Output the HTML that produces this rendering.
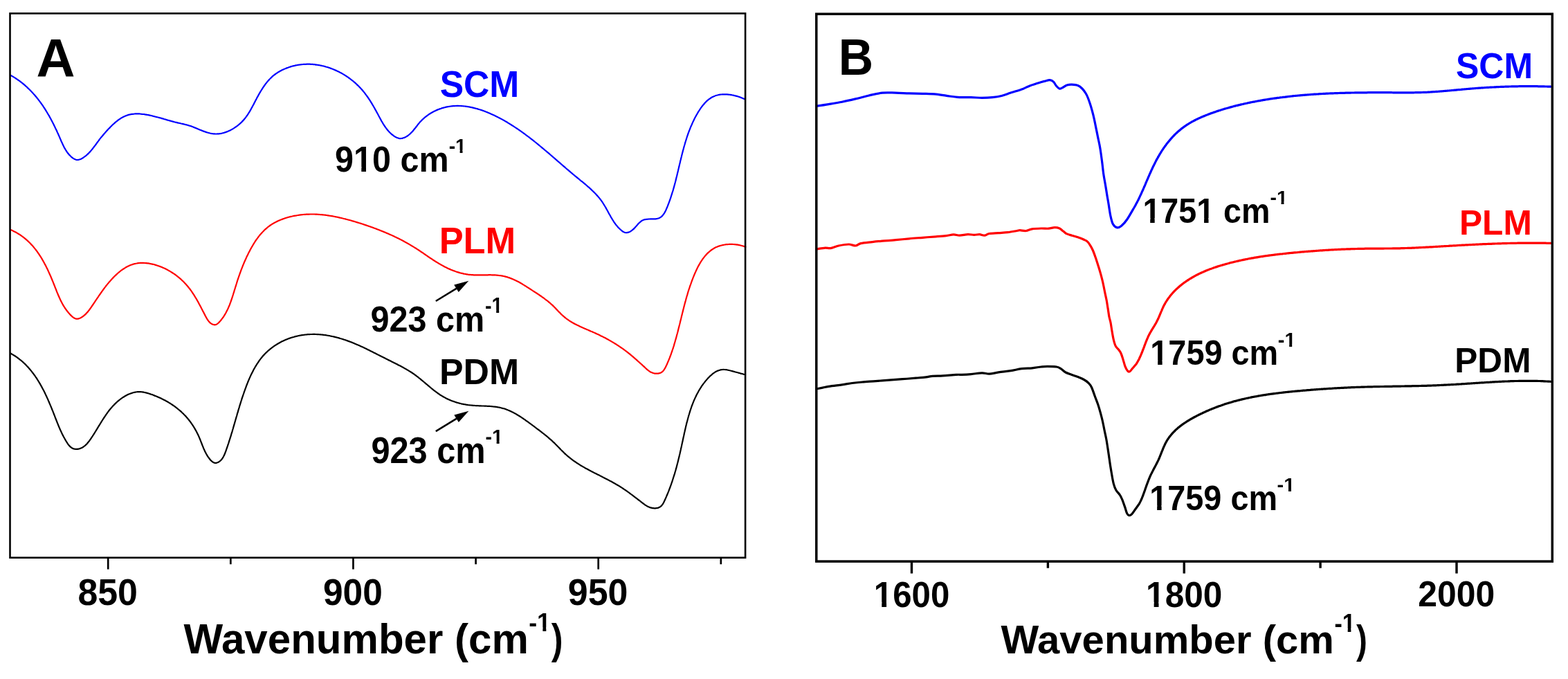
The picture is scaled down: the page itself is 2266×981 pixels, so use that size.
<!DOCTYPE html>
<html><head><meta charset="utf-8"><title>FTIR spectra</title>
<style>html,body{margin:0;padding:0;background:#fff;}svg{display:block;}</style>
</head><body>
<svg width="2266" height="981" viewBox="0 0 2266 981" font-family="Liberation Sans, Arial, sans-serif" font-weight="bold">
<rect width="2266" height="981" fill="#fff"/>
<defs><clipPath id="k2" clipPathUnits="userSpaceOnUse"><path clip-rule="evenodd" d="M11.00 262.00H1530.00V409.00H11.00ZM88.97 353.38H98.64V360.98H88.97ZM105.40 353.38H114.69V360.98H105.40Z"/></clipPath><clipPath id="k3" clipPathUnits="userSpaceOnUse"><path clip-rule="evenodd" d="M32.00 434.00H900.00V518.00H32.00ZM70.29 486.22H75.82V490.56H70.29ZM79.69 486.22H84.99V490.56H79.69Z"/></clipPath><clipPath id="k6" clipPathUnits="userSpaceOnUse"><path clip-rule="evenodd" d="M32.00 824.00H900.00V908.00H32.00ZM70.29 876.22H75.82V880.56H70.29ZM79.69 876.22H84.99V880.56H79.69Z"/></clipPath><clipPath id="k9" clipPathUnits="userSpaceOnUse"><path clip-rule="evenodd" d="M32.00 1214.00H900.00V1298.00H32.00ZM70.29 1266.22H75.82V1270.56H70.29ZM79.69 1266.22H84.99V1270.56H79.69Z"/></clipPath><clipPath id="k12" clipPathUnits="userSpaceOnUse"><path clip-rule="evenodd" d="M12.00 1564.00H1500.00V1708.00H12.00ZM61.68 1653.52H71.16V1660.96H61.68ZM77.78 1653.52H86.88V1660.96H77.78ZM141.76 1653.52H151.24V1660.96H141.76ZM157.86 1653.52H166.96V1660.96H157.86Z"/></clipPath><clipPath id="k13" clipPathUnits="userSpaceOnUse"><path clip-rule="evenodd" d="M33.00 1736.00H870.00V1817.00H33.00ZM69.93 1786.36H75.26V1790.54H69.93ZM78.99 1786.36H84.10V1790.54H78.99Z"/></clipPath><clipPath id="k15" clipPathUnits="userSpaceOnUse"><path clip-rule="evenodd" d="M12.00 1954.00H1500.00V2098.00H12.00ZM61.68 2043.52H71.16V2050.96H61.68ZM77.78 2043.52H86.88V2050.96H77.78Z"/></clipPath><clipPath id="k16" clipPathUnits="userSpaceOnUse"><path clip-rule="evenodd" d="M33.00 2126.00H870.00V2207.00H33.00ZM69.93 2176.36H75.26V2180.54H69.93ZM78.99 2176.36H84.10V2180.54H78.99Z"/></clipPath><clipPath id="k18" clipPathUnits="userSpaceOnUse"><path clip-rule="evenodd" d="M12.00 2344.00H1500.00V2488.00H12.00ZM61.68 2433.52H71.16V2440.96H61.68ZM77.78 2433.52H86.88V2440.96H77.78Z"/></clipPath><clipPath id="k19" clipPathUnits="userSpaceOnUse"><path clip-rule="evenodd" d="M33.00 2516.00H870.00V2597.00H33.00ZM69.93 2566.36H75.26V2570.54H69.93ZM78.99 2566.36H84.10V2570.54H78.99Z"/></clipPath><clipPath id="k23" clipPathUnits="userSpaceOnUse"><path clip-rule="evenodd" d="M10.00 2990.00H1560.00V3140.00H10.00ZM61.75 3083.25H71.62V3091.00H61.75ZM78.53 3083.25H88.00V3091.00H78.53Z"/></clipPath><clipPath id="k24" clipPathUnits="userSpaceOnUse"><path clip-rule="evenodd" d="M10.00 3120.00H1560.00V3270.00H10.00ZM61.75 3213.25H71.62V3221.00H61.75ZM78.53 3213.25H88.00V3221.00H78.53Z"/></clipPath><clipPath id="k27" clipPathUnits="userSpaceOnUse"><path clip-rule="evenodd" d="M25.00 3540.00H1110.00V3645.00H25.00ZM72.87 3605.28H79.78V3610.70H72.87ZM84.61 3605.28H91.24V3610.70H84.61Z"/></clipPath><clipPath id="k30" clipPathUnits="userSpaceOnUse"><path clip-rule="evenodd" d="M26.00 3932.00H1080.00V4034.00H26.00ZM72.50 3995.41H79.22V4000.68H72.50ZM83.91 3995.41H90.35V4000.68H83.91Z"/></clipPath></defs>
<path d="M15.0 108.6 C15.3 108.8 16.2 109.3 16.7 109.6 C17.3 109.9 17.9 110.3 18.5 110.6 C19.1 110.9 19.6 111.3 20.2 111.6 C20.8 112.0 21.3 112.3 21.9 112.7 C22.5 113.1 23.0 113.4 23.6 113.8 C24.1 114.2 24.7 114.5 25.2 114.9 C25.8 115.3 26.3 115.7 26.9 116.1 C27.4 116.4 27.9 116.8 28.5 117.2 C29.0 117.6 29.6 118.0 30.1 118.4 C30.6 118.8 31.1 119.3 31.7 119.7 C32.2 120.1 32.7 120.5 33.2 120.9 C33.7 121.4 34.2 121.8 34.8 122.2 C35.3 122.6 35.8 123.1 36.3 123.5 C36.8 124.0 37.3 124.4 37.8 124.9 C38.3 125.3 38.8 125.8 39.3 126.2 C39.7 126.7 40.2 127.1 40.7 127.6 C41.2 128.0 41.7 128.5 42.1 129.0 C42.6 129.4 43.1 129.9 43.6 130.4 C44.0 130.9 44.5 131.4 45.0 131.8 C45.4 132.3 45.9 132.8 46.3 133.3 C46.8 133.8 47.3 134.3 47.7 134.8 C48.2 135.3 48.6 135.8 49.0 136.3 C49.5 136.8 49.9 137.3 50.4 137.8 C50.8 138.3 51.2 138.8 51.7 139.3 C52.1 139.8 52.5 140.3 52.9 140.8 C53.4 141.4 53.8 141.9 54.2 142.4 C54.6 142.9 55.0 143.5 55.4 144.0 C55.9 144.5 56.3 145.0 56.7 145.6 C57.1 146.1 57.5 146.6 57.9 147.2 C58.3 147.7 58.7 148.2 59.0 148.8 C59.4 149.3 59.8 149.9 60.2 150.4 C60.6 151.0 61.0 151.5 61.4 152.0 C61.7 152.6 62.1 153.1 62.5 153.7 C62.8 154.2 63.2 154.8 63.6 155.4 C63.9 155.9 64.3 156.5 64.7 157.0 C65.0 157.6 65.4 158.1 65.7 158.7 C66.1 159.3 66.4 159.8 66.8 160.4 C67.1 161.0 67.5 161.5 67.8 162.1 C68.2 162.7 68.5 163.2 68.8 163.8 C69.2 164.4 69.5 164.9 69.8 165.5 C70.2 166.1 70.5 166.7 70.8 167.2 C71.2 167.8 71.5 168.4 71.8 169.0 C72.1 169.6 72.4 170.1 72.8 170.7 C73.1 171.3 73.4 171.9 73.7 172.5 C74.0 173.1 74.3 173.7 74.7 174.3 C75.0 174.8 75.3 175.4 75.6 176.0 C75.9 176.6 76.2 177.2 76.5 177.8 C76.8 178.4 77.1 179.0 77.4 179.6 C77.7 180.2 78.0 180.8 78.3 181.4 C78.6 182.0 78.9 182.6 79.2 183.2 C79.4 183.8 79.7 184.4 80.0 185.0 C80.3 185.6 80.6 186.2 80.9 186.8 C81.2 187.4 81.5 188.0 81.7 188.6 C82.0 189.2 82.3 189.8 82.6 190.5 C82.9 191.1 83.1 191.7 83.4 192.3 C83.7 192.9 84.0 193.5 84.3 194.1 C84.5 194.7 84.8 195.4 85.1 196.0 C85.4 196.6 85.6 197.2 85.9 197.8 C86.2 198.4 86.4 199.1 86.7 199.7 C87.0 200.3 87.2 200.9 87.5 201.5 C87.8 202.2 88.1 202.8 88.3 203.4 C88.6 204.0 88.9 204.6 89.1 205.3 C89.4 205.9 89.7 206.5 90.0 207.1 C90.3 207.7 90.5 208.3 90.8 208.9 C91.1 209.6 91.4 210.2 91.7 210.8 C92.0 211.4 92.3 212.0 92.6 212.6 C92.9 213.1 93.2 213.7 93.6 214.3 C93.9 214.9 94.2 215.5 94.6 216.1 C94.9 216.6 95.3 217.2 95.6 217.8 C96.0 218.3 96.4 218.9 96.7 219.4 C97.1 220.0 97.5 220.5 97.9 221.0 C98.3 221.5 98.7 222.1 99.2 222.6 C99.6 223.1 100.0 223.6 100.5 224.1 C101.0 224.6 101.4 225.0 101.9 225.5 C102.4 226.0 102.9 226.4 103.4 226.9 C103.9 227.3 104.5 227.8 105.0 228.2 C105.6 228.6 106.1 229.0 106.7 229.3 C107.3 229.6 107.9 230.0 108.5 230.2 C109.0 230.4 109.6 230.6 110.2 230.8 C110.8 230.9 111.5 231.0 112.1 231.0 C112.7 231.0 113.3 230.9 113.9 230.7 C114.5 230.6 115.1 230.4 115.7 230.2 C116.4 230.0 117.0 229.7 117.6 229.4 C118.2 229.1 118.7 228.7 119.3 228.4 C119.9 228.0 120.5 227.7 121.0 227.3 C121.6 226.9 122.1 226.5 122.7 226.1 C123.2 225.7 123.7 225.3 124.3 224.9 C124.8 224.4 125.3 224.0 125.8 223.5 C126.3 223.1 126.8 222.6 127.3 222.1 C127.8 221.7 128.3 221.2 128.7 220.7 C129.2 220.2 129.7 219.7 130.1 219.2 C130.6 218.7 131.0 218.2 131.5 217.7 C131.9 217.1 132.4 216.6 132.8 216.1 C133.3 215.5 133.7 215.0 134.1 214.5 C134.5 213.9 135.0 213.4 135.4 212.8 C135.8 212.3 136.2 211.8 136.6 211.2 C137.0 210.7 137.5 210.1 137.9 209.6 C138.3 209.0 138.7 208.5 139.1 207.9 C139.5 207.4 139.9 206.8 140.3 206.3 C140.7 205.7 141.1 205.2 141.5 204.6 C141.9 204.1 142.3 203.6 142.7 203.0 C143.1 202.5 143.4 202.0 143.8 201.5 C144.2 200.9 144.6 200.4 145.0 199.9 C145.4 199.4 145.8 198.9 146.2 198.4 C146.6 197.9 147.0 197.5 147.5 197.0 C147.9 196.5 148.3 196.0 148.7 195.5 C149.1 195.0 149.5 194.5 149.9 194.1 C150.3 193.6 150.8 193.1 151.2 192.6 C151.6 192.1 152.1 191.6 152.5 191.1 C152.9 190.6 153.4 190.1 153.8 189.6 C154.3 189.1 154.7 188.6 155.2 188.1 C155.6 187.6 156.1 187.1 156.5 186.6 C157.0 186.1 157.5 185.6 157.9 185.2 C158.4 184.7 158.9 184.2 159.3 183.7 C159.8 183.2 160.3 182.7 160.8 182.2 C161.3 181.7 161.8 181.3 162.3 180.8 C162.8 180.3 163.3 179.8 163.8 179.4 C164.3 178.9 164.8 178.5 165.3 178.0 C165.8 177.6 166.3 177.1 166.8 176.7 C167.4 176.2 167.9 175.8 168.4 175.4 C169.0 175.0 169.5 174.5 170.0 174.1 C170.6 173.7 171.1 173.3 171.7 172.9 C172.2 172.5 172.8 172.2 173.3 171.8 C173.9 171.4 174.4 171.1 175.0 170.7 C175.6 170.4 176.1 170.1 176.7 169.7 C177.3 169.4 177.9 169.1 178.5 168.8 C179.1 168.5 179.6 168.2 180.2 168.0 C180.8 167.7 181.4 167.4 182.0 167.2 C182.6 167.0 183.3 166.7 183.9 166.5 C184.5 166.3 185.1 166.1 185.7 165.9 C186.4 165.8 187.0 165.6 187.6 165.5 C188.2 165.3 188.9 165.2 189.5 165.1 C190.2 165.0 190.8 164.9 191.5 164.8 C192.1 164.7 192.8 164.6 193.4 164.6 C194.1 164.5 194.7 164.5 195.4 164.4 C196.1 164.4 196.7 164.4 197.4 164.4 C198.0 164.4 198.7 164.4 199.4 164.4 C200.1 164.4 200.7 164.4 201.4 164.4 C202.1 164.5 202.7 164.5 203.4 164.6 C204.1 164.6 204.8 164.7 205.4 164.8 C206.1 164.8 206.8 164.9 207.5 165.0 C208.2 165.1 208.8 165.2 209.5 165.3 C210.2 165.4 210.9 165.5 211.5 165.6 C212.2 165.8 212.9 165.9 213.6 166.0 C214.2 166.1 214.9 166.3 215.6 166.4 C216.3 166.6 216.9 166.7 217.6 166.8 C218.3 167.0 218.9 167.1 219.6 167.3 C220.2 167.5 220.9 167.6 221.6 167.8 C222.2 167.9 222.9 168.1 223.5 168.3 C224.2 168.4 224.8 168.6 225.5 168.8 C226.1 168.9 226.8 169.1 227.4 169.3 C228.1 169.5 228.7 169.6 229.3 169.8 C230.0 170.0 230.6 170.2 231.3 170.3 C231.9 170.5 232.5 170.7 233.2 170.9 C233.8 171.1 234.4 171.2 235.1 171.4 C235.7 171.6 236.3 171.8 237.0 172.0 C237.6 172.1 238.2 172.3 238.9 172.5 C239.5 172.7 240.1 172.9 240.8 173.1 C241.4 173.2 242.0 173.4 242.6 173.6 C243.3 173.8 243.9 174.0 244.5 174.1 C245.2 174.3 245.8 174.5 246.4 174.7 C247.1 174.8 247.7 175.0 248.3 175.2 C249.0 175.4 249.6 175.5 250.2 175.7 C250.9 175.9 251.5 176.0 252.1 176.2 C252.8 176.4 253.4 176.5 254.1 176.7 C254.7 176.8 255.3 177.0 256.0 177.1 C256.6 177.3 257.3 177.4 257.9 177.6 C258.6 177.7 259.2 177.9 259.9 178.0 C260.5 178.2 261.2 178.3 261.8 178.5 C262.5 178.6 263.1 178.8 263.8 178.9 C264.4 179.1 265.1 179.2 265.7 179.4 C266.4 179.5 267.0 179.7 267.7 179.9 C268.3 180.0 269.0 180.2 269.6 180.4 C270.3 180.5 270.9 180.7 271.6 180.9 C272.2 181.1 272.9 181.3 273.5 181.5 C274.1 181.7 274.8 181.9 275.4 182.1 C276.1 182.4 276.7 182.6 277.3 182.8 C278.0 183.1 278.6 183.3 279.2 183.5 C279.8 183.8 280.5 184.0 281.1 184.3 C281.7 184.5 282.4 184.8 283.0 185.0 C283.6 185.3 284.2 185.6 284.9 185.8 C285.5 186.1 286.1 186.3 286.7 186.6 C287.4 186.9 288.0 187.1 288.6 187.4 C289.2 187.6 289.8 187.9 290.5 188.1 C291.1 188.4 291.7 188.6 292.3 188.9 C292.9 189.1 293.6 189.4 294.2 189.6 C294.8 189.8 295.4 190.1 296.1 190.3 C296.7 190.5 297.3 190.7 297.9 190.9 C298.5 191.1 299.2 191.3 299.8 191.5 C300.4 191.7 301.0 191.9 301.7 192.0 C302.3 192.2 302.9 192.3 303.6 192.5 C304.2 192.6 304.8 192.7 305.4 192.9 C306.1 193.0 306.7 193.1 307.3 193.2 C308.0 193.2 308.6 193.3 309.3 193.4 C309.9 193.4 310.5 193.5 311.2 193.5 C311.8 193.5 312.5 193.5 313.1 193.5 C313.8 193.5 314.4 193.4 315.1 193.4 C315.7 193.3 316.3 193.3 317.0 193.2 C317.6 193.1 318.3 193.0 319.0 192.9 C319.6 192.8 320.3 192.6 320.9 192.5 C321.5 192.3 322.2 192.2 322.8 192.0 C323.5 191.8 324.1 191.6 324.8 191.4 C325.4 191.2 326.1 191.0 326.7 190.8 C327.4 190.6 328.0 190.3 328.6 190.1 C329.3 189.8 329.9 189.5 330.5 189.3 C331.1 189.0 331.8 188.7 332.4 188.4 C333.0 188.1 333.6 187.8 334.2 187.4 C334.9 187.1 335.5 186.8 336.1 186.4 C336.7 186.1 337.3 185.7 337.8 185.4 C338.4 185.0 339.0 184.6 339.6 184.2 C340.2 183.8 340.7 183.4 341.3 183.0 C341.9 182.6 342.4 182.2 343.0 181.8 C343.5 181.4 344.1 180.9 344.6 180.5 C345.1 180.1 345.7 179.6 346.2 179.2 C346.7 178.7 347.2 178.3 347.7 177.8 C348.2 177.3 348.7 176.9 349.2 176.4 C349.7 175.9 350.1 175.4 350.6 174.9 C351.0 174.5 351.5 174.0 351.9 173.5 C352.4 173.0 352.8 172.5 353.2 172.0 C353.7 171.5 354.1 170.9 354.5 170.4 C354.9 169.9 355.3 169.4 355.7 168.9 C356.1 168.3 356.4 167.8 356.8 167.3 C357.2 166.8 357.6 166.2 357.9 165.7 C358.3 165.1 358.6 164.6 359.0 164.0 C359.3 163.5 359.7 162.9 360.0 162.4 C360.4 161.8 360.7 161.3 361.0 160.7 C361.4 160.2 361.7 159.6 362.0 159.0 C362.3 158.5 362.7 157.9 363.0 157.3 C363.3 156.8 363.6 156.2 363.9 155.6 C364.2 155.0 364.5 154.5 364.8 153.9 C365.2 153.3 365.5 152.7 365.8 152.1 C366.1 151.6 366.4 151.0 366.7 150.4 C367.0 149.8 367.3 149.2 367.6 148.6 C367.9 148.0 368.2 147.4 368.5 146.9 C368.8 146.3 369.1 145.7 369.4 145.1 C369.7 144.5 370.0 143.9 370.4 143.3 C370.7 142.7 371.0 142.1 371.3 141.5 C371.6 140.9 371.9 140.3 372.3 139.8 C372.6 139.2 372.9 138.6 373.2 138.0 C373.5 137.4 373.9 136.8 374.2 136.2 C374.5 135.6 374.9 135.0 375.2 134.5 C375.5 133.9 375.9 133.3 376.2 132.7 C376.6 132.1 376.9 131.6 377.3 131.0 C377.6 130.4 378.0 129.8 378.3 129.3 C378.7 128.7 379.1 128.1 379.4 127.6 C379.8 127.0 380.2 126.4 380.5 125.9 C380.9 125.3 381.3 124.8 381.7 124.2 C382.1 123.7 382.5 123.1 382.8 122.6 C383.2 122.1 383.6 121.5 384.0 121.0 C384.5 120.5 384.9 119.9 385.3 119.4 C385.7 118.9 386.1 118.4 386.5 117.9 C387.0 117.4 387.4 116.9 387.8 116.4 C388.3 115.9 388.7 115.4 389.2 114.9 C389.6 114.4 390.1 113.9 390.6 113.5 C391.0 113.0 391.5 112.5 392.0 112.1 C392.5 111.6 392.9 111.2 393.4 110.7 C393.9 110.3 394.4 109.9 394.9 109.4 C395.5 109.0 396.0 108.6 396.5 108.2 C397.0 107.8 397.5 107.4 398.1 107.0 C398.6 106.6 399.2 106.2 399.7 105.8 C400.3 105.5 400.8 105.1 401.4 104.7 C401.9 104.4 402.5 104.0 403.1 103.7 C403.7 103.4 404.2 103.0 404.8 102.7 C405.4 102.4 406.0 102.0 406.6 101.7 C407.2 101.4 407.8 101.1 408.4 100.8 C409.0 100.5 409.6 100.3 410.2 100.0 C410.8 99.7 411.5 99.4 412.1 99.2 C412.7 98.9 413.3 98.7 414.0 98.4 C414.6 98.2 415.2 97.9 415.9 97.7 C416.5 97.5 417.1 97.2 417.8 97.0 C418.4 96.8 419.1 96.6 419.7 96.4 C420.4 96.2 421.0 96.0 421.7 95.8 C422.3 95.7 423.0 95.5 423.6 95.3 C424.3 95.2 424.9 95.0 425.6 94.9 C426.3 94.7 426.9 94.6 427.6 94.4 C428.2 94.3 428.9 94.2 429.6 94.0 C430.2 93.9 430.9 93.8 431.6 93.7 C432.2 93.6 432.9 93.5 433.6 93.4 C434.2 93.3 434.9 93.3 435.6 93.2 C436.2 93.1 436.9 93.1 437.6 93.0 C438.2 93.0 438.9 92.9 439.6 92.9 C440.2 92.8 440.9 92.8 441.6 92.8 C442.2 92.7 442.9 92.7 443.6 92.7 C444.2 92.7 444.9 92.7 445.5 92.7 C446.2 92.7 446.9 92.7 447.5 92.7 C448.2 92.8 448.9 92.8 449.5 92.8 C450.2 92.9 450.9 92.9 451.5 92.9 C452.2 93.0 452.8 93.1 453.5 93.1 C454.2 93.2 454.8 93.2 455.5 93.3 C456.1 93.4 456.8 93.5 457.5 93.6 C458.1 93.7 458.8 93.8 459.4 93.9 C460.1 94.0 460.7 94.1 461.4 94.2 C462.0 94.3 462.7 94.4 463.4 94.6 C464.0 94.7 464.7 94.8 465.3 95.0 C465.9 95.1 466.6 95.3 467.2 95.4 C467.9 95.6 468.5 95.8 469.2 95.9 C469.8 96.1 470.5 96.3 471.1 96.5 C471.7 96.6 472.4 96.8 473.0 97.0 C473.6 97.2 474.3 97.4 474.9 97.6 C475.5 97.8 476.2 98.0 476.8 98.3 C477.4 98.5 478.1 98.7 478.7 98.9 C479.3 99.2 479.9 99.4 480.5 99.7 C481.2 99.9 481.8 100.1 482.4 100.4 C483.0 100.7 483.6 100.9 484.2 101.2 C484.8 101.5 485.5 101.7 486.1 102.0 C486.7 102.3 487.3 102.6 487.9 102.9 C488.5 103.2 489.1 103.4 489.7 103.7 C490.3 104.0 490.9 104.4 491.4 104.7 C492.0 105.0 492.6 105.3 493.2 105.6 C493.8 105.9 494.4 106.3 495.0 106.6 C495.5 106.9 496.1 107.3 496.7 107.6 C497.3 108.0 497.8 108.3 498.4 108.7 C499.0 109.0 499.5 109.4 500.1 109.8 C500.6 110.1 501.2 110.5 501.8 110.9 C502.3 111.2 502.9 111.6 503.4 112.0 C504.0 112.4 504.5 112.8 505.0 113.2 C505.6 113.6 506.1 114.0 506.6 114.4 C507.2 114.8 507.7 115.2 508.2 115.6 C508.8 116.0 509.3 116.4 509.8 116.8 C510.3 117.3 510.8 117.7 511.3 118.1 C511.9 118.6 512.4 119.0 512.9 119.4 C513.4 119.9 513.9 120.3 514.4 120.8 C514.8 121.2 515.3 121.7 515.8 122.1 C516.3 122.6 516.8 123.1 517.3 123.5 C517.7 124.0 518.2 124.5 518.7 124.9 C519.1 125.4 519.6 125.9 520.1 126.4 C520.5 126.9 521.0 127.3 521.4 127.8 C521.9 128.3 522.3 128.8 522.8 129.3 C523.2 129.8 523.6 130.3 524.1 130.8 C524.5 131.3 524.9 131.8 525.4 132.4 C525.8 132.9 526.2 133.4 526.6 133.9 C527.0 134.4 527.4 135.0 527.8 135.5 C528.2 136.0 528.6 136.5 529.0 137.1 C529.4 137.6 529.8 138.2 530.2 138.7 C530.6 139.2 531.0 139.8 531.4 140.3 C531.7 140.9 532.1 141.4 532.5 142.0 C532.9 142.5 533.2 143.1 533.6 143.6 C534.0 144.2 534.3 144.7 534.7 145.3 C535.0 145.9 535.4 146.4 535.8 147.0 C536.1 147.6 536.5 148.1 536.8 148.7 C537.2 149.3 537.5 149.8 537.9 150.4 C538.2 151.0 538.5 151.6 538.9 152.1 C539.2 152.7 539.6 153.3 539.9 153.9 C540.2 154.5 540.6 155.0 540.9 155.6 C541.2 156.2 541.6 156.8 541.9 157.4 C542.2 158.0 542.5 158.5 542.9 159.1 C543.2 159.7 543.5 160.3 543.8 160.9 C544.2 161.5 544.5 162.1 544.8 162.7 C545.1 163.3 545.4 163.9 545.8 164.4 C546.1 165.0 546.4 165.6 546.7 166.2 C547.0 166.8 547.3 167.4 547.6 168.0 C548.0 168.6 548.3 169.2 548.6 169.8 C548.9 170.4 549.2 171.0 549.6 171.6 C549.9 172.1 550.2 172.7 550.5 173.3 C550.8 173.9 551.2 174.5 551.5 175.1 C551.8 175.6 552.2 176.2 552.5 176.8 C552.8 177.4 553.2 178.0 553.5 178.5 C553.9 179.1 554.2 179.7 554.6 180.2 C554.9 180.8 555.3 181.3 555.7 181.9 C556.0 182.4 556.4 183.0 556.8 183.5 C557.2 184.1 557.6 184.6 558.0 185.1 C558.4 185.7 558.8 186.2 559.2 186.7 C559.6 187.2 560.0 187.7 560.4 188.2 C560.9 188.8 561.3 189.3 561.7 189.7 C562.2 190.2 562.6 190.7 563.1 191.2 C563.6 191.7 564.1 192.1 564.5 192.6 C565.0 193.1 565.5 193.5 566.0 194.0 C566.6 194.4 567.1 194.8 567.6 195.2 C568.2 195.7 568.7 196.1 569.3 196.5 C569.8 196.9 570.4 197.3 571.0 197.6 C571.6 198.0 572.1 198.3 572.7 198.6 C573.3 198.9 574.0 199.1 574.6 199.3 C575.2 199.5 575.8 199.7 576.5 199.9 C577.1 200.0 577.7 200.1 578.4 200.1 C579.0 200.1 579.7 200.1 580.3 200.0 C581.0 199.9 581.6 199.7 582.3 199.5 C582.9 199.4 583.6 199.1 584.2 198.9 C584.8 198.6 585.5 198.3 586.1 198.0 C586.7 197.7 587.3 197.3 587.9 196.9 C588.5 196.6 589.1 196.2 589.6 195.8 C590.2 195.4 590.7 195.0 591.3 194.5 C591.8 194.1 592.3 193.7 592.8 193.2 C593.3 192.7 593.8 192.3 594.2 191.8 C594.7 191.3 595.2 190.9 595.6 190.4 C596.1 189.9 596.5 189.4 597.0 188.9 C597.4 188.4 597.8 187.8 598.2 187.3 C598.7 186.8 599.1 186.3 599.5 185.8 C599.9 185.2 600.3 184.7 600.7 184.2 C601.1 183.7 601.5 183.1 602.0 182.6 C602.4 182.1 602.8 181.5 603.2 181.0 C603.6 180.5 604.0 179.9 604.4 179.4 C604.9 178.9 605.3 178.4 605.7 177.9 C606.1 177.4 606.6 176.8 607.0 176.3 C607.5 175.8 607.9 175.3 608.4 174.9 C608.9 174.4 609.3 173.9 609.8 173.4 C610.3 172.9 610.8 172.5 611.3 172.0 C611.8 171.6 612.3 171.1 612.8 170.7 C613.3 170.2 613.8 169.8 614.3 169.3 C614.9 168.9 615.4 168.5 615.9 168.1 C616.5 167.7 617.0 167.3 617.6 166.9 C618.1 166.5 618.7 166.1 619.2 165.7 C619.8 165.3 620.3 164.9 620.9 164.6 C621.5 164.2 622.1 163.8 622.6 163.5 C623.2 163.1 623.8 162.8 624.4 162.5 C625.0 162.1 625.6 161.8 626.2 161.5 C626.8 161.2 627.4 160.9 628.0 160.6 C628.6 160.3 629.2 160.0 629.8 159.7 C630.4 159.4 631.0 159.1 631.7 158.9 C632.3 158.6 632.9 158.3 633.5 158.1 C634.1 157.9 634.8 157.6 635.4 157.4 C636.0 157.2 636.6 156.9 637.3 156.7 C637.9 156.5 638.5 156.3 639.1 156.1 C639.8 155.9 640.4 155.8 641.0 155.6 C641.7 155.4 642.3 155.2 642.9 155.1 C643.6 154.9 644.2 154.8 644.8 154.6 C645.5 154.5 646.1 154.4 646.8 154.3 C647.4 154.1 648.0 154.0 648.7 153.9 C649.3 153.8 649.9 153.7 650.6 153.6 C651.2 153.5 651.9 153.5 652.5 153.4 C653.2 153.3 653.8 153.3 654.4 153.2 C655.1 153.1 655.7 153.1 656.4 153.1 C657.0 153.0 657.7 153.0 658.3 153.0 C658.9 152.9 659.6 152.9 660.2 152.9 C660.9 152.9 661.5 152.9 662.2 152.9 C662.8 152.9 663.5 152.9 664.1 153.0 C664.8 153.0 665.4 153.0 666.1 153.0 C666.7 153.1 667.4 153.1 668.0 153.2 C668.7 153.2 669.3 153.3 670.0 153.3 C670.6 153.4 671.3 153.5 671.9 153.5 C672.5 153.6 673.2 153.7 673.8 153.8 C674.5 153.9 675.1 154.0 675.8 154.1 C676.4 154.2 677.1 154.3 677.7 154.4 C678.4 154.5 679.0 154.6 679.7 154.8 C680.3 154.9 681.0 155.0 681.6 155.2 C682.3 155.3 682.9 155.5 683.6 155.6 C684.2 155.8 684.9 155.9 685.5 156.1 C686.1 156.2 686.8 156.4 687.4 156.6 C688.1 156.7 688.7 156.9 689.4 157.1 C690.0 157.3 690.7 157.5 691.3 157.7 C691.9 157.9 692.6 158.1 693.2 158.3 C693.9 158.5 694.5 158.7 695.1 158.9 C695.8 159.1 696.4 159.3 697.1 159.6 C697.7 159.8 698.3 160.0 699.0 160.2 C699.6 160.5 700.3 160.7 700.9 160.9 C701.5 161.2 702.2 161.4 702.8 161.7 C703.4 161.9 704.1 162.2 704.7 162.4 C705.3 162.7 706.0 163.0 706.6 163.2 C707.2 163.5 707.8 163.8 708.5 164.0 C709.1 164.3 709.7 164.6 710.3 164.9 C711.0 165.2 711.6 165.4 712.2 165.7 C712.8 166.0 713.5 166.3 714.1 166.6 C714.7 166.9 715.3 167.2 715.9 167.5 C716.5 167.8 717.2 168.1 717.8 168.4 C718.4 168.7 719.0 169.0 719.6 169.3 C720.2 169.7 720.8 170.0 721.4 170.3 C722.0 170.6 722.7 170.9 723.3 171.3 C723.9 171.6 724.5 171.9 725.1 172.2 C725.7 172.6 726.3 172.9 726.9 173.2 C727.5 173.6 728.1 173.9 728.7 174.2 C729.2 174.6 729.8 174.9 730.4 175.3 C731.0 175.6 731.6 175.9 732.2 176.3 C732.8 176.6 733.4 177.0 733.9 177.3 C734.5 177.7 735.1 178.0 735.7 178.4 C736.3 178.7 736.8 179.1 737.4 179.5 C738.0 179.8 738.6 180.2 739.1 180.5 C739.7 180.9 740.3 181.3 740.8 181.6 C741.4 182.0 742.0 182.3 742.5 182.7 C743.1 183.1 743.7 183.4 744.2 183.8 C744.8 184.2 745.3 184.6 745.9 184.9 C746.5 185.3 747.0 185.7 747.6 186.0 C748.1 186.4 748.7 186.8 749.2 187.2 C749.8 187.6 750.3 187.9 750.9 188.3 C751.4 188.7 752.0 189.1 752.5 189.5 C753.1 189.8 753.6 190.2 754.1 190.6 C754.7 191.0 755.2 191.4 755.8 191.8 C756.3 192.2 756.8 192.6 757.4 192.9 C757.9 193.3 758.4 193.7 759.0 194.1 C759.5 194.5 760.0 194.9 760.6 195.3 C761.1 195.7 761.6 196.1 762.2 196.5 C762.7 196.9 763.2 197.3 763.8 197.7 C764.3 198.1 764.8 198.5 765.3 198.9 C765.9 199.3 766.4 199.7 766.9 200.1 C767.4 200.5 767.9 200.9 768.5 201.3 C769.0 201.7 769.5 202.1 770.0 202.5 C770.5 203.0 771.1 203.4 771.6 203.8 C772.1 204.2 772.6 204.6 773.1 205.0 C773.6 205.4 774.1 205.8 774.7 206.2 C775.2 206.7 775.7 207.1 776.2 207.5 C776.7 207.9 777.2 208.3 777.7 208.7 C778.2 209.2 778.7 209.6 779.3 210.0 C779.8 210.4 780.3 210.8 780.8 211.3 C781.3 211.7 781.8 212.1 782.3 212.5 C782.8 212.9 783.3 213.4 783.8 213.8 C784.3 214.2 784.8 214.6 785.3 215.0 C785.8 215.5 786.3 215.9 786.8 216.3 C787.3 216.7 787.8 217.2 788.4 217.6 C788.9 218.0 789.4 218.5 789.9 218.9 C790.4 219.3 790.9 219.7 791.4 220.2 C791.9 220.6 792.4 221.0 792.9 221.4 C793.4 221.9 793.9 222.3 794.4 222.7 C794.9 223.2 795.4 223.6 795.9 224.0 C796.4 224.5 796.9 224.9 797.4 225.3 C797.9 225.8 798.4 226.2 798.9 226.6 C799.4 227.0 799.9 227.5 800.4 227.9 C800.9 228.3 801.4 228.8 801.9 229.2 C802.4 229.6 802.9 230.1 803.4 230.5 C803.9 230.9 804.4 231.4 804.9 231.8 C805.4 232.2 805.9 232.7 806.4 233.1 C806.9 233.5 807.4 234.0 807.9 234.4 C808.4 234.8 808.9 235.3 809.4 235.7 C809.9 236.1 810.4 236.6 810.9 237.0 C811.4 237.5 811.9 237.9 812.4 238.3 C812.9 238.8 813.4 239.2 813.9 239.6 C814.4 240.1 814.9 240.5 815.4 240.9 C815.9 241.4 816.4 241.8 816.9 242.2 C817.4 242.7 817.9 243.1 818.4 243.5 C818.9 244.0 819.4 244.4 819.9 244.8 C820.4 245.3 821.0 245.7 821.5 246.1 C822.0 246.6 822.5 247.0 823.0 247.4 C823.5 247.9 824.0 248.3 824.5 248.7 C825.0 249.1 825.6 249.6 826.1 250.0 C826.6 250.4 827.1 250.9 827.6 251.3 C828.1 251.7 828.6 252.2 829.2 252.6 C829.7 253.0 830.2 253.4 830.7 253.9 C831.2 254.3 831.7 254.7 832.3 255.2 C832.8 255.6 833.3 256.0 833.8 256.4 C834.3 256.9 834.9 257.3 835.4 257.7 C835.9 258.1 836.4 258.6 837.0 259.0 C837.5 259.4 838.0 259.9 838.5 260.3 C839.1 260.7 839.6 261.1 840.1 261.6 C840.6 262.0 841.2 262.4 841.7 262.8 C842.2 263.3 842.7 263.7 843.2 264.1 C843.8 264.6 844.3 265.0 844.8 265.4 C845.3 265.9 845.8 266.3 846.4 266.7 C846.9 267.2 847.4 267.6 847.9 268.0 C848.4 268.5 848.9 268.9 849.4 269.4 C849.9 269.8 850.4 270.3 851.0 270.7 C851.5 271.1 852.0 271.6 852.5 272.0 C853.0 272.5 853.5 272.9 853.9 273.4 C854.4 273.9 854.9 274.3 855.4 274.8 C855.9 275.2 856.4 275.7 856.9 276.2 C857.3 276.6 857.8 277.1 858.3 277.6 C858.8 278.0 859.2 278.5 859.7 279.0 C860.2 279.5 860.6 280.0 861.1 280.4 C861.5 280.9 862.0 281.4 862.4 281.9 C862.9 282.4 863.3 282.9 863.8 283.4 C864.2 283.9 864.6 284.4 865.1 284.9 C865.5 285.4 865.9 285.9 866.3 286.4 C866.7 287.0 867.2 287.5 867.6 288.0 C868.0 288.5 868.4 289.1 868.8 289.6 C869.2 290.1 869.5 290.7 869.9 291.2 C870.3 291.8 870.7 292.3 871.0 292.9 C871.4 293.4 871.8 294.0 872.1 294.6 C872.5 295.1 872.8 295.7 873.2 296.3 C873.5 296.8 873.9 297.4 874.2 298.0 C874.6 298.6 874.9 299.1 875.2 299.7 C875.6 300.3 875.9 300.9 876.2 301.5 C876.5 302.1 876.9 302.7 877.2 303.2 C877.5 303.8 877.8 304.4 878.2 305.0 C878.5 305.6 878.8 306.2 879.1 306.8 C879.5 307.4 879.8 308.0 880.1 308.6 C880.4 309.1 880.7 309.7 881.1 310.3 C881.4 310.9 881.7 311.5 882.1 312.1 C882.4 312.7 882.7 313.2 883.0 313.8 C883.4 314.4 883.7 315.0 884.1 315.5 C884.4 316.1 884.7 316.7 885.1 317.3 C885.4 317.8 885.8 318.4 886.2 318.9 C886.5 319.5 886.9 320.1 887.2 320.6 C887.6 321.2 888.0 321.7 888.4 322.2 C888.7 322.8 889.1 323.3 889.5 323.8 C889.9 324.4 890.3 324.9 890.7 325.4 C891.2 325.9 891.6 326.4 892.0 326.9 C892.4 327.4 892.9 327.9 893.3 328.4 C893.8 328.9 894.2 329.4 894.7 329.8 C895.1 330.3 895.6 330.8 896.1 331.2 C896.6 331.7 897.1 332.1 897.6 332.5 C898.1 333.0 898.6 333.4 899.2 333.8 C899.7 334.2 900.2 334.6 900.8 334.9 C901.4 335.2 901.9 335.5 902.5 335.7 C903.1 335.9 903.7 336.0 904.3 336.1 C904.9 336.2 905.5 336.1 906.2 336.1 C906.8 336.0 907.4 335.8 908.1 335.7 C908.7 335.5 909.3 335.2 910.0 334.9 C910.6 334.6 911.2 334.3 911.8 333.9 C912.4 333.5 912.9 333.1 913.5 332.7 C914.0 332.3 914.6 331.8 915.1 331.3 C915.6 330.9 916.1 330.4 916.6 329.9 C917.1 329.4 917.6 328.9 918.1 328.3 C918.5 327.8 919.0 327.3 919.5 326.8 C919.9 326.2 920.4 325.7 920.8 325.2 C921.3 324.7 921.7 324.1 922.2 323.6 C922.7 323.1 923.1 322.6 923.6 322.2 C924.1 321.7 924.6 321.2 925.1 320.8 C925.6 320.4 926.1 320.0 926.6 319.6 C927.1 319.2 927.6 318.9 928.2 318.6 C928.8 318.3 929.3 318.0 929.9 317.7 C930.5 317.5 931.2 317.3 931.8 317.2 C932.5 317.0 933.1 316.9 933.8 316.8 C934.5 316.7 935.2 316.6 935.9 316.6 C936.6 316.5 937.3 316.5 938.0 316.5 C938.7 316.4 939.4 316.4 940.1 316.4 C940.9 316.4 941.6 316.4 942.3 316.4 C943.0 316.4 943.7 316.4 944.4 316.4 C945.1 316.4 945.8 316.4 946.5 316.3 C947.2 316.3 947.9 316.2 948.5 316.1 C949.2 316.0 949.8 315.9 950.5 315.7 C951.1 315.6 951.7 315.4 952.3 315.2 C952.8 314.9 953.4 314.7 953.9 314.4 C954.4 314.1 954.9 313.7 955.4 313.4 C955.9 313.0 956.3 312.6 956.8 312.1 C957.2 311.7 957.6 311.2 958.0 310.8 C958.4 310.3 958.8 309.8 959.2 309.2 C959.6 308.7 959.9 308.1 960.3 307.6 C960.6 307.0 960.9 306.4 961.2 305.8 C961.6 305.2 961.9 304.6 962.2 304.0 C962.5 303.4 962.7 302.7 963.0 302.1 C963.3 301.5 963.6 300.8 963.8 300.2 C964.1 299.5 964.4 298.9 964.6 298.2 C964.9 297.6 965.1 297.0 965.4 296.3 C965.6 295.7 965.9 295.0 966.1 294.4 C966.4 293.8 966.6 293.1 966.8 292.5 C967.1 291.9 967.3 291.2 967.5 290.6 C967.8 290.0 968.0 289.3 968.2 288.7 C968.4 288.1 968.6 287.4 968.9 286.8 C969.1 286.2 969.3 285.5 969.5 284.9 C969.7 284.3 969.9 283.7 970.1 283.0 C970.3 282.4 970.5 281.8 970.7 281.1 C970.9 280.5 971.1 279.9 971.3 279.2 C971.5 278.6 971.7 278.0 971.9 277.3 C972.1 276.7 972.3 276.1 972.5 275.5 C972.7 274.8 972.8 274.2 973.0 273.6 C973.2 272.9 973.4 272.3 973.6 271.6 C973.8 271.0 973.9 270.4 974.1 269.7 C974.3 269.1 974.5 268.5 974.6 267.8 C974.8 267.2 975.0 266.5 975.2 265.9 C975.3 265.3 975.5 264.6 975.7 264.0 C975.8 263.3 976.0 262.7 976.2 262.0 C976.3 261.4 976.5 260.8 976.7 260.1 C976.8 259.5 977.0 258.8 977.1 258.2 C977.3 257.5 977.5 256.9 977.6 256.2 C977.8 255.6 977.9 254.9 978.1 254.3 C978.3 253.6 978.4 253.0 978.6 252.4 C978.7 251.7 978.9 251.1 979.0 250.4 C979.2 249.8 979.4 249.1 979.5 248.5 C979.7 247.8 979.8 247.2 980.0 246.5 C980.1 245.9 980.3 245.2 980.4 244.6 C980.6 243.9 980.8 243.2 980.9 242.6 C981.1 241.9 981.2 241.3 981.4 240.6 C981.5 240.0 981.7 239.3 981.8 238.7 C982.0 238.0 982.1 237.4 982.3 236.7 C982.5 236.1 982.6 235.4 982.8 234.8 C982.9 234.1 983.1 233.5 983.2 232.8 C983.4 232.2 983.5 231.5 983.7 230.9 C983.9 230.2 984.0 229.6 984.2 228.9 C984.3 228.3 984.5 227.6 984.7 227.0 C984.8 226.3 985.0 225.7 985.1 225.0 C985.3 224.4 985.5 223.7 985.6 223.1 C985.8 222.4 986.0 221.8 986.1 221.1 C986.3 220.5 986.5 219.8 986.6 219.2 C986.8 218.5 987.0 217.9 987.1 217.2 C987.3 216.6 987.5 215.9 987.7 215.3 C987.8 214.6 988.0 214.0 988.2 213.3 C988.4 212.7 988.5 212.1 988.7 211.4 C988.9 210.8 989.1 210.1 989.3 209.5 C989.5 208.8 989.6 208.2 989.8 207.6 C990.0 206.9 990.2 206.3 990.4 205.6 C990.6 205.0 990.8 204.4 991.0 203.7 C991.2 203.1 991.4 202.4 991.6 201.8 C991.8 201.2 992.0 200.5 992.2 199.9 C992.4 199.3 992.6 198.6 992.8 198.0 C993.0 197.4 993.2 196.7 993.4 196.1 C993.7 195.5 993.9 194.8 994.1 194.2 C994.3 193.6 994.5 193.0 994.8 192.3 C995.0 191.7 995.2 191.1 995.4 190.5 C995.7 189.8 995.9 189.2 996.2 188.6 C996.4 188.0 996.6 187.3 996.9 186.7 C997.1 186.1 997.4 185.5 997.6 184.9 C997.9 184.3 998.1 183.6 998.4 183.0 C998.6 182.4 998.9 181.8 999.2 181.2 C999.4 180.6 999.7 180.0 1000.0 179.4 C1000.2 178.7 1000.5 178.1 1000.8 177.5 C1001.1 176.9 1001.3 176.3 1001.6 175.7 C1001.9 175.1 1002.2 174.5 1002.5 173.9 C1002.8 173.3 1003.1 172.7 1003.4 172.1 C1003.7 171.5 1004.0 170.9 1004.3 170.3 C1004.6 169.8 1004.9 169.2 1005.2 168.6 C1005.5 168.0 1005.9 167.4 1006.2 166.8 C1006.5 166.2 1006.8 165.6 1007.2 165.1 C1007.5 164.5 1007.8 163.9 1008.2 163.3 C1008.5 162.7 1008.9 162.2 1009.2 161.6 C1009.6 161.0 1009.9 160.4 1010.3 159.9 C1010.7 159.3 1011.0 158.7 1011.4 158.2 C1011.8 157.6 1012.2 157.1 1012.5 156.5 C1012.9 156.0 1013.3 155.4 1013.7 154.9 C1014.1 154.3 1014.5 153.8 1014.9 153.3 C1015.3 152.7 1015.7 152.2 1016.1 151.7 C1016.6 151.2 1017.0 150.7 1017.4 150.2 C1017.9 149.7 1018.3 149.2 1018.7 148.7 C1019.2 148.2 1019.7 147.7 1020.1 147.3 C1020.6 146.8 1021.0 146.4 1021.5 145.9 C1022.0 145.5 1022.5 145.1 1023.0 144.6 C1023.5 144.2 1024.0 143.8 1024.5 143.4 C1025.0 143.0 1025.5 142.7 1026.1 142.3 C1026.6 141.9 1027.1 141.6 1027.7 141.2 C1028.2 140.9 1028.8 140.6 1029.3 140.3 C1029.9 140.0 1030.5 139.7 1031.1 139.4 C1031.6 139.2 1032.2 138.9 1032.8 138.7 C1033.5 138.4 1034.1 138.2 1034.7 138.0 C1035.3 137.8 1036.0 137.6 1036.6 137.5 C1037.2 137.3 1037.9 137.2 1038.6 137.0 C1039.2 136.9 1039.9 136.8 1040.6 136.7 C1041.3 136.6 1041.9 136.5 1042.6 136.5 C1043.3 136.4 1044.0 136.4 1044.7 136.3 C1045.4 136.3 1046.1 136.3 1046.8 136.3 C1047.5 136.3 1048.2 136.3 1048.9 136.3 C1049.7 136.3 1050.4 136.4 1051.1 136.4 C1051.8 136.5 1052.5 136.6 1053.2 136.6 C1053.9 136.7 1054.6 136.8 1055.3 136.9 C1056.1 137.0 1056.8 137.1 1057.5 137.2 C1058.2 137.4 1058.9 137.5 1059.6 137.6 C1060.3 137.8 1060.9 137.9 1061.6 138.1 C1062.3 138.2 1063.0 138.4 1063.7 138.6 C1064.3 138.8 1065.0 139.0 1065.6 139.2 C1066.3 139.3 1066.9 139.6 1067.6 139.8 C1068.2 140.0 1068.8 140.2 1069.4 140.4 C1070.0 140.6 1070.6 140.9 1071.2 141.1 C1071.8 141.3 1072.4 141.6 1072.9 141.8 C1073.5 142.0 1074.0 142.3 1074.6 142.5 C1075.1 142.8 1075.9 143.2 1076.1 143.3" fill="none" stroke="#0000ff" stroke-width="2.20" stroke-linejoin="round" stroke-linecap="round"/>
<path d="M15.3 332.0 C15.6 332.1 16.6 332.6 17.2 332.8 C17.9 333.1 18.5 333.4 19.1 333.7 C19.7 334.0 20.4 334.3 21.0 334.7 C21.6 335.0 22.2 335.3 22.8 335.6 C23.4 335.9 24.0 336.3 24.6 336.6 C25.2 337.0 25.8 337.3 26.3 337.7 C26.9 338.0 27.5 338.4 28.1 338.7 C28.6 339.1 29.2 339.5 29.7 339.8 C30.3 340.2 30.8 340.6 31.4 341.0 C31.9 341.4 32.5 341.8 33.0 342.2 C33.5 342.6 34.1 343.0 34.6 343.4 C35.1 343.8 35.6 344.2 36.1 344.6 C36.6 345.0 37.1 345.4 37.6 345.9 C38.1 346.3 38.6 346.7 39.1 347.2 C39.6 347.6 40.1 348.1 40.6 348.5 C41.1 349.0 41.5 349.4 42.0 349.9 C42.5 350.3 42.9 350.8 43.4 351.3 C43.8 351.7 44.3 352.2 44.8 352.7 C45.2 353.2 45.6 353.6 46.1 354.1 C46.5 354.6 47.0 355.1 47.4 355.6 C47.8 356.1 48.3 356.6 48.7 357.1 C49.1 357.6 49.5 358.1 49.9 358.6 C50.3 359.1 50.8 359.6 51.2 360.2 C51.6 360.7 52.0 361.2 52.4 361.7 C52.8 362.2 53.1 362.8 53.5 363.3 C53.9 363.8 54.3 364.4 54.7 364.9 C55.1 365.5 55.4 366.0 55.8 366.5 C56.2 367.1 56.6 367.6 56.9 368.2 C57.3 368.7 57.7 369.3 58.0 369.9 C58.4 370.4 58.7 371.0 59.1 371.5 C59.4 372.1 59.8 372.7 60.1 373.2 C60.5 373.8 60.8 374.4 61.1 375.0 C61.5 375.5 61.8 376.1 62.1 376.7 C62.5 377.3 62.8 377.9 63.1 378.5 C63.4 379.0 63.8 379.6 64.1 380.2 C64.4 380.8 64.7 381.4 65.0 382.0 C65.3 382.6 65.7 383.2 66.0 383.8 C66.3 384.4 66.6 385.0 66.9 385.6 C67.2 386.2 67.5 386.8 67.8 387.4 C68.1 388.0 68.4 388.6 68.7 389.2 C68.9 389.8 69.2 390.4 69.5 391.0 C69.8 391.7 70.1 392.3 70.4 392.9 C70.7 393.5 70.9 394.1 71.2 394.7 C71.5 395.3 71.8 396.0 72.0 396.6 C72.3 397.2 72.6 397.8 72.9 398.4 C73.1 399.1 73.4 399.7 73.7 400.3 C73.9 400.9 74.2 401.5 74.4 402.2 C74.7 402.8 75.0 403.4 75.2 404.0 C75.5 404.7 75.7 405.3 76.0 405.9 C76.3 406.5 76.5 407.2 76.8 407.8 C77.0 408.4 77.3 409.0 77.5 409.7 C77.8 410.3 78.0 410.9 78.3 411.6 C78.5 412.2 78.8 412.8 79.0 413.4 C79.2 414.1 79.5 414.7 79.7 415.3 C80.0 415.9 80.2 416.6 80.5 417.2 C80.7 417.8 81.0 418.4 81.2 419.1 C81.5 419.7 81.7 420.3 81.9 420.9 C82.2 421.5 82.4 422.2 82.7 422.8 C82.9 423.4 83.2 424.0 83.5 424.6 C83.7 425.2 84.0 425.9 84.2 426.5 C84.5 427.1 84.8 427.7 85.0 428.3 C85.3 428.9 85.6 429.5 85.8 430.1 C86.1 430.7 86.4 431.3 86.7 431.9 C86.9 432.5 87.2 433.1 87.5 433.7 C87.8 434.3 88.1 434.9 88.4 435.5 C88.7 436.1 89.0 436.7 89.3 437.2 C89.6 437.8 89.9 438.4 90.2 439.0 C90.5 439.5 90.9 440.1 91.2 440.7 C91.5 441.3 91.9 441.8 92.2 442.4 C92.6 443.0 92.9 443.5 93.3 444.1 C93.6 444.6 94.0 445.2 94.4 445.7 C94.7 446.3 95.1 446.8 95.5 447.3 C95.9 447.9 96.3 448.4 96.7 449.0 C97.1 449.5 97.5 450.0 97.9 450.5 C98.3 451.0 98.8 451.6 99.2 452.1 C99.6 452.6 100.1 453.1 100.5 453.6 C101.0 454.1 101.5 454.6 101.9 455.1 C102.4 455.6 102.9 456.1 103.4 456.5 C103.9 457.0 104.4 457.5 104.9 457.9 C105.5 458.3 106.0 458.7 106.5 459.1 C107.1 459.4 107.6 459.7 108.2 460.0 C108.8 460.2 109.3 460.4 109.9 460.6 C110.5 460.7 111.1 460.7 111.7 460.7 C112.3 460.7 113.0 460.6 113.6 460.4 C114.2 460.2 114.9 460.0 115.5 459.7 C116.1 459.5 116.7 459.1 117.3 458.8 C118.0 458.4 118.6 458.0 119.1 457.6 C119.7 457.2 120.3 456.8 120.9 456.4 C121.4 455.9 121.9 455.5 122.5 455.0 C123.0 454.6 123.5 454.1 124.0 453.6 C124.5 453.1 124.9 452.6 125.4 452.1 C125.9 451.6 126.3 451.1 126.8 450.6 C127.2 450.0 127.6 449.5 128.1 449.0 C128.5 448.4 128.9 447.9 129.3 447.3 C129.7 446.8 130.1 446.2 130.5 445.7 C130.9 445.1 131.3 444.6 131.7 444.0 C132.1 443.5 132.4 442.9 132.8 442.3 C133.2 441.8 133.6 441.2 134.0 440.7 C134.3 440.1 134.7 439.6 135.1 439.0 C135.5 438.5 135.8 437.9 136.2 437.3 C136.6 436.8 137.0 436.2 137.3 435.7 C137.7 435.1 138.1 434.6 138.4 434.0 C138.8 433.5 139.2 432.9 139.6 432.4 C139.9 431.8 140.3 431.3 140.7 430.7 C141.0 430.2 141.4 429.6 141.8 429.1 C142.2 428.5 142.5 428.0 142.9 427.4 C143.3 426.9 143.7 426.3 144.0 425.8 C144.4 425.3 144.8 424.7 145.2 424.2 C145.5 423.6 145.9 423.1 146.3 422.5 C146.7 422.0 147.0 421.5 147.4 420.9 C147.8 420.4 148.2 419.9 148.6 419.3 C149.0 418.8 149.4 418.3 149.7 417.7 C150.1 417.2 150.5 416.7 150.9 416.2 C151.3 415.6 151.7 415.1 152.1 414.6 C152.5 414.1 152.9 413.5 153.3 413.0 C153.7 412.5 154.1 412.0 154.6 411.5 C155.0 410.9 155.4 410.4 155.8 409.9 C156.2 409.4 156.7 408.9 157.1 408.4 C157.5 407.9 157.9 407.4 158.4 406.9 C158.8 406.4 159.3 405.9 159.7 405.4 C160.1 404.9 160.6 404.4 161.0 403.9 C161.5 403.4 162.0 402.9 162.4 402.4 C162.9 401.9 163.3 401.4 163.8 400.9 C164.3 400.4 164.8 399.9 165.2 399.5 C165.7 399.0 166.2 398.5 166.7 398.0 C167.2 397.6 167.7 397.1 168.2 396.6 C168.7 396.2 169.2 395.7 169.7 395.2 C170.2 394.8 170.7 394.3 171.3 393.9 C171.8 393.5 172.3 393.0 172.8 392.6 C173.4 392.2 173.9 391.7 174.4 391.3 C175.0 390.9 175.5 390.5 176.1 390.1 C176.6 389.7 177.2 389.3 177.7 388.9 C178.3 388.6 178.9 388.2 179.4 387.8 C180.0 387.5 180.6 387.1 181.1 386.8 C181.7 386.4 182.3 386.1 182.9 385.8 C183.4 385.5 184.0 385.1 184.6 384.8 C185.2 384.5 185.8 384.3 186.4 384.0 C187.0 383.7 187.6 383.5 188.2 383.2 C188.8 383.0 189.4 382.7 190.0 382.5 C190.6 382.3 191.3 382.1 191.9 381.9 C192.5 381.7 193.1 381.5 193.8 381.3 C194.4 381.2 195.0 381.0 195.7 380.9 C196.3 380.8 196.9 380.6 197.6 380.5 C198.2 380.4 198.8 380.3 199.5 380.2 C200.1 380.2 200.8 380.1 201.4 380.0 C202.1 380.0 202.7 379.9 203.4 379.9 C204.1 379.9 204.7 379.9 205.4 379.9 C206.0 379.9 206.7 379.9 207.3 379.9 C208.0 379.9 208.7 379.9 209.3 380.0 C210.0 380.0 210.6 380.1 211.3 380.1 C212.0 380.2 212.6 380.3 213.3 380.3 C214.0 380.4 214.6 380.5 215.3 380.6 C216.0 380.7 216.6 380.8 217.3 381.0 C217.9 381.1 218.6 381.2 219.3 381.4 C219.9 381.5 220.6 381.7 221.2 381.8 C221.9 382.0 222.6 382.2 223.2 382.3 C223.9 382.5 224.5 382.7 225.2 382.9 C225.8 383.1 226.5 383.3 227.1 383.5 C227.8 383.7 228.4 384.0 229.1 384.2 C229.7 384.4 230.4 384.7 231.0 384.9 C231.6 385.1 232.3 385.4 232.9 385.6 C233.5 385.9 234.2 386.2 234.8 386.4 C235.4 386.7 236.0 387.0 236.6 387.3 C237.3 387.5 237.9 387.8 238.5 388.1 C239.1 388.4 239.7 388.7 240.3 389.0 C240.9 389.3 241.5 389.6 242.1 389.9 C242.7 390.3 243.3 390.6 243.9 390.9 C244.5 391.2 245.0 391.6 245.6 391.9 C246.2 392.3 246.8 392.6 247.3 393.0 C247.9 393.3 248.5 393.7 249.0 394.0 C249.6 394.4 250.2 394.8 250.7 395.1 C251.3 395.5 251.8 395.9 252.4 396.3 C252.9 396.6 253.4 397.0 254.0 397.4 C254.5 397.8 255.0 398.2 255.6 398.6 C256.1 399.0 256.6 399.4 257.1 399.9 C257.7 400.3 258.2 400.7 258.7 401.1 C259.2 401.5 259.7 402.0 260.2 402.4 C260.7 402.8 261.2 403.3 261.7 403.7 C262.2 404.2 262.7 404.6 263.1 405.1 C263.6 405.5 264.1 406.0 264.6 406.4 C265.0 406.9 265.5 407.4 266.0 407.8 C266.4 408.3 266.9 408.8 267.3 409.3 C267.8 409.7 268.2 410.2 268.7 410.7 C269.1 411.2 269.6 411.7 270.0 412.2 C270.4 412.7 270.9 413.2 271.3 413.7 C271.7 414.2 272.1 414.7 272.5 415.2 C272.9 415.7 273.3 416.2 273.7 416.8 C274.1 417.3 274.5 417.8 274.9 418.3 C275.3 418.8 275.7 419.4 276.1 419.9 C276.5 420.4 276.9 421.0 277.2 421.5 C277.6 422.1 278.0 422.6 278.3 423.2 C278.7 423.7 279.1 424.3 279.4 424.8 C279.8 425.4 280.1 425.9 280.5 426.5 C280.9 427.0 281.2 427.6 281.5 428.2 C281.9 428.7 282.2 429.3 282.6 429.9 C282.9 430.5 283.3 431.0 283.6 431.6 C283.9 432.2 284.3 432.8 284.6 433.3 C284.9 433.9 285.3 434.5 285.6 435.1 C285.9 435.7 286.2 436.3 286.6 436.9 C286.9 437.4 287.2 438.0 287.5 438.6 C287.9 439.2 288.2 439.8 288.5 440.4 C288.8 441.0 289.1 441.6 289.4 442.2 C289.8 442.8 290.1 443.4 290.4 444.0 C290.7 444.6 291.0 445.2 291.3 445.8 C291.7 446.5 292.0 447.1 292.3 447.7 C292.6 448.3 292.9 448.9 293.2 449.5 C293.5 450.1 293.9 450.7 294.2 451.3 C294.5 452.0 294.8 452.6 295.1 453.2 C295.5 453.8 295.8 454.4 296.1 455.0 C296.4 455.7 296.7 456.3 297.1 456.9 C297.4 457.5 297.7 458.1 298.0 458.7 C298.4 459.3 298.7 460.0 299.1 460.5 C299.4 461.1 299.8 461.7 300.2 462.3 C300.6 462.8 301.0 463.4 301.4 463.9 C301.8 464.4 302.3 464.9 302.7 465.4 C303.2 465.9 303.7 466.3 304.2 466.8 C304.8 467.2 305.3 467.6 305.9 467.9 C306.5 468.2 307.1 468.5 307.7 468.7 C308.3 469.0 308.9 469.1 309.5 469.2 C310.0 469.3 310.6 469.3 311.2 469.2 C311.8 469.1 312.3 468.9 312.8 468.7 C313.4 468.4 313.9 468.1 314.4 467.7 C314.9 467.3 315.4 466.9 315.8 466.5 C316.3 466.0 316.8 465.5 317.2 465.0 C317.7 464.5 318.1 464.0 318.6 463.5 C319.0 463.0 319.4 462.5 319.8 462.0 C320.2 461.5 320.6 460.9 321.0 460.4 C321.4 459.9 321.8 459.3 322.2 458.8 C322.6 458.3 323.0 457.7 323.3 457.2 C323.7 456.6 324.0 456.0 324.4 455.5 C324.7 454.9 325.1 454.4 325.4 453.8 C325.7 453.2 326.1 452.6 326.4 452.1 C326.7 451.5 327.0 450.9 327.3 450.3 C327.6 449.7 327.9 449.1 328.2 448.5 C328.5 447.9 328.8 447.3 329.1 446.7 C329.4 446.1 329.6 445.5 329.9 444.9 C330.2 444.3 330.4 443.7 330.7 443.1 C331.0 442.5 331.2 441.9 331.5 441.2 C331.7 440.6 332.0 440.0 332.2 439.4 C332.4 438.7 332.7 438.1 332.9 437.5 C333.2 436.9 333.4 436.2 333.6 435.6 C333.8 435.0 334.1 434.3 334.3 433.7 C334.5 433.0 334.7 432.4 334.9 431.8 C335.2 431.1 335.4 430.5 335.6 429.8 C335.8 429.2 336.0 428.6 336.2 427.9 C336.4 427.3 336.6 426.6 336.8 426.0 C337.0 425.3 337.2 424.7 337.4 424.0 C337.6 423.4 337.8 422.7 338.0 422.1 C338.2 421.4 338.4 420.8 338.6 420.1 C338.8 419.5 339.0 418.8 339.2 418.2 C339.4 417.5 339.6 416.9 339.8 416.3 C340.0 415.6 340.2 415.0 340.4 414.3 C340.6 413.7 340.8 413.0 341.0 412.4 C341.2 411.7 341.4 411.1 341.6 410.5 C341.8 409.8 342.0 409.2 342.2 408.5 C342.4 407.9 342.6 407.3 342.8 406.6 C343.0 406.0 343.2 405.3 343.4 404.7 C343.6 404.1 343.8 403.4 344.0 402.8 C344.3 402.2 344.5 401.5 344.7 400.9 C344.9 400.3 345.1 399.7 345.3 399.0 C345.6 398.4 345.8 397.8 346.0 397.1 C346.2 396.5 346.4 395.9 346.7 395.3 C346.9 394.6 347.1 394.0 347.3 393.4 C347.6 392.8 347.8 392.2 348.0 391.5 C348.3 390.9 348.5 390.3 348.7 389.7 C349.0 389.0 349.2 388.4 349.4 387.8 C349.7 387.2 349.9 386.6 350.2 386.0 C350.4 385.3 350.6 384.7 350.9 384.1 C351.1 383.5 351.4 382.9 351.6 382.3 C351.9 381.7 352.1 381.1 352.4 380.4 C352.7 379.8 352.9 379.2 353.2 378.6 C353.4 378.0 353.7 377.4 354.0 376.8 C354.2 376.2 354.5 375.6 354.8 375.0 C355.0 374.4 355.3 373.8 355.6 373.2 C355.9 372.6 356.2 372.0 356.4 371.3 C356.7 370.7 357.0 370.1 357.3 369.5 C357.6 368.9 357.9 368.3 358.2 367.7 C358.5 367.1 358.7 366.5 359.0 365.9 C359.3 365.4 359.6 364.8 359.9 364.2 C360.3 363.6 360.6 363.0 360.9 362.4 C361.2 361.8 361.5 361.2 361.8 360.6 C362.1 360.0 362.5 359.4 362.8 358.8 C363.1 358.2 363.4 357.6 363.8 357.1 C364.1 356.5 364.4 355.9 364.8 355.3 C365.1 354.7 365.4 354.2 365.8 353.6 C366.1 353.0 366.5 352.4 366.8 351.9 C367.2 351.3 367.5 350.7 367.9 350.2 C368.3 349.6 368.6 349.0 369.0 348.5 C369.4 347.9 369.8 347.4 370.1 346.8 C370.5 346.3 370.9 345.7 371.3 345.2 C371.7 344.6 372.1 344.1 372.5 343.6 C372.9 343.0 373.3 342.5 373.7 342.0 C374.1 341.4 374.5 340.9 374.9 340.4 C375.3 339.9 375.7 339.4 376.2 338.9 C376.6 338.4 377.0 337.9 377.5 337.4 C377.9 336.9 378.4 336.4 378.8 335.9 C379.3 335.4 379.7 334.9 380.2 334.5 C380.6 334.0 381.1 333.5 381.6 333.1 C382.0 332.6 382.5 332.1 383.0 331.7 C383.5 331.2 384.0 330.8 384.5 330.4 C385.0 329.9 385.5 329.5 386.0 329.1 C386.5 328.7 387.0 328.3 387.5 327.8 C388.0 327.4 388.5 327.0 389.1 326.7 C389.6 326.3 390.1 325.9 390.7 325.5 C391.2 325.1 391.8 324.8 392.3 324.4 C392.9 324.0 393.5 323.7 394.0 323.3 C394.6 323.0 395.2 322.7 395.7 322.3 C396.3 322.0 396.9 321.7 397.5 321.4 C398.1 321.1 398.7 320.7 399.3 320.4 C399.9 320.1 400.5 319.8 401.1 319.6 C401.7 319.3 402.3 319.0 402.9 318.7 C403.5 318.4 404.1 318.2 404.8 317.9 C405.4 317.7 406.0 317.4 406.6 317.2 C407.3 316.9 407.9 316.7 408.5 316.4 C409.2 316.2 409.8 316.0 410.5 315.8 C411.1 315.5 411.7 315.3 412.4 315.1 C413.0 314.9 413.7 314.7 414.3 314.5 C415.0 314.3 415.6 314.1 416.3 313.9 C417.0 313.8 417.6 313.6 418.3 313.4 C418.9 313.2 419.6 313.1 420.3 312.9 C420.9 312.8 421.6 312.6 422.2 312.5 C422.9 312.3 423.6 312.2 424.2 312.0 C424.9 311.9 425.6 311.8 426.2 311.7 C426.9 311.5 427.6 311.4 428.3 311.3 C428.9 311.2 429.6 311.1 430.3 311.0 C430.9 310.9 431.6 310.8 432.3 310.7 C432.9 310.6 433.6 310.5 434.3 310.4 C434.9 310.4 435.6 310.3 436.3 310.2 C436.9 310.1 437.6 310.1 438.3 310.0 C438.9 310.0 439.6 309.9 440.3 309.9 C440.9 309.8 441.6 309.8 442.3 309.7 C442.9 309.7 443.6 309.7 444.3 309.6 C444.9 309.6 445.6 309.6 446.3 309.6 C446.9 309.5 447.6 309.5 448.3 309.5 C448.9 309.5 449.6 309.5 450.2 309.5 C450.9 309.5 451.6 309.5 452.2 309.5 C452.9 309.5 453.6 309.5 454.2 309.5 C454.9 309.6 455.5 309.6 456.2 309.6 C456.9 309.6 457.5 309.7 458.2 309.7 C458.8 309.7 459.5 309.8 460.2 309.8 C460.8 309.9 461.5 309.9 462.1 310.0 C462.8 310.0 463.4 310.1 464.1 310.1 C464.8 310.2 465.4 310.2 466.1 310.3 C466.7 310.4 467.4 310.4 468.0 310.5 C468.7 310.6 469.4 310.7 470.0 310.7 C470.7 310.8 471.3 310.9 472.0 311.0 C472.6 311.1 473.3 311.2 473.9 311.3 C474.6 311.4 475.3 311.4 475.9 311.6 C476.6 311.7 477.2 311.8 477.9 311.9 C478.5 312.0 479.2 312.1 479.8 312.2 C480.5 312.3 481.1 312.4 481.8 312.5 C482.4 312.7 483.1 312.8 483.7 312.9 C484.4 313.0 485.0 313.2 485.7 313.3 C486.3 313.4 487.0 313.6 487.6 313.7 C488.3 313.8 488.9 314.0 489.6 314.1 C490.2 314.3 490.9 314.4 491.5 314.6 C492.2 314.7 492.8 314.9 493.5 315.0 C494.1 315.2 494.8 315.3 495.4 315.5 C496.1 315.6 496.7 315.8 497.3 316.0 C498.0 316.1 498.6 316.3 499.3 316.4 C499.9 316.6 500.6 316.8 501.2 317.0 C501.9 317.1 502.5 317.3 503.2 317.5 C503.8 317.6 504.4 317.8 505.1 318.0 C505.7 318.2 506.4 318.4 507.0 318.5 C507.7 318.7 508.3 318.9 508.9 319.1 C509.6 319.3 510.2 319.5 510.9 319.7 C511.5 319.8 512.1 320.0 512.8 320.2 C513.4 320.4 514.1 320.6 514.7 320.8 C515.3 321.0 516.0 321.2 516.6 321.4 C517.3 321.6 517.9 321.8 518.5 322.0 C519.2 322.2 519.8 322.4 520.5 322.6 C521.1 322.8 521.7 323.0 522.4 323.2 C523.0 323.4 523.6 323.6 524.3 323.8 C524.9 324.0 525.6 324.3 526.2 324.5 C526.8 324.7 527.5 324.9 528.1 325.1 C528.7 325.3 529.4 325.5 530.0 325.7 C530.6 326.0 531.3 326.2 531.9 326.4 C532.5 326.6 533.2 326.8 533.8 327.0 C534.4 327.3 535.1 327.5 535.7 327.7 C536.3 327.9 536.9 328.2 537.6 328.4 C538.2 328.6 538.8 328.8 539.5 329.1 C540.1 329.3 540.7 329.5 541.3 329.8 C542.0 330.0 542.6 330.2 543.2 330.5 C543.8 330.7 544.5 330.9 545.1 331.2 C545.7 331.4 546.3 331.7 547.0 331.9 C547.6 332.1 548.2 332.4 548.8 332.6 C549.5 332.9 550.1 333.1 550.7 333.4 C551.3 333.6 551.9 333.9 552.6 334.1 C553.2 334.4 553.8 334.6 554.4 334.9 C555.0 335.1 555.7 335.4 556.3 335.6 C556.9 335.9 557.5 336.1 558.1 336.4 C558.7 336.7 559.3 336.9 560.0 337.2 C560.6 337.5 561.2 337.7 561.8 338.0 C562.4 338.3 563.0 338.5 563.6 338.8 C564.2 339.1 564.8 339.3 565.4 339.6 C566.1 339.9 566.7 340.2 567.3 340.5 C567.9 340.7 568.5 341.0 569.1 341.3 C569.7 341.6 570.3 341.9 570.9 342.2 C571.5 342.4 572.1 342.7 572.7 343.0 C573.3 343.3 573.9 343.6 574.5 343.9 C575.1 344.2 575.7 344.5 576.3 344.8 C576.9 345.1 577.5 345.4 578.1 345.7 C578.7 346.0 579.2 346.3 579.8 346.6 C580.4 346.9 581.0 347.2 581.6 347.5 C582.2 347.8 582.8 348.1 583.4 348.5 C584.0 348.8 584.6 349.1 585.1 349.4 C585.7 349.7 586.3 350.0 586.9 350.4 C587.5 350.7 588.1 351.0 588.6 351.3 C589.2 351.7 589.8 352.0 590.4 352.3 C590.9 352.7 591.5 353.0 592.1 353.3 C592.7 353.7 593.2 354.0 593.8 354.4 C594.4 354.7 595.0 355.0 595.5 355.4 C596.1 355.7 596.7 356.1 597.2 356.4 C597.8 356.8 598.4 357.1 598.9 357.5 C599.5 357.8 600.1 358.2 600.6 358.6 C601.2 358.9 601.8 359.3 602.3 359.6 C602.9 360.0 603.4 360.4 604.0 360.7 C604.5 361.1 605.1 361.5 605.7 361.8 C606.2 362.2 606.8 362.6 607.3 363.0 C607.9 363.3 608.4 363.7 609.0 364.1 C609.5 364.5 610.1 364.8 610.7 365.2 C611.2 365.6 611.8 366.0 612.3 366.3 C612.9 366.7 613.4 367.1 614.0 367.5 C614.5 367.8 615.1 368.2 615.6 368.6 C616.2 369.0 616.7 369.4 617.3 369.7 C617.8 370.1 618.4 370.5 618.9 370.9 C619.5 371.2 620.0 371.6 620.6 372.0 C621.1 372.3 621.7 372.7 622.3 373.1 C622.8 373.5 623.4 373.8 623.9 374.2 C624.5 374.6 625.0 374.9 625.6 375.3 C626.1 375.7 626.7 376.0 627.3 376.4 C627.8 376.8 628.4 377.1 628.9 377.5 C629.5 377.8 630.1 378.2 630.6 378.5 C631.2 378.9 631.8 379.2 632.3 379.6 C632.9 379.9 633.5 380.3 634.0 380.6 C634.6 380.9 635.2 381.3 635.8 381.6 C636.3 382.0 636.9 382.3 637.5 382.6 C638.1 382.9 638.6 383.3 639.2 383.6 C639.8 383.9 640.4 384.2 641.0 384.5 C641.6 384.8 642.1 385.1 642.7 385.5 C643.3 385.8 643.9 386.1 644.5 386.3 C645.1 386.6 645.7 386.9 646.3 387.2 C646.9 387.5 647.5 387.8 648.1 388.1 C648.7 388.3 649.3 388.6 649.9 388.9 C650.5 389.1 651.1 389.4 651.7 389.7 C652.3 389.9 652.9 390.2 653.6 390.4 C654.2 390.6 654.8 390.9 655.4 391.1 C656.0 391.4 656.6 391.6 657.3 391.8 C657.9 392.0 658.5 392.2 659.1 392.5 C659.8 392.7 660.4 392.9 661.0 393.1 C661.6 393.3 662.3 393.5 662.9 393.6 C663.5 393.8 664.2 394.0 664.8 394.2 C665.4 394.4 666.1 394.5 666.7 394.7 C667.4 394.8 668.0 395.0 668.6 395.1 C669.3 395.3 669.9 395.4 670.6 395.6 C671.2 395.7 671.9 395.8 672.5 395.9 C673.2 396.1 673.8 396.2 674.5 396.3 C675.1 396.4 675.8 396.5 676.4 396.6 C677.1 396.6 677.8 396.7 678.4 396.8 C679.1 396.9 679.8 396.9 680.4 397.0 C681.1 397.0 681.7 397.1 682.4 397.1 C683.1 397.2 683.7 397.2 684.4 397.3 C685.1 397.3 685.8 397.3 686.4 397.3 C687.1 397.4 687.8 397.4 688.5 397.4 C689.1 397.4 689.8 397.4 690.5 397.4 C691.2 397.4 691.8 397.4 692.5 397.4 C693.2 397.4 693.9 397.4 694.5 397.4 C695.2 397.4 695.9 397.4 696.6 397.4 C697.3 397.4 697.9 397.3 698.6 397.3 C699.3 397.3 700.0 397.3 700.7 397.3 C701.3 397.3 702.0 397.3 702.7 397.3 C703.4 397.3 704.0 397.3 704.7 397.3 C705.4 397.2 706.1 397.2 706.8 397.2 C707.4 397.2 708.1 397.2 708.8 397.2 C709.5 397.2 710.1 397.3 710.8 397.3 C711.5 397.3 712.1 397.3 712.8 397.3 C713.5 397.3 714.2 397.4 714.8 397.4 C715.5 397.4 716.2 397.5 716.8 397.5 C717.5 397.6 718.2 397.6 718.8 397.7 C719.5 397.7 720.1 397.8 720.8 397.9 C721.5 397.9 722.1 398.0 722.8 398.1 C723.4 398.2 724.1 398.3 724.7 398.4 C725.4 398.5 726.0 398.6 726.7 398.7 C727.3 398.9 727.9 399.0 728.6 399.2 C729.2 399.3 729.9 399.5 730.5 399.6 C731.1 399.8 731.8 400.0 732.4 400.2 C733.0 400.3 733.7 400.5 734.3 400.7 C734.9 401.0 735.5 401.2 736.2 401.4 C736.8 401.6 737.4 401.8 738.0 402.1 C738.6 402.3 739.2 402.6 739.9 402.8 C740.5 403.1 741.1 403.3 741.7 403.6 C742.3 403.9 742.9 404.1 743.5 404.4 C744.1 404.7 744.7 405.0 745.3 405.3 C745.9 405.6 746.5 405.9 747.1 406.2 C747.7 406.5 748.3 406.8 748.9 407.1 C749.5 407.4 750.1 407.7 750.7 408.1 C751.3 408.4 751.9 408.7 752.4 409.1 C753.0 409.4 753.6 409.7 754.2 410.1 C754.8 410.4 755.4 410.8 755.9 411.1 C756.5 411.5 757.1 411.8 757.7 412.2 C758.3 412.5 758.8 412.9 759.4 413.2 C760.0 413.6 760.6 413.9 761.1 414.3 C761.7 414.7 762.3 415.0 762.8 415.4 C763.4 415.8 764.0 416.1 764.6 416.5 C765.1 416.9 765.7 417.2 766.2 417.6 C766.8 418.0 767.4 418.3 767.9 418.7 C768.5 419.1 769.1 419.4 769.6 419.8 C770.2 420.2 770.7 420.5 771.3 420.9 C771.9 421.3 772.4 421.6 773.0 422.0 C773.5 422.4 774.1 422.7 774.6 423.1 C775.2 423.4 775.8 423.8 776.3 424.2 C776.9 424.5 777.4 424.9 778.0 425.3 C778.5 425.6 779.1 426.0 779.6 426.4 C780.1 426.8 780.7 427.1 781.2 427.5 C781.8 427.9 782.3 428.2 782.9 428.6 C783.4 429.0 783.9 429.4 784.5 429.8 C785.0 430.1 785.5 430.5 786.1 430.9 C786.6 431.3 787.1 431.7 787.6 432.1 C788.2 432.5 788.7 432.9 789.2 433.3 C789.7 433.7 790.3 434.1 790.8 434.5 C791.3 434.9 791.8 435.3 792.3 435.7 C792.8 436.1 793.3 436.6 793.8 437.0 C794.4 437.4 794.9 437.8 795.4 438.3 C795.9 438.7 796.4 439.1 796.9 439.6 C797.4 440.0 797.8 440.5 798.3 440.9 C798.8 441.4 799.3 441.9 799.8 442.3 C800.3 442.8 800.8 443.3 801.2 443.8 C801.7 444.2 802.2 444.7 802.7 445.2 C803.1 445.7 803.6 446.2 804.1 446.7 C804.5 447.2 805.0 447.7 805.5 448.2 C806.0 448.7 806.4 449.2 806.9 449.7 C807.4 450.2 807.8 450.7 808.3 451.2 C808.8 451.6 809.3 452.1 809.8 452.6 C810.2 453.1 810.7 453.6 811.2 454.1 C811.7 454.5 812.2 455.0 812.7 455.5 C813.2 455.9 813.7 456.4 814.2 456.8 C814.7 457.3 815.2 457.7 815.7 458.1 C816.2 458.6 816.7 459.0 817.3 459.4 C817.8 459.8 818.3 460.2 818.8 460.6 C819.4 461.0 819.9 461.4 820.5 461.8 C821.0 462.1 821.5 462.5 822.1 462.9 C822.6 463.2 823.2 463.6 823.8 464.0 C824.3 464.3 824.9 464.7 825.4 465.0 C826.0 465.3 826.6 465.7 827.1 466.0 C827.7 466.3 828.3 466.7 828.9 467.0 C829.4 467.3 830.0 467.6 830.6 467.9 C831.2 468.2 831.8 468.5 832.4 468.8 C833.0 469.1 833.6 469.4 834.1 469.7 C834.7 470.0 835.3 470.3 835.9 470.6 C836.5 470.9 837.1 471.2 837.7 471.4 C838.3 471.7 838.9 472.0 839.6 472.3 C840.2 472.6 840.8 472.8 841.4 473.1 C842.0 473.4 842.6 473.6 843.2 473.9 C843.8 474.2 844.4 474.4 845.0 474.7 C845.7 475.0 846.3 475.2 846.9 475.5 C847.5 475.8 848.1 476.0 848.7 476.3 C849.3 476.5 850.0 476.8 850.6 477.1 C851.2 477.3 851.8 477.6 852.4 477.9 C853.0 478.1 853.6 478.4 854.3 478.7 C854.9 478.9 855.5 479.2 856.1 479.4 C856.7 479.7 857.3 480.0 857.9 480.3 C858.5 480.5 859.2 480.8 859.8 481.1 C860.4 481.3 861.0 481.6 861.6 481.9 C862.2 482.2 862.8 482.5 863.4 482.7 C864.0 483.0 864.6 483.3 865.2 483.6 C865.8 483.9 866.4 484.2 867.0 484.5 C867.6 484.8 868.2 485.1 868.8 485.4 C869.4 485.7 870.0 485.9 870.6 486.2 C871.2 486.6 871.8 486.9 872.4 487.2 C873.0 487.5 873.6 487.8 874.2 488.1 C874.8 488.4 875.4 488.7 875.9 489.0 C876.5 489.3 877.1 489.7 877.7 490.0 C878.3 490.3 878.9 490.6 879.4 490.9 C880.0 491.3 880.6 491.6 881.2 491.9 C881.8 492.2 882.3 492.6 882.9 492.9 C883.5 493.2 884.1 493.6 884.6 493.9 C885.2 494.3 885.8 494.6 886.4 494.9 C886.9 495.3 887.5 495.6 888.1 496.0 C888.6 496.3 889.2 496.7 889.8 497.0 C890.3 497.4 890.9 497.7 891.4 498.1 C892.0 498.5 892.6 498.8 893.1 499.2 C893.7 499.6 894.2 499.9 894.8 500.3 C895.3 500.7 895.9 501.0 896.4 501.4 C897.0 501.8 897.5 502.2 898.1 502.5 C898.6 502.9 899.2 503.3 899.7 503.7 C900.2 504.1 900.8 504.5 901.3 504.8 C901.8 505.2 902.4 505.6 902.9 506.0 C903.4 506.4 904.0 506.8 904.5 507.2 C905.0 507.6 905.6 508.0 906.1 508.4 C906.6 508.8 907.1 509.2 907.7 509.7 C908.2 510.1 908.7 510.5 909.2 510.9 C909.7 511.3 910.3 511.7 910.8 512.1 C911.3 512.6 911.8 513.0 912.3 513.4 C912.8 513.8 913.3 514.3 913.9 514.7 C914.4 515.1 914.9 515.6 915.4 516.0 C915.9 516.4 916.4 516.9 916.9 517.3 C917.4 517.7 917.9 518.2 918.4 518.6 C918.9 519.0 919.4 519.5 919.9 519.9 C920.4 520.4 920.9 520.8 921.4 521.3 C921.9 521.7 922.4 522.2 922.9 522.6 C923.4 523.1 923.9 523.5 924.4 524.0 C924.9 524.4 925.4 524.9 925.9 525.3 C926.4 525.8 926.9 526.2 927.4 526.7 C927.9 527.1 928.4 527.6 928.9 528.1 C929.4 528.5 929.9 529.0 930.4 529.4 C930.9 529.9 931.4 530.4 931.9 530.8 C932.4 531.3 932.9 531.7 933.4 532.2 C933.9 532.7 934.4 533.1 934.9 533.6 C935.4 534.0 935.9 534.5 936.5 534.9 C937.0 535.3 937.5 535.7 938.1 536.1 C938.6 536.5 939.2 536.9 939.7 537.2 C940.3 537.5 940.9 537.8 941.5 538.1 C942.1 538.4 942.8 538.6 943.4 538.8 C944.0 539.1 944.7 539.2 945.4 539.4 C946.0 539.5 946.7 539.6 947.4 539.7 C948.0 539.7 948.7 539.7 949.4 539.7 C950.0 539.7 950.7 539.7 951.3 539.6 C952.0 539.5 952.6 539.3 953.2 539.1 C953.8 539.0 954.4 538.7 955.0 538.5 C955.5 538.2 956.1 537.9 956.6 537.5 C957.1 537.2 957.5 536.7 958.0 536.3 C958.4 535.9 958.8 535.4 959.2 534.9 C959.6 534.3 960.0 533.8 960.3 533.2 C960.7 532.7 961.0 532.1 961.3 531.5 C961.7 530.9 962.0 530.2 962.3 529.6 C962.6 529.0 962.9 528.4 963.2 527.8 C963.4 527.1 963.7 526.5 964.0 525.9 C964.3 525.3 964.6 524.6 964.8 524.0 C965.1 523.4 965.4 522.7 965.7 522.1 C965.9 521.5 966.2 520.9 966.4 520.2 C966.7 519.6 967.0 519.0 967.2 518.3 C967.5 517.7 967.7 517.1 968.0 516.4 C968.2 515.8 968.4 515.2 968.7 514.5 C968.9 513.9 969.2 513.3 969.4 512.6 C969.6 512.0 969.8 511.4 970.1 510.7 C970.3 510.1 970.5 509.5 970.7 508.8 C971.0 508.2 971.2 507.6 971.4 506.9 C971.6 506.3 971.8 505.7 972.0 505.0 C972.2 504.4 972.5 503.7 972.7 503.1 C972.9 502.5 973.1 501.8 973.3 501.2 C973.5 500.6 973.7 499.9 973.9 499.3 C974.1 498.6 974.3 498.0 974.4 497.4 C974.6 496.7 974.8 496.1 975.0 495.4 C975.2 494.8 975.4 494.2 975.6 493.5 C975.8 492.9 975.9 492.2 976.1 491.6 C976.3 491.0 976.5 490.3 976.7 489.7 C976.9 489.0 977.0 488.4 977.2 487.7 C977.4 487.1 977.6 486.5 977.7 485.8 C977.9 485.2 978.1 484.5 978.2 483.9 C978.4 483.3 978.6 482.6 978.8 482.0 C978.9 481.3 979.1 480.7 979.3 480.0 C979.4 479.4 979.6 478.8 979.8 478.1 C979.9 477.5 980.1 476.8 980.3 476.2 C980.4 475.5 980.6 474.9 980.7 474.3 C980.9 473.6 981.1 473.0 981.2 472.3 C981.4 471.7 981.6 471.0 981.7 470.4 C981.9 469.8 982.0 469.1 982.2 468.5 C982.4 467.8 982.5 467.2 982.7 466.5 C982.8 465.9 983.0 465.2 983.1 464.6 C983.3 464.0 983.5 463.3 983.6 462.7 C983.8 462.0 983.9 461.4 984.1 460.7 C984.2 460.1 984.4 459.5 984.6 458.8 C984.7 458.2 984.9 457.5 985.0 456.9 C985.2 456.2 985.4 455.6 985.5 455.0 C985.7 454.3 985.8 453.7 986.0 453.0 C986.2 452.4 986.3 451.7 986.5 451.1 C986.6 450.5 986.8 449.8 987.0 449.2 C987.1 448.5 987.3 447.9 987.4 447.2 C987.6 446.6 987.8 446.0 987.9 445.3 C988.1 444.7 988.3 444.0 988.4 443.4 C988.6 442.7 988.8 442.1 988.9 441.5 C989.1 440.8 989.3 440.2 989.4 439.5 C989.6 438.9 989.8 438.2 989.9 437.6 C990.1 437.0 990.3 436.3 990.5 435.7 C990.6 435.0 990.8 434.4 991.0 433.8 C991.2 433.1 991.3 432.5 991.5 431.8 C991.7 431.2 991.9 430.6 992.1 429.9 C992.2 429.3 992.4 428.6 992.6 428.0 C992.8 427.4 993.0 426.7 993.2 426.1 C993.4 425.4 993.6 424.8 993.7 424.2 C993.9 423.5 994.1 422.9 994.3 422.2 C994.5 421.6 994.7 421.0 994.9 420.3 C995.1 419.7 995.3 419.1 995.5 418.4 C995.7 417.8 995.9 417.1 996.2 416.5 C996.4 415.9 996.6 415.2 996.8 414.6 C997.0 414.0 997.2 413.3 997.4 412.7 C997.7 412.1 997.9 411.4 998.1 410.8 C998.3 410.1 998.5 409.5 998.8 408.9 C999.0 408.2 999.2 407.6 999.5 407.0 C999.7 406.3 999.9 405.7 1000.2 405.1 C1000.4 404.4 1000.6 403.8 1000.9 403.2 C1001.1 402.5 1001.4 401.9 1001.6 401.3 C1001.9 400.7 1002.1 400.0 1002.4 399.4 C1002.7 398.8 1002.9 398.1 1003.2 397.5 C1003.4 396.9 1003.7 396.2 1004.0 395.6 C1004.2 395.0 1004.5 394.4 1004.8 393.7 C1005.1 393.1 1005.3 392.5 1005.6 391.9 C1005.9 391.2 1006.2 390.6 1006.5 390.0 C1006.8 389.4 1007.1 388.8 1007.4 388.1 C1007.7 387.5 1008.0 386.9 1008.3 386.3 C1008.6 385.7 1008.9 385.1 1009.2 384.5 C1009.5 383.9 1009.9 383.3 1010.2 382.7 C1010.5 382.1 1010.9 381.5 1011.2 381.0 C1011.5 380.4 1011.9 379.8 1012.2 379.2 C1012.6 378.7 1012.9 378.1 1013.3 377.5 C1013.6 377.0 1014.0 376.4 1014.4 375.9 C1014.8 375.3 1015.1 374.8 1015.5 374.2 C1015.9 373.7 1016.3 373.2 1016.7 372.6 C1017.1 372.1 1017.5 371.6 1017.9 371.1 C1018.3 370.6 1018.7 370.1 1019.1 369.6 C1019.6 369.1 1020.0 368.6 1020.4 368.1 C1020.9 367.6 1021.3 367.2 1021.7 366.7 C1022.2 366.3 1022.7 365.8 1023.1 365.4 C1023.6 364.9 1024.0 364.5 1024.5 364.1 C1025.0 363.6 1025.5 363.2 1026.0 362.8 C1026.5 362.4 1027.0 362.0 1027.5 361.6 C1028.0 361.3 1028.5 360.9 1029.1 360.5 C1029.6 360.2 1030.1 359.8 1030.7 359.5 C1031.2 359.2 1031.8 358.8 1032.3 358.5 C1032.9 358.2 1033.4 357.9 1034.0 357.6 C1034.6 357.3 1035.2 357.0 1035.8 356.8 C1036.4 356.5 1037.0 356.3 1037.6 356.0 C1038.2 355.8 1038.8 355.6 1039.5 355.4 C1040.1 355.2 1040.8 355.0 1041.4 354.8 C1042.1 354.6 1042.7 354.4 1043.4 354.3 C1044.1 354.1 1044.7 354.0 1045.4 353.9 C1046.1 353.7 1046.8 353.6 1047.5 353.5 C1048.2 353.4 1048.8 353.3 1049.5 353.2 C1050.2 353.2 1050.9 353.1 1051.7 353.1 C1052.4 353.0 1053.1 353.0 1053.8 352.9 C1054.5 352.9 1055.2 352.9 1055.9 352.9 C1056.6 352.9 1057.3 352.9 1058.0 352.9 C1058.7 353.0 1059.4 353.0 1060.1 353.0 C1060.8 353.1 1061.5 353.1 1062.2 353.2 C1062.9 353.3 1063.6 353.3 1064.3 353.4 C1064.9 353.5 1065.6 353.6 1066.3 353.7 C1067.0 353.8 1067.6 354.0 1068.3 354.1 C1068.9 354.2 1069.6 354.4 1070.2 354.5 C1070.8 354.7 1071.5 354.8 1072.1 355.0 C1072.7 355.2 1073.3 355.3 1073.9 355.5 C1074.5 355.7 1075.1 355.9 1075.7 356.1 C1076.2 356.3 1077.0 356.7 1077.3 356.8" fill="none" stroke="#ff0000" stroke-width="2.20" stroke-linejoin="round" stroke-linecap="round"/>
<path d="M15.0 510.4 C15.3 510.5 16.2 511.0 16.8 511.4 C17.4 511.7 18.0 512.0 18.6 512.4 C19.2 512.7 19.7 513.1 20.3 513.5 C20.9 513.8 21.5 514.2 22.0 514.6 C22.6 514.9 23.1 515.3 23.7 515.7 C24.3 516.1 24.8 516.5 25.3 516.9 C25.9 517.3 26.4 517.7 27.0 518.1 C27.5 518.5 28.0 518.9 28.5 519.3 C29.1 519.7 29.6 520.1 30.1 520.5 C30.6 521.0 31.1 521.4 31.6 521.8 C32.1 522.3 32.6 522.7 33.1 523.1 C33.6 523.6 34.1 524.0 34.6 524.5 C35.1 524.9 35.5 525.4 36.0 525.8 C36.5 526.3 36.9 526.8 37.4 527.2 C37.9 527.7 38.3 528.2 38.8 528.7 C39.2 529.1 39.7 529.6 40.1 530.1 C40.6 530.6 41.0 531.1 41.5 531.6 C41.9 532.1 42.3 532.6 42.8 533.1 C43.2 533.6 43.6 534.1 44.1 534.6 C44.5 535.1 44.9 535.6 45.3 536.1 C45.7 536.6 46.1 537.1 46.5 537.7 C46.9 538.2 47.3 538.7 47.7 539.2 C48.1 539.8 48.5 540.3 48.9 540.8 C49.3 541.4 49.7 541.9 50.1 542.4 C50.5 543.0 50.8 543.5 51.2 544.1 C51.6 544.6 52.0 545.2 52.3 545.7 C52.7 546.3 53.1 546.8 53.4 547.4 C53.8 548.0 54.2 548.5 54.5 549.1 C54.9 549.6 55.2 550.2 55.6 550.8 C55.9 551.3 56.3 551.9 56.6 552.5 C56.9 553.1 57.3 553.6 57.6 554.2 C58.0 554.8 58.3 555.4 58.6 556.0 C59.0 556.5 59.3 557.1 59.6 557.7 C59.9 558.3 60.3 558.9 60.6 559.5 C60.9 560.1 61.2 560.7 61.5 561.3 C61.8 561.9 62.1 562.4 62.5 563.0 C62.8 563.6 63.1 564.2 63.4 564.8 C63.7 565.4 64.0 566.0 64.3 566.6 C64.6 567.2 64.9 567.9 65.2 568.5 C65.5 569.1 65.7 569.7 66.0 570.3 C66.3 570.9 66.6 571.5 66.9 572.1 C67.2 572.7 67.5 573.3 67.7 573.9 C68.0 574.6 68.3 575.2 68.6 575.8 C68.9 576.4 69.1 577.0 69.4 577.6 C69.7 578.2 69.9 578.9 70.2 579.5 C70.5 580.1 70.8 580.7 71.0 581.3 C71.3 582.0 71.5 582.6 71.8 583.2 C72.1 583.8 72.3 584.4 72.6 585.0 C72.8 585.7 73.1 586.3 73.4 586.9 C73.6 587.5 73.9 588.1 74.1 588.8 C74.4 589.4 74.6 590.0 74.9 590.6 C75.1 591.2 75.4 591.9 75.6 592.5 C75.9 593.1 76.1 593.7 76.4 594.3 C76.6 595.0 76.9 595.6 77.1 596.2 C77.3 596.8 77.6 597.4 77.8 598.1 C78.1 598.7 78.3 599.3 78.6 599.9 C78.8 600.5 79.0 601.1 79.3 601.7 C79.5 602.4 79.8 603.0 80.0 603.6 C80.2 604.2 80.5 604.8 80.7 605.4 C80.9 606.0 81.2 606.6 81.4 607.3 C81.7 607.9 81.9 608.5 82.1 609.1 C82.4 609.7 82.6 610.3 82.9 610.9 C83.1 611.5 83.3 612.1 83.6 612.7 C83.8 613.3 84.1 613.9 84.3 614.6 C84.6 615.2 84.8 615.8 85.1 616.4 C85.3 617.0 85.6 617.6 85.9 618.2 C86.1 618.8 86.4 619.4 86.6 620.0 C86.9 620.6 87.2 621.2 87.5 621.8 C87.7 622.4 88.0 623.0 88.3 623.6 C88.6 624.2 88.8 624.8 89.1 625.4 C89.4 626.0 89.7 626.6 90.0 627.2 C90.3 627.8 90.6 628.4 90.9 629.1 C91.2 629.7 91.6 630.3 91.9 630.9 C92.2 631.5 92.5 632.1 92.9 632.7 C93.2 633.3 93.5 633.9 93.9 634.5 C94.2 635.1 94.6 635.7 94.9 636.3 C95.3 636.9 95.6 637.5 96.0 638.1 C96.4 638.7 96.8 639.3 97.2 639.9 C97.5 640.5 97.9 641.1 98.3 641.7 C98.8 642.2 99.2 642.8 99.6 643.3 C100.0 643.9 100.5 644.4 101.0 644.9 C101.4 645.3 101.9 645.8 102.4 646.2 C102.9 646.6 103.4 647.0 104.0 647.3 C104.5 647.6 105.1 647.9 105.6 648.1 C106.2 648.3 106.8 648.5 107.4 648.6 C108.0 648.7 108.7 648.8 109.3 648.9 C109.9 648.9 110.5 648.9 111.2 648.9 C111.8 648.8 112.5 648.8 113.1 648.6 C113.7 648.5 114.4 648.4 115.0 648.2 C115.6 648.0 116.3 647.8 116.9 647.5 C117.5 647.3 118.1 647.0 118.7 646.7 C119.3 646.4 119.8 646.0 120.4 645.7 C120.9 645.3 121.5 644.9 122.0 644.5 C122.5 644.1 123.0 643.7 123.5 643.3 C124.0 642.8 124.5 642.3 125.0 641.9 C125.4 641.4 125.9 640.9 126.3 640.4 C126.8 639.9 127.2 639.3 127.6 638.8 C128.1 638.3 128.5 637.7 128.9 637.2 C129.3 636.6 129.7 636.1 130.1 635.5 C130.5 634.9 130.9 634.4 131.3 633.8 C131.7 633.2 132.1 632.7 132.4 632.1 C132.8 631.5 133.2 630.9 133.6 630.4 C134.0 629.8 134.3 629.2 134.7 628.6 C135.1 628.1 135.4 627.5 135.8 626.9 C136.2 626.3 136.5 625.7 136.9 625.2 C137.3 624.6 137.6 624.0 138.0 623.4 C138.3 622.9 138.7 622.3 139.0 621.7 C139.4 621.1 139.7 620.6 140.1 620.0 C140.4 619.4 140.8 618.8 141.1 618.2 C141.5 617.7 141.8 617.1 142.2 616.5 C142.5 615.9 142.9 615.4 143.2 614.8 C143.6 614.2 143.9 613.6 144.3 613.1 C144.6 612.5 145.0 611.9 145.3 611.4 C145.7 610.8 146.0 610.2 146.4 609.7 C146.7 609.1 147.1 608.5 147.4 608.0 C147.8 607.4 148.2 606.8 148.5 606.3 C148.9 605.7 149.2 605.2 149.6 604.6 C149.9 604.1 150.3 603.5 150.7 603.0 C151.0 602.4 151.4 601.9 151.8 601.3 C152.1 600.8 152.5 600.2 152.9 599.7 C153.2 599.1 153.6 598.6 154.0 598.1 C154.4 597.5 154.8 597.0 155.2 596.5 C155.5 595.9 155.9 595.4 156.3 594.9 C156.7 594.4 157.1 593.8 157.5 593.3 C157.9 592.8 158.3 592.3 158.7 591.8 C159.1 591.3 159.6 590.8 160.0 590.3 C160.4 589.8 160.8 589.3 161.3 588.8 C161.7 588.3 162.1 587.8 162.6 587.3 C163.0 586.8 163.4 586.3 163.9 585.8 C164.4 585.4 164.8 584.9 165.3 584.4 C165.7 584.0 166.2 583.5 166.7 583.0 C167.2 582.6 167.6 582.1 168.1 581.7 C168.6 581.2 169.1 580.8 169.6 580.3 C170.1 579.9 170.6 579.4 171.1 579.0 C171.7 578.6 172.2 578.2 172.7 577.7 C173.3 577.3 173.8 576.9 174.3 576.5 C174.9 576.1 175.4 575.7 176.0 575.3 C176.6 574.9 177.1 574.5 177.7 574.1 C178.3 573.8 178.9 573.4 179.5 573.0 C180.0 572.7 180.6 572.3 181.2 572.0 C181.8 571.7 182.4 571.3 183.0 571.0 C183.6 570.7 184.3 570.4 184.9 570.1 C185.5 569.8 186.1 569.5 186.7 569.3 C187.4 569.0 188.0 568.8 188.6 568.5 C189.2 568.3 189.9 568.1 190.5 567.9 C191.2 567.6 191.8 567.5 192.4 567.3 C193.1 567.1 193.7 567.0 194.4 566.8 C195.0 566.7 195.7 566.6 196.3 566.5 C197.0 566.3 197.6 566.3 198.3 566.2 C198.9 566.1 199.6 566.1 200.2 566.1 C200.9 566.0 201.5 566.0 202.2 566.1 C202.8 566.1 203.5 566.1 204.1 566.2 C204.8 566.2 205.4 566.3 206.1 566.4 C206.7 566.5 207.4 566.6 208.0 566.7 C208.7 566.9 209.3 567.0 210.0 567.2 C210.6 567.3 211.3 567.5 211.9 567.7 C212.6 567.8 213.2 568.0 213.9 568.2 C214.5 568.4 215.1 568.6 215.8 568.8 C216.4 569.0 217.1 569.3 217.7 569.5 C218.3 569.7 219.0 569.9 219.6 570.1 C220.3 570.4 220.9 570.6 221.5 570.8 C222.2 571.1 222.8 571.3 223.4 571.6 C224.0 571.8 224.7 572.1 225.3 572.3 C225.9 572.6 226.5 572.8 227.2 573.1 C227.8 573.3 228.4 573.6 229.0 573.9 C229.6 574.2 230.3 574.4 230.9 574.7 C231.5 575.0 232.1 575.3 232.7 575.6 C233.3 575.9 233.9 576.2 234.5 576.5 C235.1 576.7 235.7 577.1 236.3 577.4 C236.9 577.7 237.5 578.0 238.1 578.3 C238.7 578.6 239.3 578.9 239.9 579.3 C240.5 579.6 241.0 579.9 241.6 580.2 C242.2 580.6 242.8 580.9 243.4 581.3 C243.9 581.6 244.5 581.9 245.1 582.3 C245.6 582.6 246.2 583.0 246.8 583.4 C247.3 583.7 247.9 584.1 248.4 584.5 C249.0 584.8 249.5 585.2 250.1 585.6 C250.6 586.0 251.2 586.3 251.7 586.7 C252.3 587.1 252.8 587.5 253.3 587.9 C253.9 588.3 254.4 588.7 254.9 589.1 C255.5 589.5 256.0 589.9 256.5 590.3 C257.0 590.7 257.5 591.2 258.0 591.6 C258.6 592.0 259.1 592.4 259.6 592.9 C260.1 593.3 260.6 593.7 261.1 594.2 C261.6 594.6 262.0 595.1 262.5 595.5 C263.0 596.0 263.5 596.4 264.0 596.9 C264.5 597.3 264.9 597.8 265.4 598.3 C265.9 598.7 266.3 599.2 266.8 599.7 C267.2 600.1 267.7 600.6 268.1 601.1 C268.6 601.6 269.0 602.1 269.5 602.6 C269.9 603.1 270.3 603.6 270.8 604.1 C271.2 604.6 271.6 605.1 272.0 605.6 C272.5 606.1 272.9 606.6 273.3 607.2 C273.7 607.7 274.1 608.2 274.5 608.7 C274.9 609.3 275.3 609.8 275.7 610.3 C276.1 610.9 276.5 611.4 276.8 612.0 C277.2 612.5 277.6 613.1 278.0 613.6 C278.3 614.2 278.7 614.7 279.1 615.3 C279.4 615.8 279.8 616.4 280.1 617.0 C280.5 617.5 280.8 618.1 281.2 618.7 C281.5 619.3 281.8 619.8 282.2 620.4 C282.5 621.0 282.8 621.6 283.1 622.2 C283.5 622.8 283.8 623.4 284.1 623.9 C284.4 624.5 284.7 625.1 285.0 625.7 C285.3 626.3 285.6 626.9 285.9 627.6 C286.2 628.2 286.5 628.8 286.8 629.4 C287.0 630.0 287.3 630.6 287.6 631.2 C287.9 631.9 288.1 632.5 288.4 633.1 C288.6 633.7 288.9 634.4 289.2 635.0 C289.4 635.6 289.7 636.3 289.9 636.9 C290.2 637.5 290.4 638.2 290.7 638.8 C290.9 639.4 291.2 640.1 291.4 640.7 C291.6 641.3 291.9 642.0 292.1 642.6 C292.4 643.2 292.6 643.9 292.9 644.5 C293.1 645.1 293.4 645.7 293.7 646.4 C293.9 647.0 294.2 647.6 294.4 648.2 C294.7 648.9 295.0 649.5 295.3 650.1 C295.5 650.7 295.8 651.3 296.1 651.9 C296.4 652.5 296.7 653.1 297.0 653.7 C297.3 654.3 297.6 654.9 297.9 655.5 C298.3 656.1 298.6 656.7 298.9 657.3 C299.3 657.8 299.6 658.4 300.0 659.0 C300.3 659.5 300.7 660.1 301.1 660.6 C301.5 661.2 301.9 661.7 302.3 662.3 C302.7 662.8 303.1 663.3 303.5 663.8 C304.0 664.4 304.4 664.9 304.9 665.3 C305.4 665.8 305.8 666.3 306.3 666.7 C306.8 667.1 307.3 667.5 307.8 667.8 C308.3 668.1 308.9 668.3 309.4 668.5 C309.9 668.7 310.5 668.8 311.0 668.9 C311.6 668.9 312.2 668.9 312.7 668.8 C313.3 668.7 313.9 668.5 314.4 668.3 C315.0 668.1 315.5 667.8 316.1 667.4 C316.6 667.1 317.2 666.7 317.7 666.3 C318.2 665.9 318.7 665.5 319.2 665.0 C319.6 664.5 320.1 664.0 320.5 663.5 C320.9 663.0 321.3 662.4 321.7 661.8 C322.1 661.2 322.4 660.6 322.8 660.0 C323.1 659.4 323.4 658.8 323.7 658.2 C324.1 657.5 324.3 656.9 324.6 656.2 C324.9 655.5 325.2 654.9 325.4 654.2 C325.7 653.5 326.0 652.8 326.2 652.2 C326.5 651.5 326.7 650.8 326.9 650.1 C327.2 649.4 327.4 648.8 327.6 648.1 C327.9 647.4 328.1 646.8 328.3 646.1 C328.5 645.4 328.8 644.8 329.0 644.1 C329.2 643.5 329.4 642.8 329.6 642.2 C329.9 641.5 330.1 640.9 330.3 640.3 C330.5 639.6 330.7 639.0 330.9 638.3 C331.1 637.7 331.3 637.1 331.5 636.4 C331.7 635.8 331.9 635.2 332.1 634.5 C332.3 633.9 332.5 633.3 332.7 632.7 C332.9 632.0 333.1 631.4 333.3 630.8 C333.5 630.2 333.7 629.5 333.9 628.9 C334.1 628.3 334.2 627.6 334.4 627.0 C334.6 626.4 334.8 625.8 335.0 625.1 C335.2 624.5 335.4 623.9 335.6 623.3 C335.8 622.6 335.9 622.0 336.1 621.4 C336.3 620.7 336.5 620.1 336.7 619.5 C336.9 618.8 337.1 618.2 337.2 617.6 C337.4 617.0 337.6 616.3 337.8 615.7 C338.0 615.1 338.2 614.4 338.3 613.8 C338.5 613.2 338.7 612.5 338.9 611.9 C339.1 611.3 339.3 610.6 339.4 610.0 C339.6 609.4 339.8 608.7 340.0 608.1 C340.2 607.5 340.3 606.8 340.5 606.2 C340.7 605.6 340.9 604.9 341.1 604.3 C341.3 603.7 341.4 603.0 341.6 602.4 C341.8 601.8 342.0 601.1 342.2 600.5 C342.4 599.8 342.6 599.2 342.7 598.6 C342.9 597.9 343.1 597.3 343.3 596.7 C343.5 596.0 343.7 595.4 343.9 594.8 C344.0 594.1 344.2 593.5 344.4 592.8 C344.6 592.2 344.8 591.6 345.0 590.9 C345.2 590.3 345.4 589.7 345.6 589.0 C345.7 588.4 345.9 587.8 346.1 587.1 C346.3 586.5 346.5 585.8 346.7 585.2 C346.9 584.6 347.1 583.9 347.3 583.3 C347.5 582.7 347.7 582.0 347.9 581.4 C348.1 580.8 348.3 580.1 348.5 579.5 C348.7 578.9 348.9 578.2 349.1 577.6 C349.3 576.9 349.5 576.3 349.7 575.7 C349.9 575.0 350.1 574.4 350.3 573.8 C350.6 573.1 350.8 572.5 351.0 571.9 C351.2 571.2 351.4 570.6 351.6 570.0 C351.8 569.3 352.1 568.7 352.3 568.1 C352.5 567.4 352.7 566.8 352.9 566.2 C353.2 565.5 353.4 564.9 353.6 564.3 C353.8 563.6 354.1 563.0 354.3 562.4 C354.5 561.7 354.8 561.1 355.0 560.5 C355.2 559.9 355.5 559.2 355.7 558.6 C355.9 558.0 356.2 557.3 356.4 556.7 C356.7 556.1 356.9 555.4 357.1 554.8 C357.4 554.2 357.6 553.6 357.9 552.9 C358.1 552.3 358.4 551.7 358.7 551.1 C358.9 550.4 359.2 549.8 359.4 549.2 C359.7 548.6 360.0 548.0 360.2 547.3 C360.5 546.7 360.8 546.1 361.0 545.5 C361.3 544.9 361.6 544.3 361.9 543.6 C362.2 543.0 362.4 542.4 362.7 541.8 C363.0 541.2 363.3 540.6 363.6 540.0 C363.9 539.4 364.2 538.8 364.5 538.2 C364.8 537.6 365.1 537.0 365.4 536.4 C365.7 535.8 366.0 535.2 366.3 534.6 C366.7 534.0 367.0 533.4 367.3 532.8 C367.6 532.3 367.9 531.7 368.3 531.1 C368.6 530.5 368.9 529.9 369.3 529.4 C369.6 528.8 370.0 528.2 370.3 527.7 C370.7 527.1 371.0 526.5 371.4 526.0 C371.7 525.4 372.1 524.9 372.5 524.3 C372.8 523.8 373.2 523.2 373.6 522.7 C374.0 522.1 374.3 521.6 374.7 521.0 C375.1 520.5 375.5 520.0 375.9 519.4 C376.3 518.9 376.7 518.4 377.1 517.9 C377.5 517.4 377.9 516.8 378.4 516.3 C378.8 515.8 379.2 515.3 379.6 514.8 C380.1 514.3 380.5 513.8 380.9 513.3 C381.4 512.8 381.8 512.4 382.3 511.9 C382.7 511.4 383.2 510.9 383.6 510.5 C384.1 510.0 384.6 509.5 385.1 509.1 C385.5 508.6 386.0 508.2 386.5 507.7 C387.0 507.3 387.5 506.8 388.0 506.4 C388.5 505.9 389.0 505.5 389.5 505.1 C390.0 504.7 390.5 504.2 391.0 503.8 C391.6 503.4 392.1 503.0 392.6 502.6 C393.2 502.2 393.7 501.8 394.2 501.4 C394.8 501.0 395.3 500.6 395.9 500.3 C396.4 499.9 397.0 499.5 397.5 499.1 C398.1 498.8 398.6 498.4 399.2 498.0 C399.8 497.7 400.4 497.3 400.9 497.0 C401.5 496.6 402.1 496.3 402.7 496.0 C403.3 495.6 403.8 495.3 404.4 495.0 C405.0 494.7 405.6 494.4 406.2 494.1 C406.8 493.7 407.4 493.4 408.0 493.1 C408.6 492.8 409.2 492.6 409.8 492.3 C410.4 492.0 411.1 491.7 411.7 491.4 C412.3 491.2 412.9 490.9 413.5 490.6 C414.2 490.4 414.8 490.1 415.4 489.9 C416.0 489.6 416.7 489.4 417.3 489.2 C417.9 488.9 418.6 488.7 419.2 488.5 C419.8 488.3 420.5 488.1 421.1 487.8 C421.7 487.6 422.4 487.4 423.0 487.2 C423.7 487.0 424.3 486.9 425.0 486.7 C425.6 486.5 426.3 486.3 426.9 486.2 C427.6 486.0 428.2 485.8 428.9 485.7 C429.5 485.5 430.2 485.4 430.8 485.2 C431.5 485.1 432.1 485.0 432.8 484.8 C433.4 484.7 434.1 484.6 434.7 484.5 C435.4 484.3 436.1 484.2 436.7 484.1 C437.4 484.0 438.0 483.9 438.7 483.9 C439.4 483.8 440.0 483.7 440.7 483.6 C441.3 483.5 442.0 483.5 442.7 483.4 C443.3 483.3 444.0 483.3 444.6 483.2 C445.3 483.2 446.0 483.1 446.6 483.1 C447.3 483.1 448.0 483.0 448.6 483.0 C449.3 483.0 449.9 483.0 450.6 483.0 C451.3 482.9 451.9 482.9 452.6 482.9 C453.3 482.9 453.9 482.9 454.6 482.9 C455.2 483.0 455.9 483.0 456.6 483.0 C457.2 483.0 457.9 483.0 458.6 483.1 C459.2 483.1 459.9 483.1 460.5 483.2 C461.2 483.2 461.9 483.3 462.5 483.3 C463.2 483.4 463.9 483.4 464.5 483.5 C465.2 483.6 465.8 483.6 466.5 483.7 C467.2 483.8 467.8 483.9 468.5 484.0 C469.1 484.0 469.8 484.1 470.5 484.2 C471.1 484.3 471.8 484.4 472.4 484.5 C473.1 484.6 473.8 484.7 474.4 484.8 C475.1 485.0 475.7 485.1 476.4 485.2 C477.0 485.3 477.7 485.4 478.3 485.6 C479.0 485.7 479.6 485.8 480.3 486.0 C480.9 486.1 481.6 486.3 482.2 486.4 C482.9 486.6 483.5 486.7 484.2 486.9 C484.8 487.0 485.5 487.2 486.1 487.4 C486.8 487.5 487.4 487.7 488.1 487.9 C488.7 488.0 489.4 488.2 490.0 488.4 C490.6 488.6 491.3 488.8 491.9 489.0 C492.6 489.2 493.2 489.3 493.8 489.5 C494.5 489.7 495.1 489.9 495.7 490.1 C496.4 490.3 497.0 490.6 497.6 490.8 C498.3 491.0 498.9 491.2 499.5 491.4 C500.2 491.6 500.8 491.8 501.4 492.1 C502.0 492.3 502.7 492.5 503.3 492.7 C503.9 493.0 504.5 493.2 505.2 493.4 C505.8 493.7 506.4 493.9 507.0 494.2 C507.6 494.4 508.3 494.6 508.9 494.9 C509.5 495.1 510.1 495.4 510.7 495.6 C511.3 495.9 512.0 496.1 512.6 496.4 C513.2 496.7 513.8 496.9 514.4 497.2 C515.0 497.4 515.6 497.7 516.3 498.0 C516.9 498.2 517.5 498.5 518.1 498.8 C518.7 499.0 519.3 499.3 519.9 499.6 C520.5 499.9 521.1 500.1 521.7 500.4 C522.3 500.7 523.0 501.0 523.6 501.3 C524.2 501.5 524.8 501.8 525.4 502.1 C526.0 502.4 526.6 502.7 527.2 503.0 C527.8 503.2 528.4 503.5 529.0 503.8 C529.6 504.1 530.2 504.4 530.8 504.7 C531.4 505.0 532.0 505.3 532.6 505.6 C533.2 505.9 533.8 506.2 534.4 506.5 C535.0 506.8 535.6 507.1 536.2 507.4 C536.8 507.7 537.4 508.0 538.0 508.3 C538.6 508.6 539.2 508.9 539.8 509.2 C540.4 509.5 541.0 509.8 541.6 510.1 C542.2 510.4 542.8 510.7 543.4 511.0 C544.0 511.3 544.6 511.6 545.2 511.9 C545.8 512.2 546.3 512.5 546.9 512.8 C547.5 513.1 548.1 513.4 548.7 513.7 C549.3 514.0 549.9 514.3 550.5 514.6 C551.1 514.9 551.7 515.2 552.3 515.5 C552.9 515.8 553.5 516.1 554.1 516.4 C554.7 516.7 555.3 517.0 555.9 517.3 C556.5 517.6 557.1 517.9 557.7 518.2 C558.3 518.5 558.9 518.8 559.5 519.1 C560.1 519.4 560.7 519.7 561.3 520.0 C561.8 520.3 562.4 520.6 563.0 520.9 C563.6 521.2 564.2 521.5 564.8 521.8 C565.4 522.1 566.0 522.4 566.6 522.7 C567.2 523.0 567.8 523.3 568.4 523.6 C569.0 523.9 569.6 524.2 570.2 524.5 C570.8 524.8 571.4 525.1 572.0 525.4 C572.6 525.7 573.2 526.0 573.8 526.3 C574.3 526.6 574.9 526.9 575.5 527.2 C576.1 527.5 576.7 527.8 577.3 528.1 C577.9 528.4 578.5 528.7 579.1 529.0 C579.6 529.3 580.2 529.6 580.8 530.0 C581.4 530.3 582.0 530.6 582.6 530.9 C583.1 531.2 583.7 531.5 584.3 531.9 C584.9 532.2 585.4 532.5 586.0 532.8 C586.6 533.2 587.2 533.5 587.7 533.8 C588.3 534.2 588.9 534.5 589.5 534.8 C590.0 535.2 590.6 535.5 591.1 535.9 C591.7 536.2 592.3 536.6 592.8 536.9 C593.4 537.3 593.9 537.6 594.5 538.0 C595.1 538.4 595.6 538.7 596.2 539.1 C596.7 539.5 597.3 539.9 597.8 540.2 C598.4 540.6 598.9 541.0 599.4 541.4 C600.0 541.8 600.5 542.2 601.1 542.6 C601.6 543.0 602.1 543.4 602.7 543.8 C603.2 544.2 603.7 544.6 604.2 545.0 C604.8 545.4 605.3 545.8 605.8 546.3 C606.3 546.7 606.9 547.1 607.4 547.5 C607.9 547.9 608.4 548.4 608.9 548.8 C609.5 549.2 610.0 549.7 610.5 550.1 C611.0 550.5 611.5 551.0 612.0 551.4 C612.6 551.8 613.1 552.3 613.6 552.7 C614.1 553.1 614.6 553.6 615.1 554.0 C615.6 554.5 616.1 554.9 616.7 555.3 C617.2 555.8 617.7 556.2 618.2 556.6 C618.7 557.1 619.2 557.5 619.7 557.9 C620.3 558.4 620.8 558.8 621.3 559.2 C621.8 559.7 622.3 560.1 622.8 560.5 C623.4 561.0 623.9 561.4 624.4 561.8 C624.9 562.2 625.5 562.7 626.0 563.1 C626.5 563.5 627.0 563.9 627.6 564.3 C628.1 564.7 628.6 565.1 629.1 565.5 C629.7 565.9 630.2 566.3 630.8 566.7 C631.3 567.1 631.8 567.5 632.4 567.9 C632.9 568.3 633.5 568.7 634.0 569.1 C634.6 569.4 635.1 569.8 635.7 570.2 C636.2 570.5 636.8 570.9 637.3 571.2 C637.9 571.6 638.5 571.9 639.0 572.3 C639.6 572.6 640.2 573.0 640.7 573.3 C641.3 573.6 641.9 573.9 642.5 574.2 C643.1 574.6 643.6 574.9 644.2 575.2 C644.8 575.5 645.4 575.8 646.0 576.1 C646.6 576.3 647.2 576.6 647.8 576.9 C648.4 577.2 649.0 577.4 649.6 577.7 C650.2 578.0 650.8 578.2 651.4 578.5 C652.1 578.7 652.7 579.0 653.3 579.2 C653.9 579.4 654.5 579.7 655.2 579.9 C655.8 580.1 656.4 580.3 657.0 580.5 C657.7 580.8 658.3 581.0 658.9 581.2 C659.6 581.4 660.2 581.6 660.8 581.7 C661.5 581.9 662.1 582.1 662.8 582.3 C663.4 582.5 664.0 582.6 664.7 582.8 C665.3 583.0 666.0 583.1 666.6 583.3 C667.3 583.4 667.9 583.5 668.6 583.7 C669.2 583.8 669.9 584.0 670.6 584.1 C671.2 584.2 671.9 584.3 672.5 584.4 C673.2 584.6 673.9 584.7 674.5 584.8 C675.2 584.9 675.8 585.0 676.5 585.1 C677.2 585.1 677.8 585.2 678.5 585.3 C679.2 585.4 679.8 585.5 680.5 585.5 C681.2 585.6 681.8 585.7 682.5 585.7 C683.2 585.8 683.9 585.8 684.5 585.9 C685.2 585.9 685.9 586.0 686.5 586.0 C687.2 586.0 687.9 586.1 688.6 586.1 C689.2 586.1 689.9 586.2 690.6 586.2 C691.3 586.2 691.9 586.3 692.6 586.3 C693.3 586.3 694.0 586.4 694.6 586.4 C695.3 586.4 696.0 586.4 696.6 586.5 C697.3 586.5 698.0 586.5 698.7 586.5 C699.3 586.6 700.0 586.6 700.7 586.6 C701.4 586.6 702.0 586.7 702.7 586.7 C703.4 586.7 704.0 586.8 704.7 586.8 C705.4 586.8 706.0 586.9 706.7 586.9 C707.4 586.9 708.0 587.0 708.7 587.0 C709.4 587.1 710.0 587.1 710.7 587.2 C711.3 587.2 712.0 587.3 712.7 587.4 C713.3 587.4 714.0 587.5 714.6 587.6 C715.3 587.7 715.9 587.7 716.6 587.8 C717.2 587.9 717.9 588.0 718.5 588.1 C719.2 588.2 719.8 588.3 720.5 588.5 C721.1 588.6 721.8 588.7 722.4 588.8 C723.0 589.0 723.7 589.1 724.3 589.3 C724.9 589.4 725.6 589.6 726.2 589.8 C726.8 589.9 727.5 590.1 728.1 590.3 C728.7 590.5 729.3 590.7 730.0 590.9 C730.6 591.1 731.2 591.3 731.8 591.6 C732.4 591.8 733.0 592.0 733.6 592.3 C734.3 592.5 734.9 592.8 735.5 593.0 C736.1 593.3 736.7 593.5 737.3 593.8 C737.9 594.1 738.5 594.4 739.1 594.7 C739.7 595.0 740.3 595.2 740.9 595.6 C741.5 595.9 742.0 596.2 742.6 596.5 C743.2 596.8 743.8 597.1 744.4 597.4 C745.0 597.8 745.6 598.1 746.1 598.4 C746.7 598.8 747.3 599.1 747.9 599.5 C748.4 599.8 749.0 600.2 749.6 600.5 C750.2 600.9 750.7 601.2 751.3 601.6 C751.9 602.0 752.5 602.3 753.0 602.7 C753.6 603.1 754.2 603.5 754.7 603.8 C755.3 604.2 755.8 604.6 756.4 605.0 C757.0 605.4 757.5 605.8 758.1 606.1 C758.6 606.5 759.2 606.9 759.7 607.3 C760.3 607.7 760.9 608.1 761.4 608.5 C762.0 608.9 762.5 609.3 763.1 609.7 C763.6 610.1 764.2 610.5 764.7 610.9 C765.3 611.3 765.8 611.7 766.3 612.1 C766.9 612.5 767.4 612.9 768.0 613.3 C768.5 613.7 769.1 614.1 769.6 614.5 C770.1 614.9 770.7 615.3 771.2 615.7 C771.8 616.1 772.3 616.5 772.8 616.9 C773.4 617.3 773.9 617.7 774.4 618.1 C775.0 618.5 775.5 618.9 776.0 619.3 C776.6 619.7 777.1 620.1 777.6 620.5 C778.2 620.9 778.7 621.3 779.2 621.7 C779.7 622.1 780.3 622.5 780.8 622.9 C781.3 623.3 781.8 623.7 782.4 624.1 C782.9 624.5 783.4 624.9 783.9 625.3 C784.5 625.7 785.0 626.1 785.5 626.5 C786.0 626.9 786.5 627.4 787.0 627.8 C787.5 628.2 788.1 628.6 788.6 629.0 C789.1 629.4 789.6 629.8 790.1 630.2 C790.6 630.7 791.1 631.1 791.6 631.5 C792.1 631.9 792.6 632.4 793.1 632.8 C793.6 633.2 794.1 633.6 794.6 634.1 C795.1 634.5 795.6 634.9 796.1 635.4 C796.6 635.8 797.1 636.3 797.6 636.7 C798.1 637.2 798.5 637.6 799.0 638.1 C799.5 638.5 800.0 639.0 800.5 639.4 C801.0 639.9 801.4 640.3 801.9 640.8 C802.4 641.3 802.9 641.8 803.3 642.2 C803.8 642.7 804.3 643.2 804.8 643.7 C805.2 644.1 805.7 644.6 806.2 645.1 C806.6 645.6 807.1 646.1 807.6 646.5 C808.0 647.0 808.5 647.5 809.0 648.0 C809.4 648.5 809.9 649.0 810.4 649.5 C810.9 649.9 811.3 650.4 811.8 650.9 C812.3 651.4 812.8 651.9 813.2 652.3 C813.7 652.8 814.2 653.3 814.7 653.7 C815.2 654.2 815.6 654.7 816.1 655.1 C816.6 655.6 817.1 656.1 817.6 656.5 C818.1 657.0 818.6 657.4 819.1 657.8 C819.6 658.3 820.1 658.7 820.6 659.2 C821.1 659.6 821.6 660.0 822.1 660.4 C822.7 660.9 823.2 661.3 823.7 661.7 C824.2 662.1 824.7 662.5 825.3 662.9 C825.8 663.3 826.3 663.7 826.9 664.1 C827.4 664.5 827.9 664.9 828.5 665.3 C829.0 665.7 829.5 666.0 830.1 666.4 C830.6 666.8 831.2 667.2 831.7 667.6 C832.3 667.9 832.8 668.3 833.4 668.7 C833.9 669.0 834.5 669.4 835.0 669.7 C835.6 670.1 836.2 670.5 836.7 670.8 C837.3 671.2 837.8 671.5 838.4 671.9 C839.0 672.2 839.5 672.5 840.1 672.9 C840.7 673.2 841.3 673.6 841.8 673.9 C842.4 674.2 843.0 674.6 843.6 674.9 C844.1 675.2 844.7 675.6 845.3 675.9 C845.9 676.2 846.4 676.5 847.0 676.9 C847.6 677.2 848.2 677.5 848.8 677.8 C849.4 678.1 850.0 678.5 850.5 678.8 C851.1 679.1 851.7 679.4 852.3 679.7 C852.9 680.0 853.5 680.3 854.1 680.7 C854.7 681.0 855.3 681.3 855.9 681.6 C856.4 681.9 857.0 682.2 857.6 682.5 C858.2 682.8 858.8 683.1 859.4 683.4 C860.0 683.7 860.6 684.0 861.2 684.3 C861.8 684.6 862.4 684.9 863.0 685.2 C863.6 685.5 864.2 685.8 864.8 686.1 C865.4 686.4 866.0 686.7 866.6 687.0 C867.2 687.3 867.8 687.6 868.4 687.9 C869.0 688.2 869.6 688.5 870.2 688.8 C870.8 689.2 871.4 689.5 872.0 689.8 C872.6 690.1 873.1 690.4 873.7 690.7 C874.3 691.0 874.9 691.3 875.5 691.6 C876.1 691.9 876.7 692.2 877.3 692.5 C877.9 692.8 878.5 693.1 879.1 693.4 C879.7 693.7 880.3 694.1 880.9 694.4 C881.5 694.7 882.0 695.0 882.6 695.3 C883.2 695.6 883.8 695.9 884.4 696.3 C885.0 696.6 885.6 696.9 886.1 697.2 C886.7 697.5 887.3 697.9 887.9 698.2 C888.5 698.5 889.1 698.9 889.6 699.2 C890.2 699.5 890.8 699.9 891.4 700.2 C891.9 700.5 892.5 700.9 893.1 701.2 C893.6 701.6 894.2 701.9 894.8 702.2 C895.3 702.6 895.9 702.9 896.5 703.3 C897.0 703.6 897.6 704.0 898.2 704.4 C898.7 704.7 899.3 705.1 899.8 705.5 C900.4 705.8 900.9 706.2 901.5 706.6 C902.0 706.9 902.6 707.3 903.1 707.7 C903.7 708.0 904.2 708.4 904.8 708.8 C905.3 709.2 905.9 709.6 906.4 710.0 C907.0 710.3 907.5 710.7 908.0 711.1 C908.6 711.5 909.1 711.9 909.7 712.3 C910.2 712.7 910.7 713.1 911.3 713.5 C911.8 713.9 912.3 714.3 912.9 714.7 C913.4 715.1 913.9 715.5 914.5 715.9 C915.0 716.3 915.5 716.7 916.1 717.1 C916.6 717.5 917.1 717.9 917.7 718.3 C918.2 718.7 918.7 719.1 919.3 719.5 C919.8 719.9 920.3 720.3 920.8 720.7 C921.4 721.1 921.9 721.6 922.4 722.0 C923.0 722.4 923.5 722.8 924.0 723.2 C924.6 723.6 925.1 724.0 925.6 724.4 C926.1 724.8 926.7 725.3 927.2 725.7 C927.7 726.1 928.3 726.5 928.8 726.9 C929.3 727.3 929.9 727.7 930.4 728.1 C930.9 728.5 931.5 728.9 932.0 729.3 C932.6 729.7 933.1 730.0 933.7 730.4 C934.3 730.8 934.8 731.1 935.4 731.4 C936.0 731.7 936.6 732.0 937.2 732.3 C937.9 732.6 938.5 732.9 939.1 733.1 C939.8 733.3 940.5 733.5 941.1 733.7 C941.8 733.8 942.5 734.0 943.2 734.1 C943.9 734.2 944.6 734.2 945.3 734.3 C946.0 734.3 946.7 734.3 947.4 734.3 C948.0 734.2 948.7 734.2 949.4 734.0 C950.0 733.9 950.7 733.8 951.3 733.6 C951.9 733.4 952.5 733.1 953.0 732.8 C953.6 732.5 954.1 732.2 954.6 731.8 C955.1 731.5 955.6 731.0 956.0 730.6 C956.4 730.1 956.8 729.6 957.2 729.1 C957.6 728.6 958.0 728.0 958.3 727.4 C958.6 726.9 959.0 726.3 959.3 725.7 C959.6 725.1 959.9 724.4 960.2 723.8 C960.5 723.2 960.8 722.6 961.0 721.9 C961.3 721.3 961.6 720.7 961.9 720.1 C962.2 719.4 962.4 718.8 962.7 718.2 C963.0 717.5 963.3 716.9 963.5 716.3 C963.8 715.7 964.1 715.0 964.3 714.4 C964.6 713.8 964.8 713.2 965.1 712.5 C965.4 711.9 965.6 711.3 965.9 710.6 C966.1 710.0 966.4 709.4 966.6 708.8 C966.8 708.1 967.1 707.5 967.3 706.9 C967.6 706.3 967.8 705.6 968.0 705.0 C968.3 704.4 968.5 703.8 968.7 703.1 C969.0 702.5 969.2 701.9 969.4 701.2 C969.6 700.6 969.9 700.0 970.1 699.4 C970.3 698.7 970.5 698.1 970.7 697.5 C971.0 696.9 971.2 696.2 971.4 695.6 C971.6 695.0 971.8 694.3 972.0 693.7 C972.2 693.1 972.4 692.5 972.6 691.8 C972.8 691.2 973.0 690.6 973.2 689.9 C973.4 689.3 973.6 688.7 973.8 688.0 C974.0 687.4 974.2 686.8 974.4 686.2 C974.6 685.5 974.8 684.9 975.0 684.3 C975.2 683.6 975.4 683.0 975.5 682.4 C975.7 681.7 975.9 681.1 976.1 680.5 C976.3 679.8 976.4 679.2 976.6 678.6 C976.8 677.9 977.0 677.3 977.2 676.7 C977.3 676.0 977.5 675.4 977.7 674.8 C977.8 674.1 978.0 673.5 978.2 672.8 C978.4 672.2 978.5 671.6 978.7 670.9 C978.9 670.3 979.0 669.7 979.2 669.0 C979.3 668.4 979.5 667.7 979.7 667.1 C979.8 666.5 980.0 665.8 980.2 665.2 C980.3 664.5 980.5 663.9 980.6 663.3 C980.8 662.6 980.9 662.0 981.1 661.3 C981.3 660.7 981.4 660.1 981.6 659.4 C981.7 658.8 981.9 658.1 982.0 657.5 C982.2 656.8 982.3 656.2 982.5 655.5 C982.6 654.9 982.8 654.2 982.9 653.6 C983.1 652.9 983.2 652.3 983.4 651.7 C983.5 651.0 983.6 650.4 983.8 649.7 C983.9 649.1 984.1 648.4 984.2 647.7 C984.4 647.1 984.5 646.4 984.7 645.8 C984.8 645.1 984.9 644.5 985.1 643.8 C985.2 643.2 985.4 642.5 985.5 641.9 C985.7 641.2 985.8 640.5 985.9 639.9 C986.1 639.2 986.2 638.6 986.4 637.9 C986.5 637.2 986.7 636.6 986.8 635.9 C986.9 635.3 987.1 634.6 987.2 633.9 C987.4 633.3 987.5 632.6 987.6 632.0 C987.8 631.3 987.9 630.6 988.1 630.0 C988.2 629.3 988.4 628.7 988.5 628.0 C988.7 627.3 988.8 626.7 988.9 626.0 C989.1 625.3 989.2 624.7 989.4 624.0 C989.5 623.4 989.7 622.7 989.8 622.0 C990.0 621.4 990.1 620.7 990.3 620.1 C990.4 619.4 990.6 618.7 990.7 618.1 C990.9 617.4 991.1 616.8 991.2 616.1 C991.4 615.4 991.5 614.8 991.7 614.1 C991.9 613.5 992.0 612.8 992.2 612.1 C992.3 611.5 992.5 610.8 992.7 610.2 C992.8 609.5 993.0 608.9 993.2 608.2 C993.3 607.6 993.5 606.9 993.7 606.3 C993.9 605.6 994.0 604.9 994.2 604.3 C994.4 603.6 994.6 603.0 994.8 602.3 C994.9 601.7 995.1 601.1 995.3 600.4 C995.5 599.8 995.7 599.1 995.9 598.5 C996.1 597.8 996.3 597.2 996.5 596.5 C996.7 595.9 996.9 595.3 997.1 594.6 C997.3 594.0 997.5 593.3 997.7 592.7 C997.9 592.1 998.1 591.4 998.3 590.8 C998.5 590.2 998.7 589.5 999.0 588.9 C999.2 588.3 999.4 587.7 999.6 587.0 C999.9 586.4 1000.1 585.8 1000.3 585.2 C1000.6 584.5 1000.8 583.9 1001.0 583.3 C1001.3 582.7 1001.5 582.1 1001.8 581.5 C1002.0 580.8 1002.3 580.2 1002.5 579.6 C1002.8 579.0 1003.0 578.4 1003.3 577.8 C1003.6 577.2 1003.8 576.6 1004.1 576.0 C1004.4 575.4 1004.6 574.8 1004.9 574.2 C1005.2 573.6 1005.5 573.0 1005.8 572.4 C1006.1 571.8 1006.3 571.2 1006.6 570.6 C1006.9 570.1 1007.2 569.5 1007.5 568.9 C1007.8 568.3 1008.2 567.7 1008.5 567.2 C1008.8 566.6 1009.1 566.0 1009.4 565.4 C1009.7 564.9 1010.1 564.3 1010.4 563.7 C1010.7 563.2 1011.1 562.6 1011.4 562.1 C1011.8 561.5 1012.1 560.9 1012.5 560.4 C1012.8 559.8 1013.2 559.3 1013.5 558.7 C1013.9 558.2 1014.3 557.7 1014.6 557.1 C1015.0 556.6 1015.4 556.0 1015.8 555.5 C1016.2 555.0 1016.6 554.4 1017.0 553.9 C1017.3 553.4 1017.8 552.9 1018.2 552.4 C1018.6 551.8 1019.0 551.3 1019.4 550.8 C1019.8 550.3 1020.2 549.8 1020.7 549.3 C1021.1 548.8 1021.5 548.3 1022.0 547.8 C1022.4 547.3 1022.9 546.8 1023.3 546.3 C1023.8 545.8 1024.2 545.3 1024.7 544.9 C1025.2 544.4 1025.7 543.9 1026.1 543.4 C1026.6 543.0 1027.1 542.5 1027.6 542.1 C1028.1 541.6 1028.6 541.2 1029.1 540.8 C1029.6 540.3 1030.1 539.9 1030.7 539.5 C1031.2 539.1 1031.7 538.7 1032.3 538.4 C1032.8 538.0 1033.4 537.7 1033.9 537.3 C1034.5 537.0 1035.1 536.7 1035.6 536.4 C1036.2 536.1 1036.8 535.9 1037.4 535.6 C1038.0 535.4 1038.6 535.1 1039.2 535.0 C1039.8 534.8 1040.5 534.6 1041.1 534.4 C1041.8 534.3 1042.4 534.2 1043.1 534.1 C1043.7 534.0 1044.4 534.0 1045.1 533.9 C1045.7 533.9 1046.4 533.9 1047.1 534.0 C1047.8 534.0 1048.5 534.1 1049.3 534.2 C1050.0 534.3 1050.7 534.4 1051.4 534.5 C1052.1 534.7 1052.9 534.8 1053.6 535.0 C1054.3 535.1 1055.0 535.3 1055.7 535.5 C1056.5 535.7 1057.2 535.9 1057.9 536.1 C1058.6 536.3 1059.3 536.5 1060.0 536.7 C1060.7 536.8 1061.3 537.0 1062.0 537.2 C1062.7 537.4 1063.3 537.6 1064.0 537.8 C1064.6 538.0 1065.3 538.1 1065.9 538.3 C1066.5 538.5 1067.2 538.7 1067.8 538.8 C1068.4 539.0 1069.0 539.2 1069.7 539.4 C1070.3 539.5 1070.9 539.7 1071.5 539.8 C1072.1 540.0 1072.7 540.2 1073.3 540.3 C1073.9 540.5 1074.5 540.6 1075.1 540.8 C1075.8 540.9 1076.7 541.2 1077.0 541.2" fill="none" stroke="#000" stroke-width="2.20" stroke-linejoin="round" stroke-linecap="round"/>
<rect x="14.50" y="19.40" width="1062.60" height="786.30" fill="none" stroke="#000" stroke-width="2.60"/>
<path d="M156.20 805.70 V822.60 M333.32 805.70 V815.30 M510.45 805.70 V822.60 M687.58 805.70 V815.30 M864.70 805.70 V822.60 M1041.83 805.70 V815.30" stroke="#000" stroke-width="2.70" fill="none"/>
<path d="M1180.9 153.1 C1183.7 152.7 1191.4 151.6 1197.4 150.6 C1203.4 149.6 1210.3 148.5 1216.8 147.2 C1223.3 145.9 1229.8 144.4 1236.3 142.9 C1242.8 141.4 1249.2 139.5 1255.7 138.0 C1262.2 136.5 1268.6 134.8 1275.1 134.1 C1281.6 133.4 1288.0 134.0 1294.5 134.1 C1301.0 134.2 1307.4 134.7 1313.9 134.9 C1320.4 135.1 1326.8 135.1 1333.3 135.3 C1339.8 135.5 1346.3 135.5 1352.8 136.1 C1359.3 136.7 1366.5 138.2 1372.2 139.0 C1377.9 139.8 1381.5 140.3 1386.7 140.6 C1391.9 140.9 1397.8 140.5 1403.2 140.6 C1408.6 140.7 1413.9 141.4 1419.1 141.4 C1424.2 141.4 1429.4 141.2 1434.1 140.7 C1438.8 140.2 1443.0 139.6 1447.4 138.5 C1451.8 137.4 1455.4 135.8 1460.6 134.1 C1465.8 132.4 1473.9 130.0 1478.3 128.4 C1482.7 126.8 1483.4 125.8 1487.1 124.4 C1490.8 123.0 1496.6 121.2 1500.3 120.0 C1504.0 118.8 1506.4 118.1 1509.2 117.4 C1512.0 116.7 1514.9 115.5 1517.1 115.6 C1519.3 115.7 1520.8 116.7 1522.4 118.2 C1524.0 119.7 1525.3 122.8 1526.8 124.4 C1528.3 126.1 1529.7 127.7 1531.2 128.1 C1532.7 128.5 1533.8 127.4 1535.6 126.6 C1537.4 125.8 1539.6 123.8 1541.8 123.1 C1544.0 122.4 1546.2 122.1 1548.9 122.2 C1551.6 122.3 1555.2 122.5 1557.7 123.5 C1560.2 124.5 1562.0 126.1 1563.9 128.0 C1565.8 129.9 1567.8 132.7 1569.2 135.0 C1570.6 137.3 1571.5 139.4 1572.5 142.0 C1573.5 144.6 1574.5 147.5 1575.5 150.5 C1576.5 153.5 1577.3 156.4 1578.3 160.0 C1579.3 163.6 1580.4 168.0 1581.3 172.2 C1582.2 176.3 1583.1 180.8 1583.9 184.9 C1584.8 189.1 1585.6 193.0 1586.4 197.1 C1587.2 201.2 1588.2 205.3 1589.0 209.4 C1589.8 213.5 1590.4 217.3 1591.0 221.6 C1591.6 225.9 1592.2 230.2 1592.8 235.0 C1593.4 239.8 1593.9 245.2 1594.6 250.3 C1595.3 255.4 1596.3 260.5 1597.2 265.6 C1598.1 270.7 1598.9 275.8 1599.7 280.9 C1600.5 286.0 1601.5 291.1 1602.3 296.2 C1603.1 301.3 1603.8 306.9 1604.8 311.5 C1605.8 316.1 1606.8 320.9 1608.4 323.8 C1610.0 326.7 1612.5 328.5 1614.5 328.9 C1616.5 329.3 1618.3 328.3 1620.7 326.3 C1623.1 324.3 1626.0 321.1 1628.8 317.0 C1631.6 312.9 1636.1 304.7 1637.8 301.9 C1639.4 299.1 1638.5 300.8 1638.8 300.2 C1639.1 299.7 1639.5 299.1 1639.8 298.5 C1640.1 297.9 1640.4 297.4 1640.8 296.8 C1641.1 296.2 1641.4 295.6 1641.7 295.0 C1642.0 294.5 1642.3 293.9 1642.6 293.3 C1643.0 292.7 1643.3 292.1 1643.6 291.5 C1643.9 290.9 1644.2 290.3 1644.5 289.8 C1644.8 289.2 1645.1 288.6 1645.4 288.0 C1645.7 287.4 1645.9 286.8 1646.2 286.2 C1646.5 285.6 1646.8 285.0 1647.1 284.4 C1647.4 283.8 1647.7 283.2 1647.9 282.6 C1648.2 282.0 1648.5 281.4 1648.8 280.8 C1649.1 280.2 1649.3 279.6 1649.6 279.0 C1649.9 278.3 1650.2 277.7 1650.4 277.1 C1650.7 276.5 1651.0 275.9 1651.3 275.3 C1651.5 274.7 1651.8 274.1 1652.1 273.5 C1652.3 272.9 1652.6 272.2 1652.9 271.6 C1653.1 271.0 1653.4 270.4 1653.7 269.8 C1653.9 269.2 1654.2 268.6 1654.5 268.0 C1654.7 267.3 1655.0 266.7 1655.3 266.1 C1655.5 265.5 1655.8 264.9 1656.0 264.3 C1656.3 263.6 1656.6 263.0 1656.8 262.4 C1657.1 261.8 1657.4 261.2 1657.6 260.6 C1657.9 259.9 1658.2 259.3 1658.4 258.7 C1658.7 258.1 1659.0 257.5 1659.2 256.9 C1659.5 256.2 1659.8 255.6 1660.0 255.0 C1660.3 254.4 1660.6 253.8 1660.8 253.2 C1661.1 252.5 1661.4 251.9 1661.6 251.3 C1661.9 250.7 1662.2 250.1 1662.5 249.5 C1662.7 248.9 1663.0 248.3 1663.3 247.6 C1663.6 247.0 1663.8 246.4 1664.1 245.8 C1664.4 245.2 1664.7 244.6 1665.0 244.0 C1665.2 243.4 1665.5 242.8 1665.8 242.1 C1666.1 241.5 1666.4 240.9 1666.7 240.3 C1667.0 239.7 1667.3 239.1 1667.6 238.5 C1667.9 237.9 1668.2 237.3 1668.5 236.7 C1668.8 236.1 1669.1 235.5 1669.4 234.9 C1669.7 234.3 1670.0 233.7 1670.3 233.1 C1670.6 232.5 1670.9 231.9 1671.2 231.3 C1671.5 230.7 1671.9 230.1 1672.2 229.5 C1672.5 229.0 1672.8 228.4 1673.2 227.8 C1673.5 227.2 1673.8 226.6 1674.2 226.0 C1674.5 225.4 1674.8 224.9 1675.2 224.3 C1675.5 223.7 1675.9 223.1 1676.2 222.5 C1676.6 222.0 1676.9 221.4 1677.3 220.8 C1677.6 220.2 1678.0 219.7 1678.3 219.1 C1678.7 218.5 1679.1 218.0 1679.4 217.4 C1679.8 216.8 1680.2 216.3 1680.5 215.7 C1680.9 215.2 1681.3 214.6 1681.7 214.1 C1682.0 213.5 1682.4 213.0 1682.8 212.4 C1683.2 211.9 1683.6 211.3 1684.0 210.8 C1684.4 210.2 1684.8 209.7 1685.2 209.2 C1685.6 208.6 1686.0 208.1 1686.4 207.6 C1686.8 207.0 1687.2 206.5 1687.6 206.0 C1688.0 205.5 1688.5 204.9 1688.9 204.4 C1689.3 203.9 1689.7 203.4 1690.1 202.9 C1690.6 202.4 1691.0 201.9 1691.4 201.4 C1691.9 200.9 1692.3 200.4 1692.8 199.9 C1693.2 199.4 1693.6 198.9 1694.1 198.4 C1694.5 197.9 1695.0 197.4 1695.5 196.9 C1695.9 196.5 1696.4 196.0 1696.8 195.5 C1697.3 195.0 1697.8 194.6 1698.2 194.1 C1698.7 193.6 1699.2 193.2 1699.7 192.7 C1700.1 192.3 1700.6 191.8 1701.1 191.4 C1701.6 190.9 1702.1 190.5 1702.6 190.1 C1703.1 189.6 1703.6 189.2 1704.1 188.8 C1704.6 188.3 1705.1 187.9 1705.6 187.5 C1706.1 187.1 1706.6 186.6 1707.1 186.2 C1707.6 185.8 1708.2 185.4 1708.7 185.0 C1709.2 184.6 1709.7 184.2 1710.3 183.8 C1710.8 183.5 1711.3 183.1 1711.9 182.7 C1712.4 182.3 1713.0 181.9 1713.5 181.6 C1714.1 181.2 1714.6 180.8 1715.2 180.5 C1715.7 180.1 1716.3 179.8 1716.8 179.4 C1717.4 179.1 1718.0 178.7 1718.5 178.4 C1719.1 178.0 1719.7 177.7 1720.2 177.4 C1720.8 177.0 1721.4 176.7 1721.9 176.4 C1722.5 176.0 1723.1 175.7 1723.7 175.4 C1724.3 175.1 1724.9 174.8 1725.4 174.5 C1726.0 174.2 1726.6 173.8 1727.2 173.5 C1727.8 173.2 1728.4 172.9 1729.0 172.6 C1729.6 172.4 1730.2 172.1 1730.8 171.8 C1731.4 171.5 1732.0 171.2 1732.6 170.9 C1733.2 170.6 1733.8 170.4 1734.4 170.1 C1735.1 169.8 1735.7 169.5 1736.3 169.3 C1736.9 169.0 1737.5 168.7 1738.1 168.5 C1738.7 168.2 1739.4 168.0 1740.0 167.7 C1740.6 167.4 1741.2 167.2 1741.9 166.9 C1742.5 166.7 1743.1 166.4 1743.7 166.2 C1744.4 165.9 1745.0 165.7 1745.6 165.5 C1746.2 165.2 1746.9 165.0 1747.5 164.7 C1748.1 164.5 1748.8 164.3 1749.4 164.0 C1750.0 163.8 1750.7 163.6 1751.3 163.3 C1751.9 163.1 1752.6 162.9 1753.2 162.7 C1753.8 162.4 1754.5 162.2 1755.1 162.0 C1755.7 161.8 1756.4 161.6 1757.0 161.4 C1757.6 161.1 1758.3 160.9 1758.9 160.7 C1759.5 160.5 1760.2 160.3 1760.8 160.1 C1761.5 159.9 1762.1 159.7 1762.7 159.5 C1763.4 159.3 1764.0 159.0 1764.7 158.8 C1765.3 158.6 1765.9 158.4 1766.6 158.2 C1767.2 158.1 1767.9 157.9 1768.5 157.7 C1769.2 157.5 1769.8 157.3 1770.4 157.1 C1771.1 156.9 1771.7 156.7 1772.4 156.5 C1773.0 156.3 1773.7 156.1 1774.3 156.0 C1774.9 155.8 1775.6 155.6 1776.2 155.4 C1776.9 155.2 1777.5 155.1 1778.2 154.9 C1778.8 154.7 1779.5 154.5 1780.1 154.3 C1780.8 154.2 1781.4 154.0 1782.1 153.8 C1782.7 153.7 1783.4 153.5 1784.0 153.3 C1784.7 153.2 1785.3 153.0 1786.0 152.8 C1786.6 152.7 1787.3 152.5 1787.9 152.3 C1788.6 152.2 1789.2 152.0 1789.9 151.9 C1790.5 151.7 1791.2 151.5 1791.8 151.4 C1792.5 151.2 1793.1 151.1 1793.8 150.9 C1794.4 150.8 1795.1 150.6 1795.7 150.5 C1796.4 150.3 1797.0 150.2 1797.7 150.0 C1798.3 149.9 1799.0 149.7 1799.6 149.6 C1800.3 149.4 1801.0 149.3 1801.6 149.2 C1802.3 149.0 1802.9 148.9 1803.6 148.7 C1804.2 148.6 1804.9 148.5 1805.5 148.3 C1806.2 148.2 1806.8 148.1 1807.5 147.9 C1808.2 147.8 1808.8 147.7 1809.5 147.5 C1810.1 147.4 1810.8 147.3 1811.4 147.1 C1812.1 147.0 1812.8 146.9 1813.4 146.8 C1814.1 146.6 1814.7 146.5 1815.4 146.4 C1816.0 146.3 1816.7 146.1 1817.4 146.0 C1818.0 145.9 1818.7 145.8 1819.3 145.7 C1820.0 145.5 1820.6 145.4 1821.3 145.3 C1822.0 145.2 1822.6 145.1 1823.3 145.0 C1823.9 144.8 1824.6 144.7 1825.3 144.6 C1825.9 144.5 1826.6 144.4 1827.2 144.3 C1827.9 144.2 1828.5 144.1 1829.2 144.0 C1829.9 143.9 1830.5 143.7 1831.2 143.6 C1831.8 143.5 1832.5 143.4 1833.2 143.3 C1833.8 143.2 1834.5 143.1 1835.1 143.0 C1835.8 142.9 1836.5 142.8 1837.1 142.7 C1837.8 142.6 1838.4 142.5 1839.1 142.4 C1839.8 142.3 1840.4 142.2 1841.1 142.1 C1841.8 142.1 1842.4 142.0 1843.1 141.9 C1843.7 141.8 1844.4 141.7 1845.1 141.6 C1845.7 141.5 1846.4 141.4 1847.0 141.3 C1847.7 141.2 1848.4 141.1 1849.0 141.1 C1849.7 141.0 1850.3 140.9 1851.0 140.8 C1851.7 140.7 1852.3 140.6 1853.0 140.6 C1853.7 140.5 1854.3 140.4 1855.0 140.3 C1855.6 140.2 1856.3 140.1 1857.0 140.1 C1857.6 140.0 1858.3 139.9 1859.0 139.8 C1859.6 139.8 1860.3 139.7 1860.9 139.6 C1861.6 139.5 1862.3 139.5 1862.9 139.4 C1863.6 139.3 1864.3 139.2 1864.9 139.2 C1865.6 139.1 1866.3 139.0 1866.9 139.0 C1867.6 138.9 1868.2 138.8 1868.9 138.7 C1869.6 138.7 1870.2 138.6 1870.9 138.5 C1871.6 138.5 1872.2 138.4 1872.9 138.3 C1873.6 138.3 1874.2 138.2 1874.9 138.2 C1875.5 138.1 1876.2 138.0 1876.9 138.0 C1877.5 137.9 1878.2 137.9 1878.9 137.8 C1879.5 137.7 1880.2 137.7 1880.9 137.6 C1881.5 137.6 1882.2 137.5 1882.9 137.4 C1883.5 137.4 1884.2 137.3 1884.9 137.3 C1885.5 137.2 1886.2 137.2 1886.8 137.1 C1887.5 137.1 1888.2 137.0 1888.8 137.0 C1889.5 136.9 1890.2 136.9 1890.8 136.8 C1891.5 136.8 1892.2 136.7 1892.8 136.7 C1893.5 136.6 1894.2 136.6 1894.8 136.5 C1895.5 136.5 1896.2 136.4 1896.8 136.4 C1897.5 136.3 1898.2 136.3 1898.8 136.2 C1899.5 136.2 1900.2 136.2 1900.8 136.1 C1901.5 136.1 1902.2 136.0 1902.8 136.0 C1903.5 135.9 1904.2 135.9 1904.8 135.9 C1905.5 135.8 1906.2 135.8 1906.8 135.7 C1907.5 135.7 1908.2 135.7 1908.8 135.6 C1909.5 135.6 1910.2 135.6 1910.8 135.5 C1911.5 135.5 1912.2 135.5 1912.8 135.4 C1913.5 135.4 1914.2 135.4 1914.8 135.3 C1915.5 135.3 1916.2 135.3 1916.8 135.2 C1917.5 135.2 1918.2 135.2 1918.8 135.1 C1919.5 135.1 1920.2 135.1 1920.8 135.0 C1921.5 135.0 1922.2 135.0 1922.8 134.9 C1923.5 134.9 1924.2 134.9 1924.8 134.9 C1925.5 134.8 1926.2 134.8 1926.8 134.8 C1927.5 134.8 1928.2 134.7 1928.8 134.7 C1929.5 134.7 1930.2 134.7 1930.8 134.6 C1931.5 134.6 1932.2 134.6 1932.8 134.6 C1933.5 134.5 1934.2 134.5 1934.8 134.5 C1935.5 134.5 1936.2 134.5 1936.9 134.4 C1937.5 134.4 1938.2 134.4 1938.9 134.4 C1939.5 134.4 1940.2 134.3 1940.9 134.3 C1941.5 134.3 1942.2 134.3 1942.9 134.3 C1943.5 134.2 1944.2 134.2 1944.9 134.2 C1945.5 134.2 1946.2 134.2 1946.9 134.2 C1947.5 134.1 1948.2 134.1 1948.9 134.1 C1949.5 134.1 1950.2 134.1 1950.9 134.1 C1951.6 134.1 1952.2 134.0 1952.9 134.0 C1953.6 134.0 1954.2 134.0 1954.9 134.0 C1955.6 134.0 1956.2 134.0 1956.9 134.0 C1957.6 134.0 1958.2 133.9 1958.9 133.9 C1959.6 133.9 1960.2 133.9 1960.9 133.9 C1961.6 133.9 1962.3 133.9 1962.9 133.9 C1963.6 133.9 1964.3 133.9 1964.9 133.8 C1965.6 133.8 1966.3 133.8 1966.9 133.8 C1967.6 133.8 1968.3 133.8 1968.9 133.8 C1969.6 133.8 1970.3 133.8 1970.9 133.8 C1971.6 133.8 1972.3 133.8 1972.9 133.8 C1973.6 133.8 1974.3 133.8 1975.0 133.8 C1975.6 133.7 1976.3 133.7 1977.0 133.7 C1977.6 133.7 1978.3 133.7 1979.0 133.7 C1979.6 133.7 1980.3 133.7 1981.0 133.7 C1981.6 133.7 1982.3 133.7 1983.0 133.7 C1983.6 133.7 1984.3 133.7 1985.0 133.7 C1985.7 133.7 1986.3 133.7 1987.0 133.7 C1987.7 133.7 1988.3 133.7 1989.0 133.7 C1989.7 133.7 1990.3 133.7 1991.0 133.7 C1991.7 133.7 1992.3 133.7 1993.0 133.7 C1993.7 133.7 1994.3 133.7 1995.0 133.7 C1995.7 133.7 1996.4 133.7 1997.0 133.7 C1997.7 133.7 1998.4 133.7 1999.0 133.7 C1999.7 133.7 2000.4 133.7 2001.0 133.7 C2001.7 133.7 2002.4 133.7 2003.0 133.7 C2003.7 133.7 2004.4 133.7 2005.0 133.7 C2005.7 133.7 2006.4 133.7 2007.1 133.7 C2007.7 133.7 2008.4 133.7 2009.1 133.7 C2009.7 133.7 2010.4 133.7 2011.1 133.7 C2011.7 133.7 2012.4 133.8 2013.1 133.8 C2013.7 133.8 2014.4 133.8 2015.1 133.8 C2015.7 133.8 2016.4 133.8 2017.1 133.8 C2017.7 133.8 2018.4 133.8 2019.1 133.8 C2019.8 133.8 2020.4 133.8 2021.1 133.8 C2021.8 133.8 2022.4 133.8 2023.1 133.8 C2023.8 133.8 2024.4 133.8 2025.1 133.8 C2025.8 133.8 2026.4 133.8 2027.1 133.8 C2027.8 133.8 2028.4 133.8 2029.1 133.8 C2029.8 133.8 2030.4 133.8 2031.1 133.8 C2031.8 133.8 2032.4 133.8 2033.1 133.8 C2033.8 133.8 2034.4 133.8 2035.1 133.8 C2035.8 133.8 2036.4 133.8 2037.1 133.8 C2037.8 133.8 2038.5 133.8 2039.1 133.8 C2039.8 133.8 2040.5 133.8 2041.1 133.8 C2041.8 133.8 2042.5 133.8 2043.1 133.8 C2043.8 133.8 2044.5 133.7 2045.1 133.7 C2045.8 133.7 2046.5 133.7 2047.1 133.7 C2047.8 133.7 2048.5 133.7 2049.1 133.7 C2049.8 133.6 2050.5 133.6 2051.1 133.6 C2051.8 133.6 2052.5 133.6 2053.1 133.6 C2053.8 133.5 2054.5 133.5 2055.1 133.5 C2055.8 133.5 2056.5 133.5 2057.1 133.4 C2057.8 133.4 2058.5 133.4 2059.1 133.3 C2059.8 133.3 2060.5 133.3 2061.1 133.3 C2061.8 133.2 2062.5 133.2 2063.1 133.2 C2063.8 133.1 2064.5 133.1 2065.1 133.1 C2065.8 133.0 2066.5 133.0 2067.1 133.0 C2067.8 132.9 2068.5 132.9 2069.1 132.8 C2069.8 132.8 2070.5 132.8 2071.1 132.7 C2071.8 132.7 2072.5 132.6 2073.1 132.6 C2073.8 132.5 2074.5 132.5 2075.1 132.4 C2075.8 132.4 2076.5 132.4 2077.1 132.3 C2077.8 132.3 2078.5 132.2 2079.1 132.2 C2079.8 132.1 2080.5 132.1 2081.1 132.0 C2081.8 132.0 2082.5 131.9 2083.1 131.9 C2083.8 131.8 2084.5 131.7 2085.1 131.7 C2085.8 131.6 2086.5 131.6 2087.1 131.5 C2087.8 131.5 2088.5 131.4 2089.1 131.4 C2089.8 131.3 2090.5 131.2 2091.1 131.2 C2091.8 131.1 2092.5 131.1 2093.1 131.0 C2093.8 131.0 2094.5 130.9 2095.1 130.8 C2095.8 130.8 2096.5 130.7 2097.1 130.7 C2097.8 130.6 2098.5 130.5 2099.1 130.5 C2099.8 130.4 2100.5 130.4 2101.1 130.3 C2101.8 130.2 2102.5 130.2 2103.1 130.1 C2103.8 130.1 2104.5 130.0 2105.1 129.9 C2105.8 129.9 2106.4 129.8 2107.1 129.7 C2107.8 129.7 2108.4 129.6 2109.1 129.6 C2109.8 129.5 2110.4 129.4 2111.1 129.4 C2111.8 129.3 2112.4 129.3 2113.1 129.2 C2113.8 129.1 2114.4 129.1 2115.1 129.0 C2115.8 129.0 2116.4 128.9 2117.1 128.8 C2117.8 128.8 2118.4 128.7 2119.1 128.7 C2119.8 128.6 2120.4 128.5 2121.1 128.5 C2121.8 128.4 2122.4 128.4 2123.1 128.3 C2123.8 128.3 2124.4 128.2 2125.1 128.1 C2125.8 128.1 2126.4 128.0 2127.1 128.0 C2127.8 127.9 2128.4 127.9 2129.1 127.8 C2129.8 127.8 2130.4 127.7 2131.1 127.7 C2131.8 127.6 2132.4 127.6 2133.1 127.5 C2133.8 127.5 2134.4 127.4 2135.1 127.4 C2135.8 127.3 2136.4 127.3 2137.1 127.2 C2137.8 127.2 2138.4 127.1 2139.1 127.1 C2139.8 127.0 2140.4 127.0 2141.1 126.9 C2141.8 126.9 2142.4 126.8 2143.1 126.8 C2143.8 126.8 2144.4 126.7 2145.1 126.7 C2145.8 126.6 2146.4 126.6 2147.1 126.5 C2147.8 126.5 2148.5 126.5 2149.1 126.4 C2149.8 126.4 2150.5 126.3 2151.1 126.3 C2151.8 126.3 2152.5 126.2 2153.1 126.2 C2153.8 126.2 2154.5 126.1 2155.1 126.1 C2155.8 126.0 2156.5 126.0 2157.1 126.0 C2157.8 125.9 2158.5 125.9 2159.1 125.9 C2159.8 125.8 2160.5 125.8 2161.1 125.8 C2161.8 125.7 2162.5 125.7 2163.1 125.7 C2163.8 125.7 2164.5 125.6 2165.1 125.6 C2165.8 125.6 2166.5 125.5 2167.1 125.5 C2167.8 125.5 2168.5 125.5 2169.1 125.4 C2169.8 125.4 2170.5 125.4 2171.1 125.3 C2171.8 125.3 2172.5 125.3 2173.1 125.3 C2173.8 125.3 2174.5 125.2 2175.2 125.2 C2175.8 125.2 2176.5 125.2 2177.2 125.1 C2177.8 125.1 2178.5 125.1 2179.2 125.1 C2179.8 125.1 2180.5 125.0 2181.2 125.0 C2181.8 125.0 2182.5 125.0 2183.2 125.0 C2183.8 125.0 2184.5 124.9 2185.2 124.9 C2185.8 124.9 2186.5 124.9 2187.2 124.9 C2187.8 124.9 2188.5 124.8 2189.2 124.8 C2189.8 124.8 2190.5 124.8 2191.2 124.8 C2191.9 124.8 2192.5 124.8 2193.2 124.8 C2193.9 124.8 2194.5 124.7 2195.2 124.7 C2195.9 124.7 2196.5 124.7 2197.2 124.7 C2197.9 124.7 2198.5 124.7 2199.2 124.7 C2199.9 124.7 2200.5 124.7 2201.2 124.7 C2201.9 124.7 2202.5 124.7 2203.2 124.7 C2203.9 124.7 2204.5 124.7 2205.2 124.6 C2205.9 124.6 2206.5 124.6 2207.2 124.6 C2207.9 124.6 2208.6 124.6 2209.2 124.6 C2209.9 124.6 2210.6 124.6 2211.2 124.6 C2211.9 124.6 2212.6 124.7 2213.2 124.7 C2213.9 124.7 2214.6 124.7 2215.2 124.7 C2215.9 124.7 2216.6 124.7 2217.2 124.7 C2217.9 124.7 2218.6 124.7 2219.2 124.7 C2219.9 124.7 2220.6 124.7 2221.3 124.7 C2221.9 124.7 2222.6 124.7 2223.3 124.8 C2223.9 124.8 2224.6 124.8 2225.3 124.8 C2225.9 124.8 2226.6 124.8 2227.3 124.8 C2227.9 124.8 2228.6 124.9 2229.3 124.9 C2229.9 124.9 2230.6 124.9 2231.3 124.9 C2231.9 124.9 2232.6 124.9 2233.3 125.0 C2234.0 125.0 2234.6 125.0 2235.3 125.0 C2236.0 125.0 2236.6 125.1 2237.3 125.1 C2238.0 125.1 2238.6 125.1 2239.3 125.1 C2240.0 125.2 2241.0 125.2 2241.3 125.2" fill="none" stroke="#0000ff" stroke-width="3.20" stroke-linejoin="round" stroke-linecap="round"/>
<path d="M1180.9 359.8 C1182.9 359.5 1189.4 358.3 1192.6 358.1 C1195.8 357.9 1197.1 359.1 1200.3 358.6 C1203.5 358.1 1207.6 355.9 1212.0 355.0 C1216.4 354.1 1222.5 353.0 1226.5 353.0 C1230.5 353.0 1233.4 355.2 1236.3 355.0 C1239.2 354.8 1240.0 352.5 1244.0 351.6 C1248.0 350.7 1255.3 350.2 1260.5 349.6 C1265.7 349.0 1269.4 348.7 1275.1 348.2 C1280.8 347.7 1288.0 347.3 1294.5 346.7 C1301.0 346.1 1307.4 345.4 1313.9 344.8 C1320.4 344.2 1326.8 343.8 1333.3 343.3 C1339.8 342.8 1347.1 342.2 1352.8 341.8 C1358.5 341.4 1363.1 341.1 1367.3 340.6 C1371.5 340.1 1374.8 339.0 1378.0 338.9 C1381.2 338.8 1383.2 340.2 1386.7 340.2 C1390.2 340.2 1395.3 338.8 1398.8 338.7 C1402.3 338.6 1404.9 339.3 1407.7 339.3 C1410.5 339.3 1413.1 338.6 1415.6 338.7 C1418.1 338.8 1420.3 340.4 1422.7 340.2 C1425.1 340.0 1426.3 338.1 1429.7 337.5 C1433.1 336.9 1438.6 336.9 1443.0 336.6 C1447.4 336.3 1451.8 336.2 1456.2 335.7 C1460.6 335.2 1466.5 334.0 1469.4 333.5 C1472.3 333.0 1471.6 332.7 1473.8 332.7 C1476.0 332.7 1479.8 333.8 1482.7 333.5 C1485.7 333.2 1487.8 331.5 1491.5 330.9 C1495.2 330.3 1500.7 330.1 1504.7 330.0 C1508.7 329.9 1512.0 330.4 1515.3 330.2 C1518.5 330.0 1521.5 328.7 1524.2 328.7 C1526.9 328.7 1529.2 329.1 1531.2 330.0 C1533.2 330.9 1534.7 332.7 1536.5 334.0 C1538.3 335.3 1539.7 336.9 1541.8 337.9 C1543.9 338.9 1546.2 339.4 1548.9 340.2 C1551.6 341.0 1554.8 341.8 1557.7 342.8 C1560.6 343.8 1564.2 345.2 1566.5 346.3 C1568.8 347.4 1570.2 347.8 1571.8 349.4 C1573.4 350.9 1574.9 353.5 1576.2 355.6 C1577.5 357.7 1578.3 359.2 1579.5 362.0 C1580.7 364.8 1582.0 368.4 1583.3 372.2 C1584.6 375.9 1586.0 380.4 1587.3 384.5 C1588.6 388.6 1589.8 392.6 1590.9 396.7 C1592.0 400.8 1593.1 404.9 1594.0 409.0 C1594.9 413.1 1595.7 417.1 1596.5 421.2 C1597.3 425.3 1598.3 429.4 1599.1 433.5 C1599.9 437.6 1600.4 441.6 1601.1 445.7 C1601.8 449.8 1602.3 454.6 1603.0 458.0 C1603.7 461.4 1604.3 462.5 1605.0 466.0 C1605.7 469.5 1606.3 474.7 1607.1 479.0 C1607.8 483.3 1608.6 488.1 1609.5 491.6 C1610.4 495.2 1611.1 497.9 1612.4 500.3 C1613.7 502.7 1616.0 504.3 1617.3 506.1 C1618.6 507.9 1619.2 508.7 1620.2 511.0 C1621.2 513.3 1622.1 516.6 1623.1 519.7 C1624.1 522.8 1624.9 526.6 1626.0 529.4 C1627.1 532.1 1628.7 535.0 1629.8 536.2 C1630.9 537.4 1631.7 537.2 1632.8 536.6 C1633.9 536.0 1635.1 534.0 1636.6 532.3 C1638.1 530.6 1640.6 527.8 1641.6 526.6 C1642.7 525.3 1642.4 525.4 1642.7 524.9 C1643.1 524.3 1643.4 523.7 1643.7 523.2 C1644.1 522.6 1644.4 522.0 1644.7 521.4 C1645.0 520.8 1645.3 520.2 1645.7 519.6 C1646.0 519.1 1646.3 518.5 1646.5 517.9 C1646.8 517.3 1647.1 516.7 1647.4 516.0 C1647.7 515.4 1647.9 514.8 1648.2 514.2 C1648.5 513.6 1648.7 513.0 1649.0 512.4 C1649.3 511.8 1649.5 511.2 1649.8 510.5 C1650.0 509.9 1650.3 509.3 1650.5 508.7 C1650.8 508.1 1651.0 507.4 1651.2 506.8 C1651.5 506.2 1651.7 505.6 1652.0 504.9 C1652.2 504.3 1652.4 503.7 1652.7 503.1 C1652.9 502.4 1653.1 501.8 1653.4 501.2 C1653.6 500.5 1653.8 499.9 1654.1 499.3 C1654.3 498.7 1654.5 498.0 1654.8 497.4 C1655.0 496.8 1655.3 496.2 1655.5 495.6 C1655.7 494.9 1656.0 494.3 1656.2 493.7 C1656.5 493.1 1656.7 492.4 1657.0 491.8 C1657.2 491.2 1657.5 490.6 1657.7 490.0 C1658.0 489.4 1658.2 488.8 1658.5 488.2 C1658.8 487.5 1659.1 486.9 1659.3 486.3 C1659.6 485.7 1659.9 485.1 1660.2 484.5 C1660.5 484.0 1660.8 483.4 1661.1 482.8 C1661.4 482.2 1661.7 481.6 1662.0 481.0 C1662.3 480.4 1662.6 479.9 1663.0 479.3 C1663.3 478.7 1663.7 478.1 1664.0 477.6 C1664.3 477.0 1664.7 476.4 1665.0 475.9 C1665.4 475.3 1665.7 474.7 1666.1 474.2 C1666.4 473.6 1666.8 473.1 1667.1 472.5 C1667.5 471.9 1667.8 471.4 1668.2 470.8 C1668.5 470.2 1668.9 469.7 1669.2 469.1 C1669.6 468.5 1669.9 467.9 1670.2 467.4 C1670.6 466.8 1670.9 466.2 1671.2 465.6 C1671.5 465.0 1671.8 464.4 1672.1 463.8 C1672.4 463.2 1672.7 462.6 1673.0 462.0 C1673.3 461.4 1673.6 460.8 1673.9 460.2 C1674.1 459.6 1674.4 459.0 1674.7 458.4 C1674.9 457.8 1675.2 457.1 1675.5 456.5 C1675.7 455.9 1676.0 455.3 1676.2 454.7 C1676.5 454.0 1676.8 453.4 1677.0 452.8 C1677.3 452.2 1677.5 451.5 1677.8 450.9 C1678.1 450.3 1678.3 449.7 1678.6 449.1 C1678.8 448.4 1679.1 447.8 1679.4 447.2 C1679.6 446.6 1679.9 446.0 1680.2 445.4 C1680.5 444.8 1680.8 444.1 1681.0 443.5 C1681.3 442.9 1681.6 442.3 1681.9 441.7 C1682.2 441.2 1682.5 440.6 1682.8 440.0 C1683.2 439.4 1683.5 438.8 1683.8 438.2 C1684.1 437.7 1684.5 437.1 1684.8 436.5 C1685.2 435.9 1685.5 435.4 1685.9 434.8 C1686.2 434.3 1686.6 433.7 1687.0 433.2 C1687.3 432.6 1687.7 432.1 1688.1 431.5 C1688.5 431.0 1688.9 430.5 1689.3 429.9 C1689.7 429.4 1690.1 428.9 1690.5 428.3 C1690.9 427.8 1691.3 427.3 1691.7 426.8 C1692.1 426.3 1692.6 425.8 1693.0 425.3 C1693.4 424.8 1693.9 424.3 1694.3 423.8 C1694.7 423.3 1695.2 422.8 1695.6 422.3 C1696.1 421.8 1696.6 421.3 1697.0 420.8 C1697.5 420.4 1697.9 419.9 1698.4 419.4 C1698.9 419.0 1699.4 418.5 1699.8 418.0 C1700.3 417.6 1700.8 417.1 1701.3 416.7 C1701.8 416.2 1702.3 415.8 1702.8 415.3 C1703.3 414.9 1703.8 414.5 1704.3 414.0 C1704.8 413.6 1705.3 413.2 1705.8 412.7 C1706.3 412.3 1706.9 411.9 1707.4 411.5 C1707.9 411.1 1708.4 410.6 1709.0 410.2 C1709.5 409.8 1710.0 409.4 1710.6 409.0 C1711.1 408.6 1711.7 408.2 1712.2 407.8 C1712.7 407.5 1713.3 407.1 1713.8 406.7 C1714.4 406.3 1714.9 405.9 1715.5 405.6 C1716.0 405.2 1716.6 404.8 1717.2 404.5 C1717.7 404.1 1718.3 403.7 1718.9 403.4 C1719.4 403.0 1720.0 402.7 1720.6 402.3 C1721.1 402.0 1721.7 401.6 1722.3 401.3 C1722.9 401.0 1723.4 400.6 1724.0 400.3 C1724.6 400.0 1725.2 399.6 1725.8 399.3 C1726.3 399.0 1726.9 398.7 1727.5 398.4 C1728.1 398.0 1728.7 397.7 1729.3 397.4 C1729.9 397.1 1730.5 396.8 1731.1 396.5 C1731.7 396.2 1732.3 395.9 1732.9 395.6 C1733.5 395.3 1734.1 395.0 1734.7 394.8 C1735.3 394.5 1735.9 394.2 1736.5 393.9 C1737.1 393.6 1737.7 393.4 1738.3 393.1 C1738.9 392.8 1739.5 392.6 1740.1 392.3 C1740.8 392.0 1741.4 391.8 1742.0 391.5 C1742.6 391.2 1743.2 391.0 1743.8 390.7 C1744.5 390.5 1745.1 390.2 1745.7 390.0 C1746.3 389.7 1746.9 389.5 1747.6 389.3 C1748.2 389.0 1748.8 388.8 1749.4 388.6 C1750.1 388.3 1750.7 388.1 1751.3 387.9 C1752.0 387.6 1752.6 387.4 1753.2 387.2 C1753.9 387.0 1754.5 386.7 1755.1 386.5 C1755.8 386.3 1756.4 386.1 1757.0 385.9 C1757.7 385.7 1758.3 385.5 1758.9 385.2 C1759.6 385.0 1760.2 384.8 1760.9 384.6 C1761.5 384.4 1762.1 384.2 1762.8 384.0 C1763.4 383.8 1764.1 383.6 1764.7 383.4 C1765.3 383.3 1766.0 383.1 1766.6 382.9 C1767.3 382.7 1767.9 382.5 1768.6 382.3 C1769.2 382.1 1769.8 381.9 1770.5 381.8 C1771.1 381.6 1771.8 381.4 1772.4 381.2 C1773.1 381.0 1773.7 380.9 1774.4 380.7 C1775.0 380.5 1775.7 380.4 1776.3 380.2 C1777.0 380.0 1777.6 379.8 1778.2 379.7 C1778.9 379.5 1779.5 379.3 1780.2 379.2 C1780.8 379.0 1781.5 378.9 1782.1 378.7 C1782.8 378.5 1783.4 378.4 1784.1 378.2 C1784.7 378.1 1785.4 377.9 1786.0 377.8 C1786.7 377.6 1787.3 377.5 1788.0 377.3 C1788.6 377.2 1789.3 377.0 1789.9 376.9 C1790.6 376.7 1791.2 376.6 1791.9 376.4 C1792.5 376.3 1793.2 376.1 1793.8 376.0 C1794.5 375.9 1795.2 375.7 1795.8 375.6 C1796.5 375.5 1797.1 375.3 1797.8 375.2 C1798.4 375.0 1799.1 374.9 1799.7 374.8 C1800.4 374.6 1801.0 374.5 1801.7 374.4 C1802.3 374.3 1803.0 374.1 1803.6 374.0 C1804.3 373.9 1805.0 373.8 1805.6 373.6 C1806.3 373.5 1806.9 373.4 1807.6 373.3 C1808.2 373.1 1808.9 373.0 1809.5 372.9 C1810.2 372.8 1810.9 372.7 1811.5 372.6 C1812.2 372.4 1812.8 372.3 1813.5 372.2 C1814.1 372.1 1814.8 372.0 1815.4 371.9 C1816.1 371.8 1816.8 371.7 1817.4 371.6 C1818.1 371.5 1818.7 371.3 1819.4 371.2 C1820.0 371.1 1820.7 371.0 1821.4 370.9 C1822.0 370.8 1822.7 370.7 1823.3 370.6 C1824.0 370.5 1824.7 370.4 1825.3 370.3 C1826.0 370.2 1826.6 370.1 1827.3 370.0 C1827.9 369.9 1828.6 369.8 1829.3 369.7 C1829.9 369.6 1830.6 369.6 1831.2 369.5 C1831.9 369.4 1832.6 369.3 1833.2 369.2 C1833.9 369.1 1834.5 369.0 1835.2 368.9 C1835.9 368.8 1836.5 368.7 1837.2 368.7 C1837.8 368.6 1838.5 368.5 1839.2 368.4 C1839.8 368.3 1840.5 368.2 1841.2 368.2 C1841.8 368.1 1842.5 368.0 1843.1 367.9 C1843.8 367.8 1844.5 367.7 1845.1 367.7 C1845.8 367.6 1846.4 367.5 1847.1 367.4 C1847.8 367.4 1848.4 367.3 1849.1 367.2 C1849.8 367.1 1850.4 367.0 1851.1 367.0 C1851.7 366.9 1852.4 366.8 1853.1 366.8 C1853.7 366.7 1854.4 366.6 1855.1 366.5 C1855.7 366.5 1856.4 366.4 1857.0 366.3 C1857.7 366.3 1858.4 366.2 1859.0 366.1 C1859.7 366.0 1860.4 366.0 1861.0 365.9 C1861.7 365.8 1862.4 365.8 1863.0 365.7 C1863.7 365.6 1864.4 365.6 1865.0 365.5 C1865.7 365.4 1866.3 365.4 1867.0 365.3 C1867.7 365.3 1868.3 365.2 1869.0 365.1 C1869.7 365.1 1870.3 365.0 1871.0 364.9 C1871.7 364.9 1872.3 364.8 1873.0 364.8 C1873.7 364.7 1874.3 364.6 1875.0 364.6 C1875.7 364.5 1876.3 364.5 1877.0 364.4 C1877.6 364.3 1878.3 364.3 1879.0 364.2 C1879.6 364.2 1880.3 364.1 1881.0 364.0 C1881.6 364.0 1882.3 363.9 1883.0 363.9 C1883.6 363.8 1884.3 363.8 1885.0 363.7 C1885.6 363.7 1886.3 363.6 1887.0 363.5 C1887.6 363.5 1888.3 363.4 1889.0 363.4 C1889.6 363.3 1890.3 363.3 1891.0 363.2 C1891.6 363.2 1892.3 363.1 1893.0 363.1 C1893.6 363.0 1894.3 363.0 1895.0 362.9 C1895.6 362.9 1896.3 362.8 1897.0 362.8 C1897.6 362.7 1898.3 362.7 1899.0 362.6 C1899.6 362.6 1900.3 362.5 1901.0 362.5 C1901.6 362.4 1902.3 362.4 1903.0 362.3 C1903.6 362.3 1904.3 362.2 1905.0 362.2 C1905.6 362.1 1906.3 362.1 1907.0 362.0 C1907.6 362.0 1908.3 361.9 1909.0 361.9 C1909.6 361.9 1910.3 361.8 1911.0 361.8 C1911.6 361.7 1912.3 361.7 1913.0 361.6 C1913.6 361.6 1914.3 361.5 1915.0 361.5 C1915.6 361.5 1916.3 361.4 1917.0 361.4 C1917.6 361.3 1918.3 361.3 1919.0 361.3 C1919.6 361.2 1920.3 361.2 1921.0 361.1 C1921.6 361.1 1922.3 361.1 1923.0 361.0 C1923.6 361.0 1924.3 361.0 1925.0 360.9 C1925.6 360.9 1926.3 360.8 1927.0 360.8 C1927.6 360.8 1928.3 360.7 1929.0 360.7 C1929.6 360.7 1930.3 360.6 1931.0 360.6 C1931.7 360.6 1932.3 360.5 1933.0 360.5 C1933.7 360.5 1934.3 360.4 1935.0 360.4 C1935.7 360.4 1936.3 360.3 1937.0 360.3 C1937.7 360.3 1938.3 360.3 1939.0 360.2 C1939.7 360.2 1940.3 360.2 1941.0 360.1 C1941.7 360.1 1942.3 360.1 1943.0 360.1 C1943.7 360.0 1944.3 360.0 1945.0 360.0 C1945.7 360.0 1946.3 359.9 1947.0 359.9 C1947.7 359.9 1948.3 359.9 1949.0 359.8 C1949.7 359.8 1950.3 359.8 1951.0 359.8 C1951.7 359.7 1952.4 359.7 1953.0 359.7 C1953.7 359.7 1954.4 359.7 1955.0 359.6 C1955.7 359.6 1956.4 359.6 1957.0 359.6 C1957.7 359.6 1958.4 359.5 1959.0 359.5 C1959.7 359.5 1960.4 359.5 1961.0 359.5 C1961.7 359.5 1962.4 359.4 1963.0 359.4 C1963.7 359.4 1964.4 359.4 1965.0 359.4 C1965.7 359.4 1966.4 359.4 1967.0 359.3 C1967.7 359.3 1968.4 359.3 1969.0 359.3 C1969.7 359.3 1970.4 359.3 1971.0 359.3 C1971.7 359.3 1972.4 359.3 1973.0 359.2 C1973.7 359.2 1974.4 359.2 1975.1 359.2 C1975.7 359.2 1976.4 359.2 1977.1 359.2 C1977.7 359.2 1978.4 359.2 1979.1 359.2 C1979.7 359.2 1980.4 359.2 1981.1 359.2 C1981.7 359.2 1982.4 359.1 1983.1 359.1 C1983.7 359.1 1984.4 359.1 1985.1 359.1 C1985.7 359.1 1986.4 359.1 1987.1 359.1 C1987.7 359.1 1988.4 359.1 1989.1 359.1 C1989.7 359.1 1990.4 359.1 1991.1 359.1 C1991.7 359.1 1992.4 359.1 1993.1 359.1 C1993.7 359.1 1994.4 359.1 1995.1 359.1 C1995.7 359.1 1996.4 359.1 1997.1 359.1 C1997.7 359.1 1998.4 359.1 1999.1 359.1 C1999.7 359.0 2000.4 359.0 2001.1 359.0 C2001.7 359.0 2002.4 359.0 2003.1 359.0 C2003.7 359.0 2004.4 359.0 2005.1 359.0 C2005.7 359.0 2006.4 359.0 2007.1 359.0 C2007.7 359.0 2008.4 359.0 2009.1 359.0 C2009.7 359.0 2010.4 359.0 2011.1 359.0 C2011.7 358.9 2012.4 358.9 2013.1 358.9 C2013.7 358.9 2014.4 358.9 2015.1 358.9 C2015.7 358.9 2016.4 358.9 2017.1 358.9 C2017.7 358.9 2018.4 358.9 2019.1 358.8 C2019.7 358.8 2020.4 358.8 2021.1 358.8 C2021.7 358.8 2022.4 358.8 2023.1 358.8 C2023.7 358.7 2024.4 358.7 2025.1 358.7 C2025.7 358.7 2026.4 358.7 2027.1 358.7 C2027.7 358.6 2028.4 358.6 2029.1 358.6 C2029.7 358.6 2030.4 358.6 2031.1 358.5 C2031.8 358.5 2032.4 358.5 2033.1 358.5 C2033.8 358.5 2034.4 358.4 2035.1 358.4 C2035.8 358.4 2036.4 358.4 2037.1 358.3 C2037.8 358.3 2038.4 358.3 2039.1 358.3 C2039.8 358.2 2040.4 358.2 2041.1 358.2 C2041.8 358.2 2042.4 358.1 2043.1 358.1 C2043.8 358.1 2044.4 358.0 2045.1 358.0 C2045.8 358.0 2046.4 358.0 2047.1 357.9 C2047.8 357.9 2048.4 357.9 2049.1 357.8 C2049.8 357.8 2050.4 357.8 2051.1 357.7 C2051.8 357.7 2052.4 357.7 2053.1 357.6 C2053.8 357.6 2054.4 357.6 2055.1 357.5 C2055.8 357.5 2056.4 357.5 2057.1 357.4 C2057.8 357.4 2058.4 357.4 2059.1 357.3 C2059.8 357.3 2060.4 357.3 2061.1 357.2 C2061.8 357.2 2062.4 357.1 2063.1 357.1 C2063.8 357.1 2064.4 357.0 2065.1 357.0 C2065.8 357.0 2066.4 356.9 2067.1 356.9 C2067.8 356.8 2068.4 356.8 2069.1 356.8 C2069.8 356.7 2070.4 356.7 2071.1 356.7 C2071.8 356.6 2072.4 356.6 2073.1 356.5 C2073.8 356.5 2074.4 356.5 2075.1 356.4 C2075.8 356.4 2076.4 356.3 2077.1 356.3 C2077.8 356.3 2078.5 356.2 2079.1 356.2 C2079.8 356.1 2080.5 356.1 2081.1 356.1 C2081.8 356.0 2082.5 356.0 2083.1 355.9 C2083.8 355.9 2084.5 355.9 2085.1 355.8 C2085.8 355.8 2086.5 355.7 2087.1 355.7 C2087.8 355.7 2088.5 355.6 2089.1 355.6 C2089.8 355.5 2090.5 355.5 2091.1 355.5 C2091.8 355.4 2092.5 355.4 2093.1 355.4 C2093.8 355.3 2094.5 355.3 2095.1 355.2 C2095.8 355.2 2096.5 355.2 2097.1 355.1 C2097.8 355.1 2098.5 355.0 2099.1 355.0 C2099.8 355.0 2100.5 354.9 2101.1 354.9 C2101.8 354.9 2102.5 354.8 2103.1 354.8 C2103.8 354.7 2104.5 354.7 2105.1 354.7 C2105.8 354.6 2106.5 354.6 2107.1 354.5 C2107.8 354.5 2108.5 354.5 2109.1 354.4 C2109.8 354.4 2110.5 354.4 2111.1 354.3 C2111.8 354.3 2112.5 354.3 2113.1 354.2 C2113.8 354.2 2114.5 354.1 2115.1 354.1 C2115.8 354.1 2116.5 354.0 2117.1 354.0 C2117.8 354.0 2118.5 353.9 2119.1 353.9 C2119.8 353.9 2120.5 353.8 2121.1 353.8 C2121.8 353.8 2122.5 353.7 2123.1 353.7 C2123.8 353.7 2124.5 353.6 2125.1 353.6 C2125.8 353.6 2126.5 353.5 2127.1 353.5 C2127.8 353.5 2128.5 353.4 2129.1 353.4 C2129.8 353.4 2130.5 353.3 2131.2 353.3 C2131.8 353.3 2132.5 353.2 2133.2 353.2 C2133.8 353.2 2134.5 353.1 2135.2 353.1 C2135.8 353.1 2136.5 353.0 2137.2 353.0 C2137.8 353.0 2138.5 353.0 2139.2 352.9 C2139.8 352.9 2140.5 352.9 2141.2 352.8 C2141.8 352.8 2142.5 352.8 2143.2 352.7 C2143.8 352.7 2144.5 352.7 2145.2 352.7 C2145.8 352.6 2146.5 352.6 2147.2 352.6 C2147.8 352.5 2148.5 352.5 2149.2 352.5 C2149.8 352.5 2150.5 352.4 2151.2 352.4 C2151.8 352.4 2152.5 352.4 2153.2 352.3 C2153.8 352.3 2154.5 352.3 2155.2 352.3 C2155.8 352.2 2156.5 352.2 2157.2 352.2 C2157.8 352.2 2158.5 352.1 2159.2 352.1 C2159.8 352.1 2160.5 352.1 2161.2 352.0 C2161.8 352.0 2162.5 352.0 2163.2 352.0 C2163.8 352.0 2164.5 351.9 2165.2 351.9 C2165.8 351.9 2166.5 351.9 2167.2 351.8 C2167.8 351.8 2168.5 351.8 2169.2 351.8 C2169.8 351.8 2170.5 351.7 2171.2 351.7 C2171.8 351.7 2172.5 351.7 2173.2 351.7 C2173.8 351.6 2174.5 351.6 2175.2 351.6 C2175.9 351.6 2176.5 351.6 2177.2 351.6 C2177.9 351.5 2178.5 351.5 2179.2 351.5 C2179.9 351.5 2180.5 351.5 2181.2 351.5 C2181.9 351.4 2182.5 351.4 2183.2 351.4 C2183.9 351.4 2184.5 351.4 2185.2 351.4 C2185.9 351.4 2186.5 351.3 2187.2 351.3 C2187.9 351.3 2188.5 351.3 2189.2 351.3 C2189.9 351.3 2190.5 351.3 2191.2 351.3 C2191.9 351.3 2192.5 351.2 2193.2 351.2 C2193.9 351.2 2194.5 351.2 2195.2 351.2 C2195.9 351.2 2196.5 351.2 2197.2 351.2 C2197.9 351.2 2198.5 351.2 2199.2 351.2 C2199.9 351.1 2200.5 351.1 2201.2 351.1 C2201.9 351.1 2202.6 351.1 2203.2 351.1 C2203.9 351.1 2204.6 351.1 2205.2 351.1 C2205.9 351.1 2206.6 351.1 2207.2 351.1 C2207.9 351.1 2208.6 351.1 2209.2 351.1 C2209.9 351.1 2210.6 351.1 2211.2 351.1 C2211.9 351.1 2212.6 351.1 2213.2 351.1 C2213.9 351.1 2214.6 351.1 2215.2 351.1 C2215.9 351.1 2216.6 351.1 2217.2 351.1 C2217.9 351.1 2218.6 351.1 2219.2 351.1 C2219.9 351.1 2220.6 351.1 2221.3 351.1 C2221.9 351.1 2222.6 351.1 2223.3 351.1 C2223.9 351.1 2224.6 351.1 2225.3 351.1 C2225.9 351.1 2226.6 351.1 2227.3 351.2 C2227.9 351.2 2228.6 351.2 2229.3 351.2 C2229.9 351.2 2230.6 351.2 2231.3 351.2 C2231.9 351.2 2232.6 351.2 2233.3 351.2 C2233.9 351.3 2234.6 351.3 2235.3 351.3 C2236.0 351.3 2236.6 351.3 2237.3 351.3 C2238.0 351.3 2238.6 351.3 2239.3 351.4 C2240.0 351.4 2241.0 351.4 2241.3 351.4" fill="none" stroke="#ff0000" stroke-width="3.20" stroke-linejoin="round" stroke-linecap="round"/>
<path d="M1180.9 561.7 C1183.7 561.1 1191.4 559.3 1197.4 558.3 C1203.4 557.3 1211.1 556.7 1216.8 555.9 C1222.5 555.1 1226.5 554.1 1231.4 553.5 C1236.3 552.9 1240.3 552.5 1246.0 552.0 C1251.7 551.5 1258.9 551.1 1265.4 550.6 C1271.9 550.1 1278.3 549.6 1284.8 549.1 C1291.3 548.6 1297.7 548.2 1304.2 547.7 C1310.7 547.2 1317.9 546.7 1323.6 546.2 C1329.3 545.7 1334.2 545.3 1338.2 544.8 C1342.2 544.3 1343.9 543.6 1347.9 543.3 C1352.0 543.0 1356.8 543.1 1362.5 542.8 C1368.2 542.5 1377.3 541.6 1381.9 541.4 C1386.5 541.1 1386.5 541.4 1390.0 541.3 C1393.5 541.2 1398.4 541.0 1403.2 540.6 C1408.0 540.2 1414.7 538.9 1419.1 538.8 C1423.5 538.7 1425.7 540.4 1429.7 540.2 C1433.7 540.1 1437.8 538.6 1443.0 537.9 C1448.2 537.1 1455.0 536.6 1460.6 535.7 C1466.2 534.8 1471.3 533.4 1476.5 532.7 C1481.7 532.1 1486.8 532.2 1491.5 531.8 C1496.2 531.3 1501.0 530.4 1504.7 530.0 C1508.4 529.6 1509.9 529.4 1513.6 529.4 C1517.3 529.4 1523.6 529.5 1526.8 530.0 C1530.0 530.5 1530.8 531.4 1533.0 532.7 C1535.2 534.0 1537.3 536.5 1540.0 538.0 C1542.7 539.5 1546.0 540.4 1548.9 541.5 C1551.9 542.6 1554.8 543.4 1557.7 544.6 C1560.6 545.8 1563.8 547.0 1566.5 548.5 C1569.2 550.0 1571.7 551.9 1573.6 553.8 C1575.5 555.7 1576.3 556.9 1577.7 560.0 C1579.1 563.1 1580.7 568.1 1582.2 572.2 C1583.7 576.3 1585.4 580.4 1586.8 584.5 C1588.2 588.6 1589.3 592.6 1590.4 596.7 C1591.5 600.8 1592.6 604.9 1593.5 609.0 C1594.4 613.1 1595.2 617.1 1596.0 621.2 C1596.8 625.3 1597.8 629.4 1598.6 633.5 C1599.4 637.6 1600.0 641.8 1600.6 645.7 C1601.2 649.6 1601.7 652.9 1602.3 657.0 C1602.9 661.1 1603.5 665.5 1604.2 670.3 C1604.9 675.1 1605.9 680.9 1606.7 685.6 C1607.5 690.4 1608.3 695.1 1609.3 698.8 C1610.3 702.5 1611.3 705.3 1612.8 708.0 C1614.3 710.7 1617.0 712.9 1618.4 715.1 C1619.9 717.3 1620.3 718.3 1621.5 721.2 C1622.7 724.1 1624.4 729.0 1625.6 732.4 C1626.8 735.8 1627.6 739.5 1628.6 741.6 C1629.6 743.7 1630.5 744.5 1631.7 744.7 C1632.9 744.9 1634.3 744.1 1635.8 742.6 C1637.3 741.1 1639.2 737.9 1640.9 735.5 C1642.6 733.1 1645.0 729.9 1646.0 728.4 C1647.0 726.9 1646.7 727.2 1647.0 726.6 C1647.3 726.1 1647.6 725.5 1647.9 724.9 C1648.2 724.3 1648.5 723.7 1648.8 723.1 C1649.1 722.5 1649.3 721.9 1649.6 721.3 C1649.9 720.6 1650.1 720.0 1650.4 719.4 C1650.6 718.8 1650.9 718.2 1651.1 717.6 C1651.4 716.9 1651.6 716.3 1651.8 715.7 C1652.1 715.1 1652.3 714.4 1652.5 713.8 C1652.8 713.2 1653.0 712.6 1653.2 711.9 C1653.4 711.3 1653.7 710.7 1653.9 710.0 C1654.1 709.4 1654.3 708.8 1654.6 708.1 C1654.8 707.5 1655.0 706.9 1655.2 706.2 C1655.4 705.6 1655.7 705.0 1655.9 704.3 C1656.1 703.7 1656.3 703.1 1656.6 702.4 C1656.8 701.8 1657.0 701.2 1657.2 700.5 C1657.5 699.9 1657.7 699.3 1657.9 698.7 C1658.2 698.0 1658.4 697.4 1658.6 696.8 C1658.9 696.1 1659.1 695.5 1659.3 694.9 C1659.6 694.3 1659.8 693.6 1660.1 693.0 C1660.3 692.4 1660.6 691.8 1660.8 691.2 C1661.1 690.6 1661.3 690.0 1661.6 689.3 C1661.9 688.7 1662.1 688.1 1662.4 687.5 C1662.7 686.9 1662.9 686.3 1663.2 685.7 C1663.5 685.1 1663.8 684.5 1664.1 684.0 C1664.4 683.4 1664.7 682.8 1665.0 682.2 C1665.3 681.6 1665.6 681.0 1665.9 680.5 C1666.2 679.9 1666.5 679.3 1666.8 678.7 C1667.1 678.1 1667.4 677.6 1667.7 677.0 C1668.0 676.4 1668.3 675.8 1668.7 675.2 C1669.0 674.7 1669.3 674.1 1669.6 673.5 C1669.9 672.9 1670.2 672.3 1670.5 671.8 C1670.8 671.2 1671.1 670.6 1671.4 670.0 C1671.7 669.4 1672.0 668.8 1672.3 668.2 C1672.6 667.6 1672.9 667.0 1673.2 666.4 C1673.5 665.8 1673.8 665.2 1674.1 664.6 C1674.3 664.0 1674.6 663.4 1674.9 662.8 C1675.2 662.1 1675.4 661.5 1675.7 660.9 C1675.9 660.3 1676.2 659.6 1676.5 659.0 C1676.7 658.4 1677.0 657.7 1677.2 657.1 C1677.5 656.5 1677.7 655.8 1678.0 655.2 C1678.2 654.6 1678.5 653.9 1678.7 653.3 C1679.0 652.7 1679.2 652.0 1679.5 651.4 C1679.8 650.7 1680.0 650.1 1680.3 649.5 C1680.5 648.8 1680.8 648.2 1681.0 647.6 C1681.3 647.0 1681.6 646.3 1681.8 645.7 C1682.1 645.1 1682.4 644.5 1682.7 643.9 C1683.0 643.2 1683.2 642.6 1683.5 642.0 C1683.8 641.4 1684.1 640.8 1684.4 640.2 C1684.8 639.6 1685.1 639.0 1685.4 638.5 C1685.7 637.9 1686.0 637.3 1686.4 636.7 C1686.7 636.2 1687.1 635.6 1687.4 635.0 C1687.8 634.5 1688.2 633.9 1688.5 633.4 C1688.9 632.9 1689.3 632.3 1689.7 631.8 C1690.0 631.3 1690.4 630.7 1690.8 630.2 C1691.2 629.7 1691.7 629.2 1692.1 628.7 C1692.5 628.2 1692.9 627.7 1693.3 627.2 C1693.8 626.7 1694.2 626.2 1694.6 625.7 C1695.1 625.2 1695.5 624.8 1696.0 624.3 C1696.4 623.8 1696.9 623.3 1697.4 622.9 C1697.8 622.4 1698.3 622.0 1698.8 621.5 C1699.3 621.1 1699.8 620.6 1700.2 620.2 C1700.7 619.7 1701.2 619.3 1701.7 618.9 C1702.2 618.4 1702.7 618.0 1703.2 617.6 C1703.8 617.2 1704.3 616.8 1704.8 616.3 C1705.3 615.9 1705.8 615.5 1706.4 615.1 C1706.9 614.7 1707.4 614.3 1708.0 613.9 C1708.5 613.5 1709.0 613.1 1709.6 612.8 C1710.1 612.4 1710.7 612.0 1711.2 611.6 C1711.8 611.2 1712.3 610.9 1712.9 610.5 C1713.4 610.1 1714.0 609.8 1714.6 609.4 C1715.1 609.0 1715.7 608.7 1716.3 608.3 C1716.8 608.0 1717.4 607.6 1718.0 607.3 C1718.6 606.9 1719.2 606.6 1719.7 606.2 C1720.3 605.9 1720.9 605.6 1721.5 605.2 C1722.1 604.9 1722.7 604.6 1723.2 604.2 C1723.8 603.9 1724.4 603.6 1725.0 603.3 C1725.6 602.9 1726.2 602.6 1726.8 602.3 C1727.4 602.0 1728.0 601.7 1728.6 601.3 C1729.2 601.0 1729.8 600.7 1730.4 600.4 C1731.0 600.1 1731.6 599.8 1732.2 599.5 C1732.8 599.2 1733.4 598.9 1734.0 598.6 C1734.6 598.3 1735.2 598.0 1735.8 597.7 C1736.4 597.4 1737.0 597.1 1737.6 596.9 C1738.2 596.6 1738.8 596.3 1739.4 596.0 C1740.0 595.7 1740.7 595.4 1741.3 595.2 C1741.9 594.9 1742.5 594.6 1743.1 594.3 C1743.7 594.1 1744.3 593.8 1744.9 593.5 C1745.5 593.3 1746.2 593.0 1746.8 592.7 C1747.4 592.5 1748.0 592.2 1748.6 591.9 C1749.2 591.7 1749.9 591.4 1750.5 591.2 C1751.1 590.9 1751.7 590.7 1752.3 590.4 C1753.0 590.2 1753.6 589.9 1754.2 589.7 C1754.8 589.4 1755.4 589.2 1756.1 588.9 C1756.7 588.7 1757.3 588.5 1757.9 588.2 C1758.6 588.0 1759.2 587.8 1759.8 587.5 C1760.4 587.3 1761.1 587.1 1761.7 586.8 C1762.3 586.6 1762.9 586.4 1763.6 586.2 C1764.2 586.0 1764.8 585.7 1765.5 585.5 C1766.1 585.3 1766.7 585.1 1767.3 584.9 C1768.0 584.7 1768.6 584.4 1769.2 584.2 C1769.9 584.0 1770.5 583.8 1771.1 583.6 C1771.8 583.4 1772.4 583.2 1773.0 583.0 C1773.7 582.8 1774.3 582.6 1774.9 582.4 C1775.6 582.2 1776.2 582.0 1776.9 581.8 C1777.5 581.6 1778.1 581.4 1778.8 581.3 C1779.4 581.1 1780.0 580.9 1780.7 580.7 C1781.3 580.5 1782.0 580.3 1782.6 580.1 C1783.2 580.0 1783.9 579.8 1784.5 579.6 C1785.2 579.4 1785.8 579.3 1786.5 579.1 C1787.1 578.9 1787.7 578.8 1788.4 578.6 C1789.0 578.4 1789.7 578.3 1790.3 578.1 C1791.0 577.9 1791.6 577.8 1792.3 577.6 C1792.9 577.4 1793.5 577.3 1794.2 577.1 C1794.8 577.0 1795.5 576.8 1796.1 576.7 C1796.8 576.5 1797.4 576.4 1798.1 576.2 C1798.7 576.1 1799.4 575.9 1800.0 575.8 C1800.7 575.6 1801.3 575.5 1802.0 575.3 C1802.6 575.2 1803.3 575.1 1803.9 574.9 C1804.6 574.8 1805.2 574.6 1805.9 574.5 C1806.5 574.4 1807.2 574.2 1807.8 574.1 C1808.5 574.0 1809.1 573.8 1809.8 573.7 C1810.5 573.6 1811.1 573.5 1811.8 573.3 C1812.4 573.2 1813.1 573.1 1813.7 573.0 C1814.4 572.8 1815.0 572.7 1815.7 572.6 C1816.3 572.5 1817.0 572.4 1817.7 572.2 C1818.3 572.1 1819.0 572.0 1819.6 571.9 C1820.3 571.8 1820.9 571.7 1821.6 571.6 C1822.3 571.4 1822.9 571.3 1823.6 571.2 C1824.2 571.1 1824.9 571.0 1825.6 570.9 C1826.2 570.8 1826.9 570.7 1827.5 570.6 C1828.2 570.5 1828.9 570.4 1829.5 570.3 C1830.2 570.2 1830.8 570.1 1831.5 570.0 C1832.2 569.9 1832.8 569.8 1833.5 569.7 C1834.1 569.6 1834.8 569.5 1835.5 569.4 C1836.1 569.3 1836.8 569.2 1837.4 569.1 C1838.1 569.1 1838.8 569.0 1839.4 568.9 C1840.1 568.8 1840.8 568.7 1841.4 568.6 C1842.1 568.5 1842.7 568.4 1843.4 568.4 C1844.1 568.3 1844.7 568.2 1845.4 568.1 C1846.1 568.0 1846.7 567.9 1847.4 567.9 C1848.1 567.8 1848.7 567.7 1849.4 567.6 C1850.0 567.5 1850.7 567.5 1851.4 567.4 C1852.0 567.3 1852.7 567.2 1853.4 567.2 C1854.0 567.1 1854.7 567.0 1855.4 566.9 C1856.0 566.9 1856.7 566.8 1857.4 566.7 C1858.0 566.6 1858.7 566.6 1859.3 566.5 C1860.0 566.4 1860.7 566.4 1861.3 566.3 C1862.0 566.2 1862.7 566.2 1863.3 566.1 C1864.0 566.0 1864.7 566.0 1865.3 565.9 C1866.0 565.8 1866.7 565.8 1867.3 565.7 C1868.0 565.6 1868.7 565.6 1869.3 565.5 C1870.0 565.4 1870.7 565.4 1871.3 565.3 C1872.0 565.2 1872.7 565.2 1873.3 565.1 C1874.0 565.1 1874.7 565.0 1875.3 564.9 C1876.0 564.9 1876.7 564.8 1877.3 564.8 C1878.0 564.7 1878.7 564.6 1879.3 564.6 C1880.0 564.5 1880.7 564.5 1881.3 564.4 C1882.0 564.3 1882.7 564.3 1883.3 564.2 C1884.0 564.2 1884.7 564.1 1885.3 564.1 C1886.0 564.0 1886.6 563.9 1887.3 563.9 C1888.0 563.8 1888.6 563.8 1889.3 563.7 C1890.0 563.7 1890.6 563.6 1891.3 563.6 C1892.0 563.5 1892.6 563.4 1893.3 563.4 C1894.0 563.3 1894.6 563.3 1895.3 563.2 C1896.0 563.2 1896.6 563.1 1897.3 563.1 C1898.0 563.0 1898.6 563.0 1899.3 562.9 C1900.0 562.9 1900.6 562.8 1901.3 562.8 C1902.0 562.7 1902.6 562.7 1903.3 562.6 C1904.0 562.6 1904.6 562.5 1905.3 562.5 C1906.0 562.4 1906.6 562.4 1907.3 562.3 C1907.9 562.3 1908.6 562.2 1909.3 562.2 C1909.9 562.1 1910.6 562.1 1911.3 562.1 C1911.9 562.0 1912.6 562.0 1913.3 561.9 C1913.9 561.9 1914.6 561.8 1915.3 561.8 C1915.9 561.7 1916.6 561.7 1917.3 561.7 C1917.9 561.6 1918.6 561.6 1919.3 561.5 C1919.9 561.5 1920.6 561.4 1921.3 561.4 C1921.9 561.4 1922.6 561.3 1923.3 561.3 C1923.9 561.2 1924.6 561.2 1925.3 561.2 C1925.9 561.1 1926.6 561.1 1927.3 561.0 C1927.9 561.0 1928.6 561.0 1929.2 560.9 C1929.9 560.9 1930.6 560.8 1931.2 560.8 C1931.9 560.8 1932.6 560.7 1933.2 560.7 C1933.9 560.7 1934.6 560.6 1935.2 560.6 C1935.9 560.6 1936.6 560.5 1937.2 560.5 C1937.9 560.5 1938.6 560.4 1939.2 560.4 C1939.9 560.3 1940.6 560.3 1941.2 560.3 C1941.9 560.2 1942.6 560.2 1943.2 560.2 C1943.9 560.2 1944.6 560.1 1945.2 560.1 C1945.9 560.1 1946.6 560.0 1947.2 560.0 C1947.9 560.0 1948.6 559.9 1949.2 559.9 C1949.9 559.9 1950.6 559.8 1951.2 559.8 C1951.9 559.8 1952.6 559.8 1953.2 559.7 C1953.9 559.7 1954.6 559.7 1955.2 559.7 C1955.9 559.6 1956.5 559.6 1957.2 559.6 C1957.9 559.5 1958.5 559.5 1959.2 559.5 C1959.9 559.5 1960.5 559.4 1961.2 559.4 C1961.9 559.4 1962.5 559.4 1963.2 559.4 C1963.9 559.3 1964.5 559.3 1965.2 559.3 C1965.9 559.3 1966.5 559.2 1967.2 559.2 C1967.9 559.2 1968.5 559.2 1969.2 559.2 C1969.9 559.1 1970.5 559.1 1971.2 559.1 C1971.9 559.1 1972.5 559.1 1973.2 559.0 C1973.9 559.0 1974.5 559.0 1975.2 559.0 C1975.9 559.0 1976.5 558.9 1977.2 558.9 C1977.9 558.9 1978.5 558.9 1979.2 558.9 C1979.9 558.9 1980.5 558.8 1981.2 558.8 C1981.9 558.8 1982.5 558.8 1983.2 558.8 C1983.9 558.8 1984.5 558.7 1985.2 558.7 C1985.9 558.7 1986.5 558.7 1987.2 558.7 C1987.9 558.7 1988.5 558.7 1989.2 558.6 C1989.9 558.6 1990.5 558.6 1991.2 558.6 C1991.9 558.6 1992.5 558.6 1993.2 558.6 C1993.9 558.5 1994.5 558.5 1995.2 558.5 C1995.9 558.5 1996.5 558.5 1997.2 558.5 C1997.9 558.5 1998.5 558.5 1999.2 558.5 C1999.9 558.4 2000.6 558.4 2001.2 558.4 C2001.9 558.4 2002.6 558.4 2003.2 558.4 C2003.9 558.4 2004.6 558.4 2005.2 558.3 C2005.9 558.3 2006.6 558.3 2007.2 558.3 C2007.9 558.3 2008.6 558.3 2009.2 558.3 C2009.9 558.3 2010.6 558.3 2011.2 558.3 C2011.9 558.2 2012.6 558.2 2013.2 558.2 C2013.9 558.2 2014.6 558.2 2015.2 558.2 C2015.9 558.2 2016.6 558.2 2017.2 558.2 C2017.9 558.1 2018.6 558.1 2019.2 558.1 C2019.9 558.1 2020.6 558.1 2021.2 558.1 C2021.9 558.1 2022.6 558.1 2023.2 558.1 C2023.9 558.1 2024.6 558.0 2025.2 558.0 C2025.9 558.0 2026.6 558.0 2027.2 558.0 C2027.9 558.0 2028.6 558.0 2029.2 558.0 C2029.9 558.0 2030.6 557.9 2031.2 557.9 C2031.9 557.9 2032.6 557.9 2033.2 557.9 C2033.9 557.9 2034.6 557.9 2035.3 557.9 C2035.9 557.8 2036.6 557.8 2037.3 557.8 C2037.9 557.8 2038.6 557.8 2039.3 557.8 C2039.9 557.8 2040.6 557.8 2041.3 557.7 C2041.9 557.7 2042.6 557.7 2043.3 557.7 C2043.9 557.7 2044.6 557.7 2045.3 557.7 C2045.9 557.7 2046.6 557.6 2047.3 557.6 C2047.9 557.6 2048.6 557.6 2049.3 557.6 C2049.9 557.6 2050.6 557.5 2051.3 557.5 C2051.9 557.5 2052.6 557.5 2053.3 557.5 C2053.9 557.5 2054.6 557.4 2055.3 557.4 C2055.9 557.4 2056.6 557.4 2057.3 557.4 C2057.9 557.4 2058.6 557.3 2059.3 557.3 C2059.9 557.3 2060.6 557.3 2061.3 557.3 C2061.9 557.2 2062.6 557.2 2063.3 557.2 C2063.9 557.2 2064.6 557.2 2065.3 557.1 C2065.9 557.1 2066.6 557.1 2067.3 557.1 C2067.9 557.1 2068.6 557.0 2069.3 557.0 C2069.9 557.0 2070.6 557.0 2071.3 556.9 C2071.9 556.9 2072.6 556.9 2073.3 556.9 C2073.9 556.8 2074.6 556.8 2075.3 556.8 C2075.9 556.8 2076.6 556.7 2077.3 556.7 C2077.9 556.7 2078.6 556.6 2079.3 556.6 C2079.9 556.6 2080.6 556.6 2081.3 556.5 C2081.9 556.5 2082.6 556.5 2083.3 556.4 C2083.9 556.4 2084.6 556.4 2085.3 556.3 C2085.9 556.3 2086.6 556.3 2087.3 556.2 C2087.9 556.2 2088.6 556.2 2089.3 556.1 C2089.9 556.1 2090.6 556.1 2091.3 556.0 C2091.9 556.0 2092.6 556.0 2093.3 555.9 C2093.9 555.9 2094.6 555.9 2095.3 555.8 C2095.9 555.8 2096.6 555.7 2097.3 555.7 C2097.9 555.7 2098.6 555.6 2099.3 555.6 C2099.9 555.6 2100.6 555.5 2101.3 555.5 C2101.9 555.4 2102.6 555.4 2103.3 555.4 C2103.9 555.3 2104.6 555.3 2105.3 555.2 C2105.9 555.2 2106.6 555.2 2107.3 555.1 C2107.9 555.1 2108.6 555.0 2109.3 555.0 C2109.9 554.9 2110.6 554.9 2111.3 554.9 C2111.9 554.8 2112.6 554.8 2113.3 554.7 C2113.9 554.7 2114.6 554.6 2115.3 554.6 C2115.9 554.6 2116.6 554.5 2117.3 554.5 C2117.9 554.4 2118.6 554.4 2119.3 554.3 C2119.9 554.3 2120.6 554.3 2121.3 554.2 C2121.9 554.2 2122.6 554.1 2123.3 554.1 C2123.9 554.0 2124.6 554.0 2125.3 554.0 C2125.9 553.9 2126.6 553.9 2127.2 553.8 C2127.9 553.8 2128.6 553.7 2129.2 553.7 C2129.9 553.6 2130.6 553.6 2131.2 553.6 C2131.9 553.5 2132.6 553.5 2133.2 553.4 C2133.9 553.4 2134.6 553.3 2135.2 553.3 C2135.9 553.3 2136.6 553.2 2137.2 553.2 C2137.9 553.1 2138.6 553.1 2139.2 553.0 C2139.9 553.0 2140.6 553.0 2141.2 552.9 C2141.9 552.9 2142.6 552.8 2143.2 552.8 C2143.9 552.7 2144.6 552.7 2145.2 552.7 C2145.9 552.6 2146.6 552.6 2147.2 552.5 C2147.9 552.5 2148.6 552.4 2149.2 552.4 C2149.9 552.4 2150.6 552.3 2151.2 552.3 C2151.9 552.2 2152.6 552.2 2153.2 552.2 C2153.9 552.1 2154.6 552.1 2155.2 552.1 C2155.9 552.0 2156.6 552.0 2157.2 551.9 C2157.9 551.9 2158.6 551.9 2159.2 551.8 C2159.9 551.8 2160.5 551.8 2161.2 551.7 C2161.9 551.7 2162.5 551.6 2163.2 551.6 C2163.9 551.6 2164.5 551.5 2165.2 551.5 C2165.9 551.5 2166.5 551.4 2167.2 551.4 C2167.9 551.4 2168.5 551.3 2169.2 551.3 C2169.9 551.3 2170.5 551.2 2171.2 551.2 C2171.9 551.2 2172.5 551.2 2173.2 551.1 C2173.9 551.1 2174.5 551.1 2175.2 551.0 C2175.9 551.0 2176.5 551.0 2177.2 551.0 C2177.9 550.9 2178.5 550.9 2179.2 550.9 C2179.9 550.8 2180.5 550.8 2181.2 550.8 C2181.9 550.8 2182.5 550.8 2183.2 550.7 C2183.9 550.7 2184.5 550.7 2185.2 550.7 C2185.9 550.6 2186.5 550.6 2187.2 550.6 C2187.9 550.6 2188.5 550.6 2189.2 550.5 C2189.9 550.5 2190.5 550.5 2191.2 550.5 C2191.9 550.5 2192.5 550.5 2193.2 550.5 C2193.9 550.4 2194.5 550.4 2195.2 550.4 C2195.9 550.4 2196.5 550.4 2197.2 550.4 C2197.9 550.4 2198.5 550.4 2199.2 550.3 C2199.9 550.3 2200.5 550.3 2201.2 550.3 C2201.9 550.3 2202.5 550.3 2203.2 550.3 C2203.9 550.3 2204.6 550.3 2205.2 550.3 C2205.9 550.3 2206.6 550.3 2207.2 550.3 C2207.9 550.3 2208.6 550.3 2209.2 550.3 C2209.9 550.3 2210.6 550.3 2211.2 550.3 C2211.9 550.3 2212.6 550.3 2213.2 550.3 C2213.9 550.3 2214.6 550.3 2215.2 550.3 C2215.9 550.3 2216.6 550.3 2217.2 550.4 C2217.9 550.4 2218.6 550.4 2219.2 550.4 C2219.9 550.4 2220.6 550.4 2221.2 550.4 C2221.9 550.5 2222.6 550.5 2223.3 550.5 C2223.9 550.5 2224.6 550.5 2225.3 550.5 C2225.9 550.6 2226.6 550.6 2227.3 550.6 C2227.9 550.6 2228.6 550.7 2229.3 550.7 C2229.9 550.7 2230.6 550.7 2231.3 550.8 C2231.9 550.8 2232.6 550.8 2233.3 550.9 C2233.9 550.9 2234.6 550.9 2235.3 551.0 C2236.0 551.0 2236.6 551.0 2237.3 551.1 C2238.0 551.1 2238.6 551.1 2239.3 551.2 C2240.0 551.2 2241.0 551.3 2241.3 551.3" fill="none" stroke="#000" stroke-width="3.20" stroke-linejoin="round" stroke-linecap="round"/>
<rect x="1179.80" y="20.20" width="1063.50" height="790.90" fill="none" stroke="#000" stroke-width="3.50"/>
<path d="M1317.50 811.10 V828.40 M1514.38 811.10 V820.70 M1711.25 811.10 V828.40 M1908.12 811.10 V820.70 M2105.00 811.10 V828.40" stroke="#000" stroke-width="3.40" fill="none"/>
<text x="60" y="100" font-size="77" fill="#000" transform="matrix(1.0078 0 0 1.0038 -7.99 10.33)">A</text>
<text x="60" y="230" font-size="53" fill="#0000ff" transform="matrix(0.9741 0 0 1.0297 577.21 -96.64)">SCM</text>
<text x="60" y="360" font-size="49" fill="#000" transform="matrix(0.9901 0 0 1.0485 424.62 -129.45)" clip-path="url(#k2)">910 cm</text>
<text x="60" y="490" font-size="28" fill="#000" transform="matrix(1.0053 0 0 1.0474 588.38 -292.41)" clip-path="url(#k3)">-1</text>
<text x="60" y="620" font-size="53" fill="#ff0000" transform="matrix(0.9885 0 0 1.0000 575.34 -253.60)">PLM</text>
<text x="60" y="750" font-size="49" fill="#000" transform="matrix(0.9919 0 0 1.0727 476.00 -325.35)">923 cm</text>
<text x="60" y="880" font-size="28" fill="#000" transform="matrix(1.0263 0 0 1.0947 639.39 -511.37)" clip-path="url(#k6)">-1</text>
<text x="60" y="1010" font-size="53" fill="#000" transform="matrix(0.9782 0 0 0.9811 576.30 -435.69)">PDM</text>
<text x="60" y="1140" font-size="49" fill="#000" transform="matrix(0.9950 0 0 1.0970 476.71 -581.35)">923 cm</text>
<text x="60" y="1270" font-size="28" fill="#000" transform="matrix(1.0211 0 0 1.0737 640.22 -722.38)" clip-path="url(#k9)">-1</text>
<text x="60" y="1400" font-size="72" fill="#000" transform="matrix(0.9682 0 0 1.0180 1153.77 -1317.10)">B</text>
<text x="60" y="1530" font-size="50" fill="#0000ff" transform="matrix(1.0000 0 0 1.0371 2044.00 -1474.13)">SCM</text>
<text x="60" y="1660" font-size="48" fill="#000" transform="matrix(0.9721 0 0 1.0424 1593.06 -1408.52)" clip-path="url(#k12)">1751 cm</text>
<text x="60" y="1790" font-size="27" fill="#000" transform="matrix(1.0556 0 0 1.0211 1772.11 -1532.48)" clip-path="url(#k13)">-1</text>
<text x="60" y="1920" font-size="50" fill="#ff0000" transform="matrix(0.9939 0 0 1.0086 2049.28 -1597.66)">PLM</text>
<text x="60" y="2050" font-size="48" fill="#000" transform="matrix(0.9765 0 0 1.0303 1603.68 -1584.82)" clip-path="url(#k15)">1759 cm</text>
<text x="60" y="2180" font-size="27" fill="#000" transform="matrix(1.0722 0 0 1.0684 1782.49 -1827.76)" clip-path="url(#k16)">-1</text>
<text x="60" y="2310" font-size="50" fill="#000" transform="matrix(0.9914 0 0 1.0171 2042.84 -1811.40)">PDM</text>
<text x="60" y="2440" font-size="48" fill="#000" transform="matrix(0.9754 0 0 1.0394 1602.75 -1799.52)" clip-path="url(#k18)">1759 cm</text>
<text x="60" y="2570" font-size="27" fill="#000" transform="matrix(1.0722 0 0 1.0421 1781.29 -1968.51)" clip-path="url(#k19)">-1</text>
<text x="60" y="2700" font-size="53" fill="#000" transform="matrix(0.9786 0 0 1.0162 53.73 -1870.18)">850</text>
<text x="60" y="2830" font-size="53" fill="#000" transform="matrix(0.9702 0 0 1.0162 408.75 -2002.29)">900</text>
<text x="60" y="2960" font-size="53" fill="#000" transform="matrix(0.9798 0 0 1.0162 762.05 -2134.40)">950</text>
<text x="60" y="3090" font-size="50" fill="#000" transform="matrix(0.9840 0 0 1.0229 1203.81 -2284.03)" clip-path="url(#k23)">1600</text>
<text x="60" y="3220" font-size="50" fill="#000" transform="matrix(0.9915 0 0 1.0229 1596.63 -2417.00)" clip-path="url(#k24)">1800</text>
<text x="60" y="3350" font-size="50" fill="#000" transform="matrix(0.9972 0 0 1.0314 1989.37 -2578.69)">2000</text>
<text x="60" y="3480" font-size="60" fill="#000" transform="matrix(1.0010 0 0 1.0164 205.44 -2592.84)">Wavenumber (cm</text>
<text x="60" y="3610" font-size="35" fill="#000" transform="matrix(1.0208 0 0 1.0542 702.93 -2894.14)" clip-path="url(#k27)">-1</text>
<text x="60" y="3740" font-size="60" fill="#000" transform="matrix(0.8412 0 0 1.0164 746.33 -2857.10)">)</text>
<text x="60" y="3870" font-size="57" fill="#000" transform="matrix(1.0181 0 0 1.0037 1385.41 -2940.08)">Wavenumber (cm</text>
<text x="60" y="4000" font-size="34" fill="#000" transform="matrix(1.0043 0 0 1.0739 1868.13 -3382.75)" clip-path="url(#k30)">-1</text>
<text x="60" y="4130" font-size="57" fill="#000" transform="matrix(0.8375 0 0 1.0037 1909.65 -3201.04)">)</text>
<line x1="629.8" y1="435.0" x2="661.1" y2="415.8" stroke="#000" stroke-width="2.60"/>
<polygon points="677.3,405.8 662.7,422.1 656.2,411.5" fill="#000"/>
<line x1="629.8" y1="623.2" x2="661.2" y2="603.8" stroke="#000" stroke-width="2.60"/>
<polygon points="677.4,593.8 662.8,610.1 656.3,599.6" fill="#000"/>
</svg>
</body></html>
